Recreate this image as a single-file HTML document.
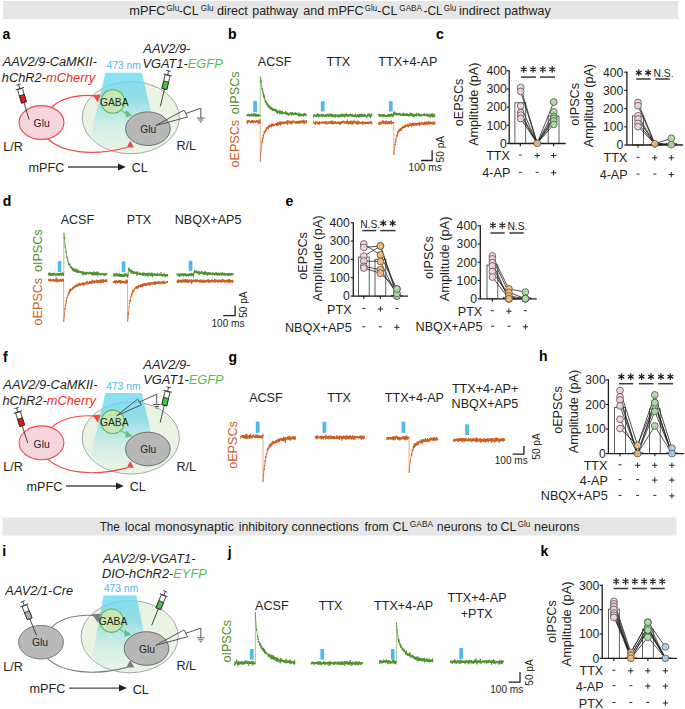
<!DOCTYPE html>
<html><head><meta charset="utf-8"><style>html,body{margin:0;padding:0;background:#fff;width:685px;height:709px;overflow:hidden}svg{display:block}text{font-family:"Liberation Sans",sans-serif}</style></head><body>
<svg width="685" height="709" viewBox="0 0 685 709" font-family="Liberation Sans, sans-serif"><defs><linearGradient id="conea" gradientUnits="userSpaceOnUse" x1="0" y1="72.8" x2="0" y2="154"><stop offset="0" stop-color="#6adcf4" stop-opacity="0.82"/><stop offset="0.3" stop-color="#6fd3e6" stop-opacity="0.72"/><stop offset="0.62" stop-color="#a8e2ea" stop-opacity="0.45"/><stop offset="1" stop-color="#d8f0f0" stop-opacity="0"/></linearGradient><linearGradient id="conef" gradientUnits="userSpaceOnUse" x1="0" y1="393.1" x2="0" y2="474.3"><stop offset="0" stop-color="#6adcf4" stop-opacity="0.82"/><stop offset="0.3" stop-color="#6fd3e6" stop-opacity="0.72"/><stop offset="0.62" stop-color="#a8e2ea" stop-opacity="0.45"/><stop offset="1" stop-color="#d8f0f0" stop-opacity="0"/></linearGradient><linearGradient id="conei" gradientUnits="userSpaceOnUse" x1="0" y1="595.3" x2="0" y2="673.8"><stop offset="0" stop-color="#6adcf4" stop-opacity="0.82"/><stop offset="0.3" stop-color="#6fd3e6" stop-opacity="0.72"/><stop offset="0.62" stop-color="#a8e2ea" stop-opacity="0.45"/><stop offset="1" stop-color="#d8f0f0" stop-opacity="0"/></linearGradient></defs><rect width="685" height="709" fill="#fff"/><rect x="3" y="1" width="675" height="18" fill="#e6e6e6" />
<text transform="translate(129.25,15.1) scale(1.0399,1)" font-size="12.3" text-anchor="start" fill="#231f20">mPFC</text>
<text transform="translate(166.28,11.2) scale(1.0251,1)" font-size="8.2" text-anchor="start" fill="#231f20">Glu</text>
<text transform="translate(178.75,15.1) scale(1.0019,1)" font-size="12.3" text-anchor="start" fill="#231f20">-CL</text>
<text transform="translate(200.79,11.2) scale(0.9997,1)" font-size="8.2" text-anchor="start" fill="#231f20">Glu</text>
<text transform="translate(216.97,15.1) scale(1.0281,1)" font-size="12.3" text-anchor="start" fill="#231f20">direct</text>
<text transform="translate(252.3,15.1) scale(1.0045,1)" font-size="12.3" text-anchor="start" fill="#231f20">pathway</text>
<text transform="translate(303.37,15.1) scale(1.0205,1)" font-size="12.3" text-anchor="start" fill="#231f20">and</text>
<text transform="translate(327.86,15.1) scale(1.031,1)" font-size="12.3" text-anchor="start" fill="#231f20">mPFC</text>
<text transform="translate(364.81,11.2) scale(0.9573,1)" font-size="8.2" text-anchor="start" fill="#231f20">Glu</text>
<text transform="translate(377.24,15.1) scale(1.0178,1)" font-size="12.3" text-anchor="start" fill="#231f20">-CL</text>
<text transform="translate(399.29,11.2) scale(0.9974,1)" font-size="8.2" text-anchor="start" fill="#231f20">GABA</text>
<text transform="translate(423.47,15.1) scale(0.9754,1)" font-size="12.3" text-anchor="start" fill="#231f20">-CL</text>
<text transform="translate(443.8,11.2) scale(0.9743,1)" font-size="8.2" text-anchor="start" fill="#231f20">Glu</text>
<text transform="translate(458.95,15.1) scale(1.0274,1)" font-size="12.3" text-anchor="start" fill="#231f20">indirect</text>
<text transform="translate(504.3,15.1) scale(1.0134,1)" font-size="12.3" text-anchor="start" fill="#231f20">pathway</text>
<rect x="2.5" y="517.5" width="674" height="18" fill="#e6e6e6" />
<text transform="translate(99.64,530.9) scale(0.95,1)" font-size="12.3" text-anchor="start" fill="#231f20">The</text>
<text transform="translate(124.76,530.9) scale(1.0108,1)" font-size="12.3" text-anchor="start" fill="#231f20">local</text>
<text transform="translate(154.75,530.9) scale(1.0448,1)" font-size="12.3" text-anchor="start" fill="#231f20">monosynaptic</text>
<text transform="translate(238.68,530.9) scale(1.0005,1)" font-size="12.3" text-anchor="start" fill="#231f20">inhibitory</text>
<text transform="translate(291.56,530.9) scale(1.0266,1)" font-size="12.3" text-anchor="start" fill="#231f20">connections</text>
<text transform="translate(364.43,530.9) scale(0.9867,1)" font-size="12.3" text-anchor="start" fill="#231f20">from</text>
<text transform="translate(392.47,530.9) scale(1.0075,1)" font-size="12.3" text-anchor="start" fill="#231f20">CL</text>
<text transform="translate(409.78,527) scale(1.0243,1)" font-size="8.2" text-anchor="start" fill="#231f20">GABA</text>
<text transform="translate(436.87,530.9) scale(1.0119,1)" font-size="12.3" text-anchor="start" fill="#231f20">neurons</text>
<text transform="translate(486.91,530.9) scale(1.0256,1)" font-size="12.3" text-anchor="start" fill="#231f20">to</text>
<text transform="translate(500.47,530.9) scale(1.0075,1)" font-size="12.3" text-anchor="start" fill="#231f20">CL</text>
<text transform="translate(517.79,527) scale(0.9828,1)" font-size="8.2" text-anchor="start" fill="#231f20">Glu</text>
<text transform="translate(534.06,530.9) scale(1.0234,1)" font-size="12.3" text-anchor="start" fill="#231f20">neurons</text>
<text transform="translate(2.59,38.8)" font-size="14" text-anchor="start" fill="#000" font-weight="bold">a</text>
<text transform="translate(227.98,38.7)" font-size="14" text-anchor="start" fill="#000" font-weight="bold">b</text>
<text transform="translate(435.95,39)" font-size="14" text-anchor="start" fill="#000" font-weight="bold">c</text>
<text transform="translate(2.63,205.6)" font-size="14" text-anchor="start" fill="#000" font-weight="bold">d</text>
<text transform="translate(285.45,205.9)" font-size="14" text-anchor="start" fill="#000" font-weight="bold">e</text>
<text transform="translate(2.96,362.2)" font-size="14" text-anchor="start" fill="#000" font-weight="bold">f</text>
<text transform="translate(228.53,361.7)" font-size="14" text-anchor="start" fill="#000" font-weight="bold">g</text>
<text transform="translate(539.02,361.4)" font-size="14" text-anchor="start" fill="#000" font-weight="bold">h</text>
<text transform="translate(2.22,556.4)" font-size="14" text-anchor="start" fill="#000" font-weight="bold">i</text>
<text transform="translate(227.82,556.6)" font-size="14" text-anchor="start" fill="#000" font-weight="bold">j</text>
<text transform="translate(540.52,556.2)" font-size="14" text-anchor="start" fill="#000" font-weight="bold">k</text>
<ellipse cx="130.8" cy="117.7" rx="48.6" ry="36.1" fill="#e9f5e2" stroke="#a6a6a6" stroke-width="1"/>
<polygon points="105.4,72.8 141.8,72.8 161,154 86.5,154" fill="url(#conea)"/>
<ellipse cx="41.5" cy="122.5" rx="22.4" ry="16.9" fill="#f5d6dc" stroke="#ef4848" stroke-width="1.1"/>
<path d="M52,107 C62,97 80,94.5 95,95.8" fill="none" stroke="#ef4848" stroke-width="1.2"/>
<path d="M47.5,138.8 C62,152 90,157 127,147.5" fill="none" stroke="#ef4848" stroke-width="1.2"/>
<polygon points="92.63,94.89 100.45,94.42 97.92,102.47" fill="#ef4848"/>
<polygon points="126.73,147.5 133.87,147.5 130.3,140.72" fill="#ef4848"/>
<circle cx="112.8" cy="101.5" r="11.7" fill="#c8e6b4" stroke="#4cbf4c" stroke-width="1.1"/>
<line x1="120.5" y1="110" x2="127" y2="114" stroke="#5cc38a" stroke-width="1.1"/>
<polygon points="126,110.3 132.6,115.6 125.5,117.5" fill="#5cc38a"/>
<ellipse cx="147.9" cy="128.7" rx="22.3" ry="16.8" fill="#b7b7b7" stroke="#6f6f6f" stroke-width="1"/>
<text transform="translate(99.94,105.8)" font-size="10.3" text-anchor="start" fill="#231f20">GABA</text>
<text transform="translate(140.32,132.9)" font-size="10.3" text-anchor="start" fill="#231f20">Glu</text>
<text transform="translate(33.62,127.2)" font-size="10.3" text-anchor="start" fill="#231f20">Glu</text>
<g fill="none" stroke="#555" stroke-width="1"><path d="M155.8,125.5 L184.1,110.1 L187.5,117 Z"/><path d="M185.8,113.5 L200.8,108.3 L200.8,118"/><path d="M197,118 H204.6 M198.4,120 H203.2 M199.8,122 H201.8"/></g>
<text transform="translate(3.17,150.7) scale(1.025,1)" font-size="12.3" text-anchor="start" fill="#231f20">L/R</text>
<text transform="translate(176.48,150.4) scale(1.025,1)" font-size="12.3" text-anchor="start" fill="#231f20">R/L</text>
<text transform="translate(28.56,171.6) scale(1.025,1)" font-size="12.3" text-anchor="start" fill="#231f20">mPFC</text>
<text transform="translate(131.78,172.4) scale(1.025,1)" font-size="12.3" text-anchor="start" fill="#231f20">CL</text>
<line x1="68" y1="167" x2="119" y2="167" stroke="#4a4a4a" stroke-width="1.3" />
<polygon points="118,163.5 125.8,167 118,170.4" fill="#231f20"/>
<g transform="translate(18.6,84.6) rotate(-16.7)" stroke="#231f20" stroke-width="0.75" fill="none"><line x1="-2.3" y1="0" x2="2.3" y2="0"/><line x1="0" y1="0" x2="0" y2="4.2"/><line x1="-4.3" y1="4.2" x2="4.3" y2="4.2"/><rect x="-2.5" y="4.6" width="5" height="14" fill="#fff"/><rect x="-2.5" y="11" width="5" height="7.6" fill="#e81818"/><line x1="0" y1="18.6" x2="0" y2="36.5"/></g>
<g transform="translate(168.6,70.8) rotate(13)" stroke="#231f20" stroke-width="0.75" fill="none"><line x1="-2.3" y1="0" x2="2.3" y2="0"/><line x1="0" y1="0" x2="0" y2="4.2"/><line x1="-4.3" y1="4.2" x2="4.3" y2="4.2"/><rect x="-2.5" y="4.6" width="5" height="14" fill="#fff"/><rect x="-2.5" y="11" width="5" height="7.6" fill="#3fc34a"/><line x1="0" y1="18.6" x2="0" y2="36.5"/></g>
<text transform="translate(2.63,66.1) scale(1.04345,1)" font-size="12.3" text-anchor="start" fill="#231f20" font-style="italic">AAV2/9-CaMKII-</text>
<text transform="translate(1.79,81.8) scale(1.04345,1)" font-size="12.3" text-anchor="start" fill="#231f20" font-style="italic">hChR2-<tspan fill="#f2282a">mCherry</tspan></text>
<text transform="translate(143.33,52.6) scale(1.04345,1)" font-size="12.3" text-anchor="start" fill="#231f20" font-style="italic">AAV2/9-</text>
<text transform="translate(142.39,68.3) scale(1.04345,1)" font-size="12.3" text-anchor="start" fill="#231f20" font-style="italic">VGAT1-<tspan fill="#4cc24c">EGFP</tspan></text>
<text transform="translate(106.54,69)" font-size="10.3" text-anchor="start" fill="#4fb9ec">473 nm</text>
<ellipse cx="130.8" cy="438" rx="48.6" ry="36.1" fill="#e9f5e2" stroke="#a6a6a6" stroke-width="1"/>
<polygon points="105.4,393.1 141.8,393.1 161,474.3 86.5,474.3" fill="url(#conef)"/>
<ellipse cx="41.5" cy="442.8" rx="22.4" ry="16.9" fill="#f5d6dc" stroke="#ef4848" stroke-width="1.1"/>
<path d="M52,427.3 C62,417.3 80,414.8 95,416.1" fill="none" stroke="#ef4848" stroke-width="1.2"/>
<path d="M47.5,459.1 C62,472.3 90,477.3 127,467.8" fill="none" stroke="#ef4848" stroke-width="1.2"/>
<polygon points="92.63,415.19 100.45,414.73 97.92,422.78" fill="#ef4848"/>
<polygon points="126.73,467.8 133.87,467.8 130.3,461.02" fill="#ef4848"/>
<circle cx="112.8" cy="421.8" r="11.7" fill="#c8e6b4" stroke="#4cbf4c" stroke-width="1.1"/>
<line x1="120.5" y1="430.3" x2="127" y2="434.3" stroke="#5cc38a" stroke-width="1.1"/>
<polygon points="126,430.6 132.6,435.9 125.5,437.8" fill="#5cc38a"/>
<ellipse cx="147.9" cy="449" rx="22.3" ry="16.8" fill="#b7b7b7" stroke="#6f6f6f" stroke-width="1"/>
<text transform="translate(99.94,426.1)" font-size="10.3" text-anchor="start" fill="#231f20">GABA</text>
<text transform="translate(140.32,453.2)" font-size="10.3" text-anchor="start" fill="#231f20">Glu</text>
<text transform="translate(33.62,447.5)" font-size="10.3" text-anchor="start" fill="#231f20">Glu</text>
<g fill="none" stroke="#555" stroke-width="1"><path d="M116.5,415.8 L137.6,399.2 L141.5,404.8 Z"/><path d="M139.6,402 L156.7,394.2 L156.7,404.6"/><path d="M153,404.6 H160.4 M154.4,406.4 H159 M155.8,408.2 H157.6"/></g>
<text transform="translate(3.17,471) scale(1.025,1)" font-size="12.3" text-anchor="start" fill="#231f20">L/R</text>
<text transform="translate(176.48,470.7) scale(1.025,1)" font-size="12.3" text-anchor="start" fill="#231f20">R/L</text>
<text transform="translate(26.56,490.6) scale(1.025,1)" font-size="12.3" text-anchor="start" fill="#231f20">mPFC</text>
<text transform="translate(129.78,491.4) scale(1.025,1)" font-size="12.3" text-anchor="start" fill="#231f20">CL</text>
<line x1="66" y1="486" x2="117" y2="486" stroke="#4a4a4a" stroke-width="1.3" />
<polygon points="116,482.5 123.8,486 116,489.4" fill="#231f20"/>
<g transform="translate(16.6,408) rotate(-17.6)" stroke="#231f20" stroke-width="0.75" fill="none"><line x1="-2.3" y1="0" x2="2.3" y2="0"/><line x1="0" y1="0" x2="0" y2="4.2"/><line x1="-4.3" y1="4.2" x2="4.3" y2="4.2"/><rect x="-2.5" y="4.6" width="5" height="14" fill="#fff"/><rect x="-2.5" y="11" width="5" height="7.6" fill="#e81818"/><line x1="0" y1="18.6" x2="0" y2="36.5"/></g>
<g transform="translate(168.6,387.2) rotate(13.4)" stroke="#231f20" stroke-width="0.75" fill="none"><line x1="-2.3" y1="0" x2="2.3" y2="0"/><line x1="0" y1="0" x2="0" y2="4.2"/><line x1="-4.3" y1="4.2" x2="4.3" y2="4.2"/><rect x="-2.5" y="4.6" width="5" height="14" fill="#fff"/><rect x="-2.5" y="11" width="5" height="7.6" fill="#3fc34a"/><line x1="0" y1="18.6" x2="0" y2="36.5"/></g>
<text transform="translate(3.33,389.2) scale(1.04345,1)" font-size="12.3" text-anchor="start" fill="#231f20" font-style="italic">AAV2/9-CaMKII-</text>
<text transform="translate(2.49,404.5) scale(1.04345,1)" font-size="12.3" text-anchor="start" fill="#231f20" font-style="italic">hChR2-<tspan fill="#f2282a">mCherry</tspan></text>
<text transform="translate(143.33,369.1) scale(1.04345,1)" font-size="12.3" text-anchor="start" fill="#231f20" font-style="italic">AAV2/9-</text>
<text transform="translate(143.29,384.3) scale(1.04345,1)" font-size="12.3" text-anchor="start" fill="#231f20" font-style="italic">VGAT1-<tspan fill="#4cc24c">EGFP</tspan></text>
<text transform="translate(106.14,389.8)" font-size="10.3" text-anchor="start" fill="#4fb9ec">473 nm</text>
<ellipse cx="129.7" cy="636.7" rx="48.6" ry="36.1" fill="#e9f5e2" stroke="#a6a6a6" stroke-width="1"/>
<polygon points="103.6,595.3 136.3,595.3 152.2,673.8 89,673.8" fill="url(#conei)"/>
<ellipse cx="41" cy="642.2" rx="22.4" ry="16.8" fill="#b9b9b9" stroke="#7a7a7a" stroke-width="1"/>
<path d="M52,626.8 C62,616.8 80,614.3 95,615.6" fill="none" stroke="#7d7d7d" stroke-width="1.2"/>
<path d="M47.5,658.6 C62,671.8 90,676.8 127,667.3" fill="none" stroke="#7d7d7d" stroke-width="1.2"/>
<polygon points="92.06,614.37 100.9,613.85 98.04,622.95" fill="#7d7d7d"/>
<polygon points="126.27,667.6 134.33,667.6 130.3,659.93" fill="#7d7d7d"/>
<circle cx="111.6" cy="620.7" r="11.7" fill="#c8e6b4" stroke="#4cbf4c" stroke-width="1.1"/>
<line x1="119.3" y1="629.2" x2="125.8" y2="633.2" stroke="#5cc38a" stroke-width="1.1"/>
<polygon points="124.8,629.5 131.4,634.8 124.3,636.7" fill="#5cc38a"/>
<ellipse cx="146.5" cy="648.5" rx="22.3" ry="16.8" fill="#b7b7b7" stroke="#6f6f6f" stroke-width="1"/>
<text transform="translate(98.74,625)" font-size="10.3" text-anchor="start" fill="#231f20">GABA</text>
<text transform="translate(138.92,652.7)" font-size="10.3" text-anchor="start" fill="#231f20">Glu</text>
<text transform="translate(31.92,645.6)" font-size="10.3" text-anchor="start" fill="#231f20">Glu</text>
<g fill="none" stroke="#555" stroke-width="1"><path d="M155.8,645.3 L184.1,629.9 L187.5,636.8 Z"/><path d="M185.8,633.3 L200.8,628.1 L200.8,637.8"/><path d="M197,637.8 H204.6 M198.4,639.8 H203.2 M199.8,641.8 H201.8"/></g>
<text transform="translate(3.17,670.5) scale(1.025,1)" font-size="12.3" text-anchor="start" fill="#231f20">L/R</text>
<text transform="translate(176.48,670.2) scale(1.025,1)" font-size="12.3" text-anchor="start" fill="#231f20">R/L</text>
<text transform="translate(29.56,692.7) scale(1.025,1)" font-size="12.3" text-anchor="start" fill="#231f20">mPFC</text>
<text transform="translate(132.78,693.5) scale(1.025,1)" font-size="12.3" text-anchor="start" fill="#231f20">CL</text>
<line x1="69" y1="688.1" x2="120" y2="688.1" stroke="#4a4a4a" stroke-width="1.3" />
<polygon points="119,684.6 126.8,688.1 119,691.5" fill="#231f20"/>
<g transform="translate(22.7,601.5) rotate(-22.2)" stroke="#231f20" stroke-width="0.75" fill="none"><line x1="-2.3" y1="0" x2="2.3" y2="0"/><line x1="0" y1="0" x2="0" y2="4.2"/><line x1="-4.3" y1="4.2" x2="4.3" y2="4.2"/><rect x="-2.5" y="4.6" width="5" height="14" fill="#fff"/><rect x="-2.5" y="11" width="5" height="7.6" fill="#b0b0b0"/><line x1="0" y1="18.6" x2="0" y2="36.5"/></g>
<g transform="translate(165.3,591.4) rotate(21.9)" stroke="#231f20" stroke-width="0.75" fill="none"><line x1="-2.3" y1="0" x2="2.3" y2="0"/><line x1="0" y1="0" x2="0" y2="4.2"/><line x1="-4.3" y1="4.2" x2="4.3" y2="4.2"/><rect x="-2.5" y="4.6" width="5" height="14" fill="#fff"/><rect x="-2.5" y="11" width="5" height="7.6" fill="#3fc34a"/><line x1="0" y1="18.6" x2="0" y2="36.5"/></g>
<text transform="translate(5.33,595) scale(1.04345,1)" font-size="12.3" text-anchor="start" fill="#231f20" font-style="italic">AAV2/1-Cre</text>
<text transform="translate(103.03,562.5) scale(1.04345,1)" font-size="12.3" text-anchor="start" fill="#231f20" font-style="italic">AAV2/9-VGAT1-</text>
<text transform="translate(102.01,577.8) scale(1.04345,1)" font-size="12.3" text-anchor="start" fill="#231f20" font-style="italic">DIO-hChR2-<tspan fill="#4cc24c">EYFP</tspan></text>
<text transform="translate(103.89,591.9)" font-size="10.3" text-anchor="start" fill="#4fb9ec">473 nm</text>
<text transform="translate(257.78,66) scale(1.025,1)" font-size="12.3" text-anchor="start" fill="#231f20">ACSF</text>
<text transform="translate(326.44,66) scale(1.025,1)" font-size="12.3" text-anchor="start" fill="#231f20">TTX</text>
<text transform="translate(378.29,66) scale(1.025,1)" font-size="12.3" text-anchor="start" fill="#231f20">TTX+4-AP</text>
<text transform="translate(238.8,119.5) rotate(-90) scale(1.025,1)" font-size="12.3" text-anchor="middle" fill="#231f20"><tspan fill="#c85c1e">oEPSCs</tspan> <tspan fill="#4e8f2c" dx="2.2">oIPSCs</tspan></text>
<polyline points="246.80,115.0 246.90,115.6 247.00,115.0 247.10,114.9 247.20,114.4 247.30,115.0 247.40,116.1 247.50,115.6 247.60,116.1 247.70,115.4 247.80,115.5 247.90,115.4 248.00,113.8 248.10,115.9 248.20,115.6 248.30,115.6 248.40,113.8 248.50,113.7 248.60,114.4 248.70,114.8 248.80,115.5 248.90,115.2 249.00,115.6 249.10,114.7 249.20,115.5 249.30,115.5 249.40,114.6 249.50,116.7 249.60,115.7 249.70,116.2 249.80,114.7 249.90,114.6 250.00,114.9 250.10,115.1 250.20,115.7 250.30,115.4 250.40,114.8 250.50,114.4 250.60,114.8 250.70,116.2 250.80,114.5 250.90,115.4 251.00,115.6 251.10,113.9 251.20,115.2 251.30,116.3 251.40,113.5 251.50,114.9 251.60,115.1 251.70,114.5 251.80,115.6 251.90,115.1 252.00,114.0 252.10,115.9 252.20,115.8 252.30,116.0 252.40,116.4 252.50,115.5 252.60,115.3 252.70,114.1 252.80,115.7 252.90,114.7 253.00,114.8 253.10,114.1 253.20,114.4 253.30,114.7 253.40,116.3 253.50,113.5 253.60,114.0 253.70,115.4 253.80,116.4 253.90,115.7 254.00,113.6 254.10,113.1 254.20,115.5 254.30,114.6 254.40,114.2 254.50,116.0 254.60,116.1 254.70,115.3 254.80,115.4 254.90,115.6 255.00,116.6 255.10,115.7 255.20,115.6 255.30,115.7 255.40,113.9 255.50,116.3 255.60,116.0 255.70,115.7 255.80,113.5 255.90,114.7 256.00,115.9 256.10,113.7 256.20,115.0 256.30,116.1 256.40,114.1 256.50,116.6 256.60,115.7 256.70,115.1 256.80,115.5 256.90,115.8 257.00,115.3 257.10,116.2 257.20,114.6 257.30,114.8 257.40,116.1 257.50,115.2 257.60,114.5 257.70,116.0 257.80,116.4 257.90,114.8 258.00,114.0 258.10,115.1 258.20,115.1 258.30,114.9 258.40,116.4 258.50,114.3 258.60,116.3 258.70,114.1 258.80,114.5 258.90,115.7 259.00,116.2 259.10,115.9 259.20,115.5 259.30,115.3 259.40,115.3 259.50,115.7 259.60,115.1 259.70,115.4 259.80,115.7 259.90,115.2 260.00,115.8 260.10,115.7 260.20,116.9" fill="none" stroke="#4e8f2c" stroke-width="0.75" stroke-linejoin="round"/>
<polyline points="260.30,76.2 260.40,76.4 260.50,77.3 260.60,78.4 260.70,80.0 260.80,79.7 260.90,81.1 261.00,83.0 261.10,80.0 261.20,81.9 261.30,83.8 261.40,84.5 261.50,85.1 261.60,85.1 261.70,86.6 261.80,86.9 261.90,86.8 262.00,89.9 262.10,88.7 262.20,88.4 262.30,89.4 262.40,89.8 262.50,90.4 262.60,88.6 262.70,91.0 262.80,92.7 262.90,91.3 263.00,92.7 263.10,94.0 263.20,94.3 263.30,95.3 263.40,93.0 263.50,94.5 263.60,94.9 263.70,96.1 263.80,96.8 263.90,94.0 264.00,97.5 264.10,95.7 264.20,97.8 264.30,96.3 264.40,98.0 264.50,99.2 264.60,98.3 264.70,98.9 264.80,99.7 264.90,99.4 265.00,99.5 265.10,101.2 265.20,101.0 265.30,100.1 265.40,102.9 265.50,99.9 265.60,101.9 265.70,101.1 265.80,101.6 265.90,102.3 266.00,102.1 266.10,102.7 266.20,101.1 266.30,101.3 266.40,103.3 266.50,102.1 266.60,102.3 266.70,102.1 266.80,104.6 266.90,104.3 267.00,105.1 267.10,103.2 267.20,104.2 267.30,103.4 267.40,105.1 267.50,106.0 267.60,104.0 267.70,106.3 267.80,105.9 267.90,105.1 268.00,103.7 268.10,106.7 268.20,105.5 268.30,105.2 268.40,106.2 268.50,106.3 268.60,107.4 268.70,105.4 268.80,107.3 268.90,107.7 269.00,107.8 269.10,106.5 269.20,106.2 269.30,107.8 269.40,107.1 269.50,107.2 269.60,108.4 269.70,107.1 269.80,105.4 269.90,107.2 270.00,106.0 270.10,108.4 270.20,108.0 270.30,107.3 270.40,107.9 270.50,108.7 270.60,108.2 270.70,109.3 270.80,108.2 270.90,109.2 271.00,109.7 271.10,109.9 271.20,108.0 271.30,109.4 271.40,107.1 271.50,107.9 271.60,107.2 271.70,109.8 271.80,107.9 271.90,109.0 272.00,109.0 272.10,109.2 272.20,108.7 272.30,109.5 272.40,110.9 272.50,109.5 272.60,109.9 272.70,110.4 272.80,109.4 272.90,108.6 273.00,109.2 273.10,110.7 273.20,108.4 273.30,109.4 273.40,110.8 273.50,110.6 273.60,110.0 273.70,110.8 273.80,110.3 273.90,109.2 274.00,108.9 274.10,109.7 274.20,111.1 274.30,109.9 274.40,109.6 274.50,109.8 274.60,109.2 274.70,110.4 274.80,109.6 274.90,110.9 275.00,108.7 275.10,111.0 275.20,110.2 275.30,109.1 275.40,111.4 275.50,110.6 275.60,109.0 275.70,110.2 275.80,111.2 275.90,110.6 276.00,111.7 276.10,111.7 276.20,111.7 276.30,111.4 276.40,112.3 276.50,111.8 276.60,111.6 276.70,109.5 276.80,112.1 276.90,112.5 277.00,111.1 277.10,111.0 277.20,113.1 277.30,110.0 277.40,111.9 277.50,113.6 277.60,110.8 277.70,112.2 277.80,113.2 277.90,111.6 278.00,112.2 278.10,112.5 278.20,111.0 278.30,111.7 278.40,112.1 278.50,112.5 278.60,111.8 278.70,111.7 278.80,111.1 278.90,111.6 279.00,112.7 279.10,112.1 279.20,111.3 279.30,111.3 279.40,114.3 279.50,113.1 279.60,112.7 279.70,109.9 279.80,112.7 279.90,112.6 280.00,113.6 280.10,112.6 280.20,112.2 280.30,112.7 280.40,110.7 280.50,113.2 280.60,112.6 280.70,111.8 280.80,113.5 280.90,114.0 281.00,111.2 281.10,111.9 281.20,112.7 281.30,112.7 281.40,112.2 281.50,111.7 281.60,114.4 281.70,113.5 281.80,111.6 281.90,111.5 282.00,114.1 282.10,113.5 282.20,114.2 282.30,113.4 282.40,112.0 282.50,113.0 282.60,110.9 282.70,112.1 282.80,112.7 282.90,113.3 283.00,112.2 283.10,112.7 283.20,113.3 283.30,113.2 283.40,113.4 283.50,113.1 283.60,112.7 283.70,113.6 283.80,113.0 283.90,112.3 284.00,112.5 284.10,113.0 284.20,112.9 284.30,113.2 284.40,113.1 284.50,113.2 284.60,113.0 284.70,112.0 284.80,113.5 284.90,114.0 285.00,113.5 285.10,113.0 285.20,113.6 285.30,112.4 285.40,111.6 285.50,113.3 285.60,112.5 285.70,113.9 285.80,112.4 285.90,111.1 286.00,112.4 286.10,114.7 286.20,113.0 286.30,112.2 286.40,112.7 286.50,113.8 286.60,113.8 286.70,113.5 286.80,114.7 286.90,114.0 287.00,113.4 287.10,114.0 287.20,114.9 287.30,114.3 287.40,114.4 287.50,112.6 287.60,113.4 287.70,114.1 287.80,113.3 287.90,114.5 288.00,114.1 288.10,114.3 288.20,113.4 288.30,115.8 288.40,114.7 288.50,113.4 288.60,113.7 288.70,115.8 288.80,113.4 288.90,114.4 289.00,114.5 289.10,113.7 289.20,112.7 289.30,113.9 289.40,114.0 289.50,114.7 289.60,114.4 289.70,113.8 289.80,114.5 289.90,114.2 290.00,114.0 290.10,113.8 290.20,113.6 290.30,114.4 290.40,112.9 290.50,113.3 290.60,113.8 290.70,112.6 290.80,113.5 290.90,112.2 291.00,113.3 291.10,114.4 291.20,114.4 291.30,113.9 291.40,113.7 291.50,112.7 291.60,115.5 291.70,114.4 291.80,114.9 291.90,113.2 292.00,113.8 292.10,112.4 292.20,114.7 292.30,114.8 292.40,112.4 292.50,114.0 292.60,114.6 292.70,112.5 292.80,112.5 292.90,113.1 293.00,113.5 293.10,112.9 293.20,114.1 293.30,114.3 293.40,114.6 293.50,114.7 293.60,115.4 293.70,115.1 293.80,113.0 293.90,113.7 294.00,113.2 294.10,113.2 294.20,114.1 294.30,114.2 294.40,114.6 294.50,112.8 294.60,113.1 294.70,114.2 294.80,114.0 294.90,113.9 295.00,114.2 295.10,113.6 295.20,114.8 295.30,114.5 295.40,114.2 295.50,113.7 295.60,114.1 295.70,111.9 295.80,113.4 295.90,114.3 296.00,113.0 296.10,114.5 296.20,114.4 296.30,113.1 296.40,114.1 296.50,114.0 296.60,114.7 296.70,114.8 296.80,114.3 296.90,113.6 297.00,114.2 297.10,114.3 297.20,115.0 297.30,114.6 297.40,113.8 297.50,113.2 297.60,114.1 297.70,113.8 297.80,113.4 297.90,114.3 298.00,114.0 298.10,114.5 298.20,114.9 298.30,114.1 298.40,116.4 298.50,114.2 298.60,115.4 298.70,114.5 298.80,115.4 298.90,112.4 299.00,113.8 299.10,114.7 299.20,115.0 299.30,116.5 299.40,114.8 299.50,115.6 299.60,115.1 299.70,115.3 299.80,114.9 299.90,114.4 300.00,114.9 300.10,113.6 300.20,115.5 300.30,113.7 300.40,114.7 300.50,116.3 300.60,114.3 300.70,114.6 300.80,115.5 300.90,114.6 301.00,113.9 301.10,114.8 301.20,115.1 301.30,115.2 301.40,113.9 301.50,116.1 301.60,116.0 301.70,114.6 301.80,114.8 301.90,114.2 302.00,115.8 302.10,114.0 302.20,115.2 302.30,114.2 302.40,114.0 302.50,115.2 302.60,115.8 302.70,114.6 302.80,114.1 302.90,115.3 303.00,114.6 303.10,114.9 303.20,115.9 303.30,115.6 303.40,114.2 303.50,116.6 303.60,114.7 303.70,115.3 303.80,114.1 303.90,114.6 304.00,113.2 304.10,116.2 304.20,115.8 304.30,113.7 304.40,113.4 304.50,113.3 304.60,115.7 304.70,114.3 304.80,114.7 304.90,114.4 305.00,114.6 305.10,113.8 305.20,114.7 305.30,113.5 305.40,114.7 305.50,115.0 305.60,115.1 305.70,114.5 305.80,114.0 305.90,114.9 306.00,114.3 306.10,116.1 306.20,115.4 306.30,114.7 306.40,114.4 306.50,114.2 306.60,114.0" fill="none" stroke="#4e8f2c" stroke-width="0.75" stroke-linejoin="round"/>
<line x1="260.20" y1="116.9" x2="260.30" y2="76.2" stroke="#4e8f2c" stroke-width="0.7" opacity="0.7"/>
<polyline points="246.80,121.3 246.90,121.9 247.00,122.0 247.10,122.1 247.20,123.4 247.30,121.0 247.40,121.6 247.50,124.0 247.60,120.0 247.70,121.2 247.80,121.7 247.90,121.7 248.00,121.9 248.10,121.4 248.20,121.9 248.30,121.6 248.40,122.3 248.50,120.0 248.60,120.8 248.70,121.6 248.80,120.7 248.90,120.7 249.00,122.1 249.10,121.0 249.20,122.1 249.30,122.2 249.40,121.9 249.50,122.0 249.60,121.5 249.70,120.4 249.80,121.6 249.90,122.0 250.00,121.2 250.10,121.5 250.20,122.2 250.30,120.9 250.40,122.1 250.50,123.2 250.60,121.1 250.70,121.7 250.80,121.5 250.90,122.9 251.00,121.9 251.10,122.4 251.20,121.0 251.30,121.6 251.40,121.6 251.50,120.1 251.60,122.8 251.70,122.4 251.80,120.1 251.90,122.2 252.00,121.5 252.10,122.0 252.20,121.9 252.30,120.3 252.40,121.4 252.50,122.9 252.60,121.1 252.70,120.7 252.80,120.4 252.90,120.6 253.00,121.9 253.10,123.0 253.20,122.0 253.30,121.8 253.40,123.5 253.50,121.2 253.60,121.0 253.70,122.0 253.80,122.1 253.90,120.7 254.00,120.6 254.10,121.8 254.20,121.8 254.30,120.5 254.40,121.4 254.50,121.1 254.60,122.0 254.70,121.5 254.80,121.5 254.90,121.3 255.00,122.5 255.10,122.8 255.20,121.3 255.30,122.3 255.40,121.0 255.50,121.7 255.60,122.2 255.70,122.9 255.80,121.3 255.90,121.5 256.00,121.8 256.10,120.3 256.20,121.6 256.30,121.0 256.40,121.9 256.50,120.6 256.60,119.9 256.70,121.6 256.80,121.8 256.90,121.1 257.00,122.4 257.10,121.4 257.20,121.1 257.30,122.0 257.40,120.3 257.50,121.0 257.60,121.6 257.70,122.3 257.80,121.5 257.90,121.9 258.00,121.0 258.10,121.9 258.20,123.0 258.30,121.0 258.40,123.6 258.50,121.1 258.60,121.6 258.70,121.7 258.80,122.5 258.90,120.5 259.00,119.8 259.10,122.1 259.20,122.3 259.30,122.1 259.40,123.8 259.50,121.8 259.60,121.8 259.70,122.4 259.80,121.9 259.90,123.0 260.00,120.5 260.10,121.3 260.20,118.7" fill="none" stroke="#c85c1e" stroke-width="0.75" stroke-linejoin="round"/>
<polyline points="260.30,161.9 260.40,159.4 260.50,159.0 260.60,158.6 260.70,155.5 260.80,154.0 260.90,152.6 261.00,151.2 261.10,150.2 261.20,150.3 261.30,148.8 261.40,147.8 261.50,146.7 261.60,146.8 261.70,145.6 261.80,144.2 261.90,144.2 262.00,142.8 262.10,141.2 262.20,142.8 262.30,141.3 262.40,139.5 262.50,140.6 262.60,139.5 262.70,137.3 262.80,139.5 262.90,137.9 263.00,138.0 263.10,136.9 263.20,136.2 263.30,134.6 263.40,136.4 263.50,135.2 263.60,134.6 263.70,134.8 263.80,134.2 263.90,134.4 264.00,133.2 264.10,133.2 264.20,131.2 264.30,132.4 264.40,133.0 264.50,133.3 264.60,131.7 264.70,131.6 264.80,132.9 264.90,131.0 265.00,131.7 265.10,132.4 265.20,130.8 265.30,131.6 265.40,129.8 265.50,130.4 265.60,130.0 265.70,130.0 265.80,130.7 265.90,131.6 266.00,128.9 266.10,128.9 266.20,129.6 266.30,128.2 266.40,129.4 266.50,129.3 266.60,128.5 266.70,129.1 266.80,127.2 266.90,129.1 267.00,127.0 267.10,127.6 267.20,127.6 267.30,127.7 267.40,128.7 267.50,127.9 267.60,127.4 267.70,128.1 267.80,128.9 267.90,127.5 268.00,127.8 268.10,128.4 268.20,127.5 268.30,126.1 268.40,129.3 268.50,129.0 268.60,125.3 268.70,126.9 268.80,127.3 268.90,127.7 269.00,127.3 269.10,126.5 269.20,125.8 269.30,126.7 269.40,127.4 269.50,125.6 269.60,125.6 269.70,126.4 269.80,124.7 269.90,126.1 270.00,125.9 270.10,126.6 270.20,125.6 270.30,125.4 270.40,125.7 270.50,126.0 270.60,125.4 270.70,125.9 270.80,126.5 270.90,126.8 271.00,127.2 271.10,125.1 271.20,125.4 271.30,123.6 271.40,127.3 271.50,125.0 271.60,125.5 271.70,126.0 271.80,124.3 271.90,125.8 272.00,125.4 272.10,123.8 272.20,125.6 272.30,126.3 272.40,123.7 272.50,125.9 272.60,125.4 272.70,125.6 272.80,125.5 272.90,126.2 273.00,124.9 273.10,125.8 273.20,124.7 273.30,125.6 273.40,124.3 273.50,124.8 273.60,126.4 273.70,125.3 273.80,124.7 273.90,123.8 274.00,124.1 274.10,124.9 274.20,125.5 274.30,125.1 274.40,125.1 274.50,124.6 274.60,125.8 274.70,124.3 274.80,124.1 274.90,125.3 275.00,124.6 275.10,124.3 275.20,124.0 275.30,124.2 275.40,125.0 275.50,124.7 275.60,123.4 275.70,124.7 275.80,124.5 275.90,123.5 276.00,124.9 276.10,124.0 276.20,124.0 276.30,124.9 276.40,125.3 276.50,123.6 276.60,124.5 276.70,123.4 276.80,126.1 276.90,123.7 277.00,125.1 277.10,123.5 277.20,124.7 277.30,125.9 277.40,121.8 277.50,123.6 277.60,124.4 277.70,123.8 277.80,123.3 277.90,125.7 278.00,123.9 278.10,122.5 278.20,124.6 278.30,122.3 278.40,124.8 278.50,123.3 278.60,123.9 278.70,124.8 278.80,123.8 278.90,122.5 279.00,122.2 279.10,124.7 279.20,124.3 279.30,122.9 279.40,124.3 279.50,124.0 279.60,124.1 279.70,121.6 279.80,123.3 279.90,124.3 280.00,124.1 280.10,124.3 280.20,121.4 280.30,123.6 280.40,123.9 280.50,125.6 280.60,122.6 280.70,123.1 280.80,123.4 280.90,124.1 281.00,123.0 281.10,124.3 281.20,122.7 281.30,123.5 281.40,122.9 281.50,123.4 281.60,122.7 281.70,121.9 281.80,124.2 281.90,123.5 282.00,122.7 282.10,123.4 282.20,124.0 282.30,122.4 282.40,123.1 282.50,123.6 282.60,123.6 282.70,122.8 282.80,121.3 282.90,124.2 283.00,123.4 283.10,123.1 283.20,122.8 283.30,123.3 283.40,122.7 283.50,122.2 283.60,122.4 283.70,122.5 283.80,122.5 283.90,122.0 284.00,123.5 284.10,121.8 284.20,123.5 284.30,122.1 284.40,123.2 284.50,124.1 284.60,123.1 284.70,122.3 284.80,122.9 284.90,123.0 285.00,121.4 285.10,122.3 285.20,123.0 285.30,122.4 285.40,122.9 285.50,123.4 285.60,123.5 285.70,123.6 285.80,123.3 285.90,122.5 286.00,122.7 286.10,122.5 286.20,122.5 286.30,122.6 286.40,121.3 286.50,122.4 286.60,122.7 286.70,121.9 286.80,122.7 286.90,123.1 287.00,122.5 287.10,124.4 287.20,120.4 287.30,122.5 287.40,121.1 287.50,123.5 287.60,124.9 287.70,120.5 287.80,122.7 287.90,123.0 288.00,122.3 288.10,123.0 288.20,120.7 288.30,123.3 288.40,122.9 288.50,122.6 288.60,122.0 288.70,123.1 288.80,122.1 288.90,122.7 289.00,122.1 289.10,120.6 289.20,122.5 289.30,122.7 289.40,123.1 289.50,121.7 289.60,122.4 289.70,123.0 289.80,122.6 289.90,123.5 290.00,124.1 290.10,121.7 290.20,120.8 290.30,123.1 290.40,123.7 290.50,123.2 290.60,123.1 290.70,121.9 290.80,121.8 290.90,123.1 291.00,121.6 291.10,120.8 291.20,121.5 291.30,124.5 291.40,124.0 291.50,121.8 291.60,121.7 291.70,122.5 291.80,121.7 291.90,123.4 292.00,122.2 292.10,121.4 292.20,123.4 292.30,121.8 292.40,122.5 292.50,122.3 292.60,122.0 292.70,122.5 292.80,121.7 292.90,120.7 293.00,120.4 293.10,121.2 293.20,121.6 293.30,122.2 293.40,122.3 293.50,122.7 293.60,122.3 293.70,121.5 293.80,121.6 293.90,120.4 294.00,122.1 294.10,122.6 294.20,122.6 294.30,122.1 294.40,122.0 294.50,123.0 294.60,122.2 294.70,122.8 294.80,122.7 294.90,122.3 295.00,123.3 295.10,121.7 295.20,121.8 295.30,121.4 295.40,121.5 295.50,123.4 295.60,123.6 295.70,122.1 295.80,122.6 295.90,123.1 296.00,122.8 296.10,123.1 296.20,121.0 296.30,121.5 296.40,122.5 296.50,123.3 296.60,122.2 296.70,121.3 296.80,121.8 296.90,121.5 297.00,121.3 297.10,123.3 297.20,121.5 297.30,122.1 297.40,123.9 297.50,123.1 297.60,122.3 297.70,121.5 297.80,122.4 297.90,123.4 298.00,122.6 298.10,123.1 298.20,122.1 298.30,122.5 298.40,121.8 298.50,122.4 298.60,123.1 298.70,120.8 298.80,121.9 298.90,122.2 299.00,121.5 299.10,121.7 299.20,122.7 299.30,123.7 299.40,122.5 299.50,122.3 299.60,120.7 299.70,123.6 299.80,122.0 299.90,121.9 300.00,121.0 300.10,121.9 300.20,121.0 300.30,122.0 300.40,122.3 300.50,122.0 300.60,122.2 300.70,121.2 300.80,123.2 300.90,121.4 301.00,120.4 301.10,121.8 301.20,121.3 301.30,121.1 301.40,121.6 301.50,122.2 301.60,120.9 301.70,121.8 301.80,123.1 301.90,122.5 302.00,121.8 302.10,122.0 302.20,121.8 302.30,121.9 302.40,122.5 302.50,121.8 302.60,119.8 302.70,121.9 302.80,121.1 302.90,122.4 303.00,121.4 303.10,122.0 303.20,123.7 303.30,121.0 303.40,120.9 303.50,120.7 303.60,119.8 303.70,120.3 303.80,122.2 303.90,121.3 304.00,120.3 304.10,120.6 304.20,122.4 304.30,121.2 304.40,121.5 304.50,122.1 304.60,123.0 304.70,123.5 304.80,122.7 304.90,122.0 305.00,122.0 305.10,123.4 305.20,123.0 305.30,121.6 305.40,122.2 305.50,122.1 305.60,121.9 305.70,121.4 305.80,120.7 305.90,121.4 306.00,120.5 306.10,122.9 306.20,122.3 306.30,120.8 306.40,123.0 306.50,122.6 306.60,120.2" fill="none" stroke="#c85c1e" stroke-width="0.75" stroke-linejoin="round"/>
<line x1="260.20" y1="118.7" x2="260.30" y2="161.9" stroke="#c85c1e" stroke-width="0.7" opacity="0.7"/>
<polyline points="313.30,117.1 313.40,116.2 313.50,117.3 313.60,114.5 313.70,116.0 313.80,115.9 313.90,115.7 314.00,115.6 314.10,116.4 314.20,114.2 314.30,114.4 314.40,114.3 314.50,115.0 314.60,115.0 314.70,115.8 314.80,115.7 314.90,115.5 315.00,114.9 315.10,115.1 315.20,116.3 315.30,116.1 315.40,115.6 315.50,115.2 315.60,116.8 315.70,115.0 315.80,116.1 315.90,116.5 316.00,115.3 316.10,116.2 316.20,114.6 316.30,116.4 316.40,115.7 316.50,114.2 316.60,116.1 316.70,114.7 316.80,116.6 316.90,114.9 317.00,115.4 317.10,115.7 317.20,115.2 317.30,115.7 317.40,115.0 317.50,116.1 317.60,115.5 317.70,115.7 317.80,113.2 317.90,116.5 318.00,115.5 318.10,114.0 318.20,115.6 318.30,115.9 318.40,116.4 318.50,114.6 318.60,116.8 318.70,115.4 318.80,117.5 318.90,115.4 319.00,116.1 319.10,115.2 319.20,114.6 319.30,116.4 319.40,116.3 319.50,116.8 319.60,116.2 319.70,115.0 319.80,114.1 319.90,114.9 320.00,114.9 320.10,114.8 320.20,116.0 320.30,115.8 320.40,115.3 320.50,115.6 320.60,115.4 320.70,115.7 320.80,116.1 320.90,116.3 321.00,114.9 321.10,114.2 321.20,116.7 321.30,115.6 321.40,116.4 321.50,114.1 321.60,115.2 321.70,115.5 321.80,114.3 321.90,115.1 322.00,116.1 322.10,116.4 322.20,116.9 322.30,114.8 322.40,114.3 322.50,115.9 322.60,116.3 322.70,115.7 322.80,114.4 322.90,116.2 323.00,116.2 323.10,116.0 323.20,115.1 323.30,115.8 323.40,116.2 323.50,115.0 323.60,113.9 323.70,115.8 323.80,115.9 323.90,115.5 324.00,116.3 324.10,115.0 324.20,115.4 324.30,115.2 324.40,116.0 324.50,116.9 324.60,115.3 324.70,117.2 324.80,116.8 324.90,116.2 325.00,116.0 325.10,117.0 325.20,115.3 325.30,115.4 325.40,114.6 325.50,115.9 325.60,116.6 325.70,116.0 325.80,115.9 325.90,115.3 326.00,115.6 326.10,114.3 326.20,116.4 326.30,115.2 326.40,114.6 326.50,114.9 326.60,114.8 326.70,116.2 326.80,116.4 326.90,114.3 327.00,116.3 327.10,116.3 327.20,115.0 327.30,114.2 327.40,114.9 327.50,115.0 327.60,115.8 327.70,115.2 327.80,113.8 327.90,115.7 328.00,114.2 328.10,116.3 328.20,114.5 328.30,114.9 328.40,114.8 328.50,115.0 328.60,116.6 328.70,116.2 328.80,116.0 328.90,115.8 329.00,114.2 329.10,115.1 329.20,115.0 329.30,114.7 329.40,115.9 329.50,114.9 329.60,114.9 329.70,114.6 329.80,113.8 329.90,116.0 330.00,116.6 330.10,115.6 330.20,114.7 330.30,113.2 330.40,115.6 330.50,116.5 330.60,115.8 330.70,116.3 330.80,116.8 330.90,116.5 331.00,115.1 331.10,116.4 331.20,116.2 331.30,114.2 331.40,115.2 331.50,114.3 331.60,115.4 331.70,116.0 331.80,114.6 331.90,113.8 332.00,116.6 332.10,115.8 332.20,116.8 332.30,114.4 332.40,116.4 332.50,117.3 332.60,117.2 332.70,115.3 332.80,115.7 332.90,115.4 333.00,116.3 333.10,116.4 333.20,115.6 333.30,114.3 333.40,116.1 333.50,115.1 333.60,116.0 333.70,115.7 333.80,116.9 333.90,116.5 334.00,115.1 334.10,115.8 334.20,117.0 334.30,115.0 334.40,115.9 334.50,116.5 334.60,116.6 334.70,115.9 334.80,114.4 334.90,114.4 335.00,115.7 335.10,115.8 335.20,117.7 335.30,114.8 335.40,116.5 335.50,116.2 335.60,114.1 335.70,114.8 335.80,115.6 335.90,115.1 336.00,115.4 336.10,115.9 336.20,114.8 336.30,115.9 336.40,115.0 336.50,115.0 336.60,116.0 336.70,115.0 336.80,115.7 336.90,116.9 337.00,115.5 337.10,115.4 337.20,116.1 337.30,115.2 337.40,116.4 337.50,114.4 337.60,116.0 337.70,115.1 337.80,114.8 337.90,117.0 338.00,114.8 338.10,117.0 338.20,116.1 338.30,116.7 338.40,114.7 338.50,116.5 338.60,116.7 338.70,115.4 338.80,115.4 338.90,117.6 339.00,115.7 339.10,115.1 339.20,115.0 339.30,115.9 339.40,115.8 339.50,115.7 339.60,117.0 339.70,115.2 339.80,115.9 339.90,116.7 340.00,114.6 340.10,116.4 340.20,117.1 340.30,114.3 340.40,114.6 340.50,114.6 340.60,113.9 340.70,115.9 340.80,113.9 340.90,115.9 341.00,116.7 341.10,114.1 341.20,115.2 341.30,113.9 341.40,116.2 341.50,114.9 341.60,115.3 341.70,115.5 341.80,116.0 341.90,115.2 342.00,115.5 342.10,115.0 342.20,115.6 342.30,114.5 342.40,115.6 342.50,113.9 342.60,115.1 342.70,117.1 342.80,115.6 342.90,114.4 343.00,115.7 343.10,114.7 343.20,114.1 343.30,114.9 343.40,116.1 343.50,115.8 343.60,115.4 343.70,114.7 343.80,114.6 343.90,116.6 344.00,115.7 344.10,114.7 344.20,113.7 344.30,114.3 344.40,117.6 344.50,114.5 344.60,115.4 344.70,115.7 344.80,115.4 344.90,115.3 345.00,114.3 345.10,114.6 345.20,116.9 345.30,114.9 345.40,116.2 345.50,114.1 345.60,115.3 345.70,115.7 345.80,116.4 345.90,114.5 346.00,116.0 346.10,115.8 346.20,114.9 346.30,115.9 346.40,114.7 346.50,114.8 346.60,115.5 346.70,113.2 346.80,115.4 346.90,114.6 347.00,114.3 347.10,115.1 347.20,116.1 347.30,115.2 347.40,116.6 347.50,114.5 347.60,114.4 347.70,116.8 347.80,115.8 347.90,116.3 348.00,114.8 348.10,116.2 348.20,115.7 348.30,116.1 348.40,115.5 348.50,116.5 348.60,114.9 348.70,114.7 348.80,114.2 348.90,116.5 349.00,114.9 349.10,114.6 349.20,114.7 349.30,115.1 349.40,114.4 349.50,115.3 349.60,115.0 349.70,115.0 349.80,114.7 349.90,115.5 350.00,115.1 350.10,115.6 350.20,115.7 350.30,115.8 350.40,113.6 350.50,115.0 350.60,114.8 350.70,116.2 350.80,114.2 350.90,114.9 351.00,115.3 351.10,115.2 351.20,116.3 351.30,115.1 351.40,116.3 351.50,114.3 351.60,114.0 351.70,116.5 351.80,115.9 351.90,115.9 352.00,115.6 352.10,115.9 352.20,114.5 352.30,116.3 352.40,115.0 352.50,116.3 352.60,115.6 352.70,113.8 352.80,114.4 352.90,116.5 353.00,115.4 353.10,115.2 353.20,115.7 353.30,115.1 353.40,115.0 353.50,115.6 353.60,115.6 353.70,116.8 353.80,115.5 353.90,117.1 354.00,117.0 354.10,117.0 354.20,116.4 354.30,115.6 354.40,115.6 354.50,115.4 354.60,114.9 354.70,115.4 354.80,115.0 354.90,116.9 355.00,116.0 355.10,115.1 355.20,113.9 355.30,115.5 355.40,115.1 355.50,114.6 355.60,114.5 355.70,113.6 355.80,116.0 355.90,115.4 356.00,117.7 356.10,115.5 356.20,115.4 356.30,116.7 356.40,115.6 356.50,115.6 356.60,115.2 356.70,115.0 356.80,116.8 356.90,116.4 357.00,117.0 357.10,115.2 357.20,115.5 357.30,114.8 357.40,116.3 357.50,114.3 357.60,116.0 357.70,116.4 357.80,116.7 357.90,114.7 358.00,116.4 358.10,114.9 358.20,114.9 358.30,114.4 358.40,116.5 358.50,116.9 358.60,115.0 358.70,114.9 358.80,115.2 358.90,117.6 359.00,116.4 359.10,115.0 359.20,114.0 359.30,114.9 359.40,116.5 359.50,117.1 359.60,115.3 359.70,114.9 359.80,115.1 359.90,113.9 360.00,116.3 360.10,114.6 360.20,116.4 360.30,114.0 360.40,114.4 360.50,115.7 360.60,114.9 360.70,116.2 360.80,115.5 360.90,114.5 361.00,116.0 361.10,116.2 361.20,113.9 361.30,117.1 361.40,115.9 361.50,116.1 361.60,113.9 361.70,114.9 361.80,115.2 361.90,116.4 362.00,114.3 362.10,114.7 362.20,113.8 362.30,115.3 362.40,115.8 362.50,114.1 362.60,115.0 362.70,115.9 362.80,116.8 362.90,116.1 363.00,115.2 363.10,114.5 363.20,114.7 363.30,114.9 363.40,115.6 363.50,115.5 363.60,116.9 363.70,115.7 363.80,114.6 363.90,116.8 364.00,116.3 364.10,115.6 364.20,114.9 364.30,113.9 364.40,114.6 364.50,116.3 364.60,114.8 364.70,114.4 364.80,115.7 364.90,115.7 365.00,116.0 365.10,116.1 365.20,116.7 365.30,114.8 365.40,116.3 365.50,114.7 365.60,116.1 365.70,115.7 365.80,115.7 365.90,116.3 366.00,115.5 366.10,116.4 366.20,116.2 366.30,115.6 366.40,115.0 366.50,114.9 366.60,115.1 366.70,115.3 366.80,115.5 366.90,118.0 367.00,116.0 367.10,116.2 367.20,114.8 367.30,114.9 367.40,115.2 367.50,115.7 367.60,114.6 367.70,116.9 367.80,115.0 367.90,116.4 368.00,113.5 368.10,115.5 368.20,115.7 368.30,115.7 368.40,116.0 368.50,115.7 368.60,115.6 368.70,113.9 368.80,114.9 368.90,113.5 369.00,116.0 369.10,115.8 369.20,115.3 369.30,114.8 369.40,115.0 369.50,117.1 369.60,117.0 369.70,115.5 369.80,116.6 369.90,114.2 370.00,113.9 370.10,115.1 370.20,114.8 370.30,115.0 370.40,115.7 370.50,118.1 370.60,114.9 370.70,115.5 370.80,115.7 370.90,115.5 371.00,116.3 371.10,117.0 371.20,114.4 371.30,115.6 371.40,115.3 371.50,115.8 371.60,114.2 371.70,114.0 371.80,113.5 371.90,115.9 372.00,115.7 372.10,115.6" fill="none" stroke="#4e8f2c" stroke-width="0.75" stroke-linejoin="round"/>
<polyline points="313.30,120.7 313.40,122.4 313.50,122.1 313.60,121.5 313.70,121.9 313.80,123.3 313.90,123.2 314.00,122.7 314.10,123.1 314.20,122.2 314.30,122.8 314.40,122.7 314.50,123.2 314.60,122.6 314.70,122.6 314.80,122.6 314.90,122.2 315.00,124.6 315.10,123.1 315.20,123.1 315.30,124.6 315.40,123.9 315.50,121.4 315.60,123.3 315.70,123.4 315.80,124.3 315.90,123.8 316.00,123.4 316.10,121.7 316.20,122.0 316.30,122.9 316.40,123.1 316.50,121.8 316.60,122.4 316.70,122.4 316.80,122.8 316.90,123.0 317.00,122.5 317.10,121.6 317.20,123.8 317.30,124.1 317.40,122.6 317.50,123.6 317.60,123.1 317.70,123.3 317.80,123.1 317.90,122.1 318.00,123.2 318.10,123.6 318.20,121.9 318.30,124.4 318.40,124.5 318.50,124.2 318.60,124.4 318.70,123.3 318.80,122.4 318.90,122.2 319.00,122.0 319.10,122.8 319.20,122.7 319.30,123.3 319.40,121.0 319.50,124.7 319.60,124.6 319.70,122.7 319.80,123.3 319.90,123.1 320.00,122.9 320.10,122.5 320.20,122.6 320.30,122.0 320.40,122.9 320.50,122.7 320.60,123.0 320.70,122.0 320.80,122.7 320.90,122.7 321.00,123.2 321.10,121.8 321.20,123.1 321.30,123.5 321.40,123.2 321.50,122.4 321.60,122.3 321.70,122.5 321.80,123.3 321.90,124.0 322.00,122.6 322.10,122.2 322.20,123.0 322.30,122.9 322.40,121.9 322.50,122.1 322.60,122.6 322.70,123.3 322.80,121.7 322.90,121.8 323.00,123.1 323.10,121.7 323.20,122.8 323.30,123.0 323.40,122.6 323.50,121.8 323.60,122.6 323.70,122.4 323.80,123.0 323.90,122.0 324.00,123.6 324.10,121.3 324.20,122.6 324.30,122.7 324.40,123.5 324.50,122.2 324.60,123.2 324.70,122.2 324.80,123.3 324.90,124.2 325.00,122.4 325.10,123.1 325.20,121.9 325.30,123.5 325.40,123.7 325.50,122.7 325.60,121.7 325.70,123.0 325.80,123.7 325.90,123.6 326.00,123.4 326.10,121.1 326.20,122.1 326.30,123.9 326.40,121.7 326.50,123.7 326.60,124.3 326.70,123.3 326.80,123.7 326.90,122.4 327.00,121.7 327.10,122.6 327.20,122.5 327.30,122.7 327.40,123.3 327.50,122.6 327.60,122.9 327.70,123.1 327.80,122.7 327.90,124.3 328.00,123.1 328.10,122.8 328.20,122.5 328.30,122.2 328.40,123.8 328.50,122.8 328.60,121.8 328.70,122.2 328.80,122.6 328.90,122.3 329.00,123.6 329.10,121.7 329.20,123.1 329.30,122.8 329.40,121.7 329.50,122.7 329.60,122.6 329.70,123.1 329.80,122.3 329.90,123.0 330.00,121.3 330.10,121.8 330.20,123.4 330.30,123.6 330.40,122.7 330.50,122.2 330.60,123.6 330.70,120.9 330.80,122.0 330.90,123.3 331.00,123.3 331.10,121.8 331.20,121.1 331.30,123.9 331.40,122.8 331.50,121.9 331.60,122.7 331.70,123.5 331.80,120.5 331.90,123.6 332.00,123.3 332.10,120.9 332.20,123.4 332.30,121.2 332.40,123.7 332.50,123.0 332.60,124.6 332.70,122.2 332.80,122.7 332.90,123.6 333.00,122.2 333.10,122.1 333.20,122.4 333.30,122.6 333.40,121.8 333.50,123.1 333.60,123.2 333.70,122.8 333.80,124.1 333.90,122.4 334.00,123.8 334.10,122.2 334.20,123.3 334.30,121.1 334.40,122.9 334.50,122.6 334.60,122.3 334.70,122.2 334.80,122.4 334.90,122.1 335.00,120.8 335.10,122.2 335.20,122.2 335.30,122.3 335.40,121.8 335.50,122.6 335.60,123.4 335.70,122.5 335.80,122.3 335.90,123.9 336.00,123.5 336.10,123.5 336.20,123.7 336.30,122.4 336.40,122.6 336.50,123.6 336.60,122.2 336.70,122.6 336.80,123.0 336.90,123.0 337.00,122.5 337.10,123.5 337.20,122.5 337.30,123.3 337.40,123.6 337.50,123.3 337.60,123.3 337.70,121.7 337.80,121.6 337.90,122.2 338.00,123.1 338.10,124.0 338.20,121.7 338.30,123.0 338.40,122.0 338.50,122.1 338.60,122.5 338.70,123.3 338.80,122.9 338.90,123.7 339.00,121.9 339.10,123.5 339.20,123.5 339.30,122.8 339.40,123.1 339.50,122.2 339.60,121.8 339.70,122.4 339.80,122.2 339.90,125.2 340.00,122.3 340.10,124.1 340.20,122.9 340.30,123.0 340.40,123.3 340.50,122.0 340.60,123.5 340.70,123.0 340.80,121.4 340.90,123.2 341.00,123.2 341.10,123.1 341.20,124.0 341.30,122.3 341.40,123.1 341.50,123.3 341.60,121.9 341.70,123.7 341.80,121.5 341.90,121.6 342.00,123.1 342.10,121.8 342.20,122.6 342.30,121.3 342.40,122.8 342.50,121.7 342.60,123.0 342.70,121.4 342.80,123.1 342.90,122.5 343.00,122.8 343.10,122.6 343.20,122.8 343.30,121.6 343.40,120.5 343.50,122.7 343.60,121.9 343.70,122.3 343.80,123.1 343.90,121.0 344.00,122.1 344.10,122.2 344.20,121.8 344.30,123.0 344.40,122.6 344.50,122.0 344.60,121.9 344.70,123.4 344.80,122.1 344.90,123.2 345.00,123.1 345.10,121.1 345.20,121.8 345.30,122.7 345.40,123.0 345.50,123.4 345.60,123.4 345.70,123.6 345.80,122.4 345.90,122.5 346.00,123.4 346.10,122.3 346.20,123.6 346.30,121.3 346.40,123.3 346.50,122.6 346.60,121.0 346.70,123.5 346.80,123.0 346.90,122.7 347.00,121.8 347.10,122.3 347.20,124.0 347.30,122.0 347.40,119.7 347.50,122.0 347.60,121.7 347.70,122.6 347.80,122.4 347.90,121.9 348.00,122.0 348.10,123.6 348.20,121.5 348.30,124.4 348.40,122.2 348.50,121.8 348.60,123.4 348.70,123.2 348.80,121.8 348.90,123.3 349.00,121.1 349.10,121.9 349.20,123.7 349.30,122.5 349.40,121.6 349.50,123.1 349.60,123.5 349.70,122.7 349.80,121.2 349.90,122.4 350.00,123.1 350.10,123.4 350.20,124.3 350.30,122.5 350.40,122.3 350.50,122.7 350.60,123.7 350.70,121.9 350.80,123.8 350.90,120.4 351.00,123.4 351.10,122.1 351.20,123.1 351.30,123.3 351.40,121.7 351.50,122.6 351.60,122.9 351.70,123.2 351.80,121.9 351.90,121.9 352.00,121.1 352.10,124.9 352.20,122.5 352.30,122.5 352.40,121.4 352.50,123.5 352.60,122.2 352.70,123.9 352.80,123.4 352.90,122.7 353.00,123.3 353.10,121.8 353.20,122.4 353.30,122.2 353.40,121.6 353.50,122.7 353.60,122.6 353.70,123.9 353.80,119.9 353.90,122.1 354.00,121.9 354.10,122.3 354.20,123.1 354.30,123.0 354.40,122.7 354.50,122.3 354.60,123.1 354.70,123.0 354.80,121.1 354.90,122.5 355.00,121.5 355.10,121.7 355.20,122.8 355.30,122.8 355.40,122.8 355.50,122.0 355.60,122.5 355.70,121.9 355.80,123.0 355.90,123.3 356.00,124.2 356.10,123.8 356.20,122.0 356.30,122.3 356.40,121.9 356.50,123.0 356.60,124.4 356.70,123.3 356.80,120.8 356.90,121.6 357.00,121.6 357.10,123.1 357.20,122.7 357.30,123.0 357.40,124.2 357.50,122.0 357.60,122.0 357.70,124.4 357.80,123.0 357.90,122.0 358.00,121.0 358.10,121.4 358.20,120.6 358.30,122.8 358.40,122.7 358.50,123.5 358.60,122.6 358.70,122.1 358.80,122.1 358.90,124.3 359.00,121.2 359.10,122.8 359.20,122.7 359.30,123.2 359.40,122.4 359.50,123.1 359.60,123.4 359.70,122.6 359.80,122.3 359.90,122.5 360.00,121.9 360.10,122.5 360.20,122.4 360.30,122.9 360.40,123.8 360.50,123.8 360.60,122.3 360.70,123.2 360.80,123.0 360.90,123.3 361.00,122.7 361.10,122.9 361.20,122.3 361.30,122.0 361.40,123.4 361.50,123.8 361.60,123.3 361.70,123.1 361.80,122.9 361.90,122.3 362.00,121.2 362.10,123.3 362.20,122.9 362.30,122.2 362.40,121.9 362.50,123.8 362.60,121.2 362.70,124.2 362.80,123.2 362.90,124.7 363.00,122.1 363.10,122.7 363.20,122.3 363.30,122.8 363.40,122.5 363.50,122.1 363.60,123.6 363.70,122.0 363.80,122.3 363.90,123.2 364.00,122.2 364.10,122.3 364.20,123.0 364.30,122.4 364.40,121.6 364.50,122.6 364.60,122.5 364.70,124.1 364.80,121.8 364.90,123.5 365.00,122.0 365.10,122.4 365.20,122.4 365.30,122.9 365.40,123.4 365.50,124.2 365.60,122.2 365.70,123.8 365.80,123.5 365.90,123.4 366.00,122.1 366.10,123.5 366.20,122.6 366.30,123.0 366.40,122.5 366.50,123.3 366.60,123.6 366.70,123.7 366.80,122.5 366.90,123.5 367.00,123.9 367.10,121.9 367.20,124.0 367.30,121.6 367.40,123.2 367.50,123.2 367.60,124.0 367.70,122.9 367.80,122.3 367.90,122.0 368.00,121.6 368.10,123.4 368.20,122.5 368.30,122.1 368.40,123.2 368.50,122.0 368.60,122.3 368.70,122.3 368.80,124.1 368.90,123.9 369.00,122.6 369.10,121.4 369.20,122.9 369.30,122.8 369.40,123.0 369.50,123.2 369.60,122.4 369.70,123.5 369.80,123.4 369.90,122.9 370.00,122.4 370.10,122.3 370.20,123.3 370.30,121.8 370.40,122.6 370.50,122.1 370.60,121.5 370.70,123.2 370.80,122.7 370.90,122.7 371.00,123.4 371.10,121.4 371.20,122.6 371.30,122.9 371.40,123.4 371.50,121.8 371.60,123.3 371.70,122.9 371.80,123.9 371.90,123.7 372.00,123.2 372.10,124.5" fill="none" stroke="#c85c1e" stroke-width="0.75" stroke-linejoin="round"/>
<polyline points="378.50,115.5 378.60,115.1 378.70,115.2 378.80,114.7 378.90,115.5 379.00,113.9 379.10,115.4 379.20,115.9 379.30,116.3 379.40,115.2 379.50,116.7 379.60,114.9 379.70,115.4 379.80,113.9 379.90,114.9 380.00,114.8 380.10,116.7 380.20,115.9 380.30,114.6 380.40,115.9 380.50,115.9 380.60,115.3 380.70,115.5 380.80,115.2 380.90,115.0 381.00,114.0 381.10,115.4 381.20,116.6 381.30,116.7 381.40,115.3 381.50,114.9 381.60,115.3 381.70,116.2 381.80,115.8 381.90,115.0 382.00,115.8 382.10,115.3 382.20,115.9 382.30,115.2 382.40,114.3 382.50,115.5 382.60,116.1 382.70,114.6 382.80,115.4 382.90,116.2 383.00,115.2 383.10,115.0 383.20,117.2 383.30,116.2 383.40,116.4 383.50,114.7 383.60,116.9 383.70,114.1 383.80,115.1 383.90,116.1 384.00,116.6 384.10,114.7 384.20,115.0 384.30,115.7 384.40,113.9 384.50,116.0 384.60,116.0 384.70,115.1 384.80,115.9 384.90,116.1 385.00,115.8 385.10,115.9 385.20,116.7 385.30,115.1 385.40,115.6 385.50,115.1 385.60,116.4 385.70,115.2 385.80,115.9 385.90,115.6 386.00,115.6 386.10,116.9 386.20,115.4 386.30,116.7 386.40,116.2 386.50,116.6 386.60,115.4 386.70,116.3 386.80,116.1 386.90,115.0 387.00,115.7 387.10,115.4 387.20,115.5 387.30,116.6 387.40,114.9 387.50,114.1 387.60,114.1 387.70,115.1 387.80,115.0 387.90,115.5 388.00,116.0 388.10,116.9 388.20,115.8 388.30,115.9 388.40,114.9 388.50,116.0 388.60,116.6 388.70,116.6 388.80,113.9 388.90,116.2 389.00,116.8 389.10,116.2 389.20,114.3 389.30,115.2 389.40,116.0 389.50,115.8 389.60,114.8 389.70,114.8 389.80,116.3 389.90,114.4 390.00,116.7 390.10,115.5 390.20,115.7 390.30,114.4 390.40,115.0 390.50,116.1 390.60,114.3 390.70,117.2 390.80,114.4 390.90,114.5 391.00,115.5 391.10,115.9 391.20,116.1 391.30,115.2 391.40,115.3 391.50,115.3 391.60,115.0 391.70,113.4 391.80,116.3 391.90,115.7 392.00,115.6 392.10,115.0 392.20,115.7 392.30,115.5 392.40,115.4 392.50,116.4 392.60,114.1 392.70,115.7 392.80,114.6 392.90,115.2 393.00,116.7 393.10,114.6 393.20,115.4 393.30,115.0 393.40,116.3 393.50,112.2 393.60,111.7 393.70,113.5 393.80,112.9 393.90,112.9 394.00,114.1 394.10,112.5 394.20,113.0 394.30,113.5 394.40,113.7 394.50,113.0 394.60,114.3 394.70,115.3 394.80,113.2 394.90,115.1 395.00,111.8 395.10,114.7 395.20,113.3 395.30,113.8 395.40,113.4 395.50,113.2 395.60,112.7 395.70,113.4 395.80,114.8 395.90,114.7 396.00,113.5 396.10,113.4 396.20,113.3 396.30,112.9 396.40,115.4 396.50,114.4 396.60,114.0 396.70,113.5 396.80,113.1 396.90,115.0 397.00,114.6 397.10,113.2 397.20,114.8 397.30,113.1 397.40,114.6 397.50,113.3 397.60,113.7 397.70,114.5 397.80,114.5 397.90,114.9 398.00,113.4 398.10,115.4 398.20,115.2 398.30,114.2 398.40,114.6 398.50,113.5 398.60,114.1 398.70,113.1 398.80,114.3 398.90,114.4 399.00,115.3 399.10,115.0 399.20,114.9 399.30,114.0 399.40,114.1 399.50,114.0 399.60,114.5 399.70,112.7 399.80,114.9 399.90,113.0 400.00,113.9 400.10,114.4 400.20,113.9 400.30,115.7 400.40,114.3 400.50,115.7 400.60,115.3 400.70,114.0 400.80,114.7 400.90,115.5 401.00,114.1 401.10,114.5 401.20,114.0 401.30,114.5 401.40,114.2 401.50,114.5 401.60,115.3 401.70,115.6 401.80,114.6 401.90,114.7 402.00,115.2 402.10,114.3 402.20,113.6 402.30,115.4 402.40,113.8 402.50,115.3 402.60,113.8 402.70,116.0 402.80,113.7 402.90,115.3 403.00,115.8 403.10,113.8 403.20,115.8 403.30,113.9 403.40,113.2 403.50,115.2 403.60,115.2 403.70,114.4 403.80,112.6 403.90,114.6 404.00,114.4 404.10,114.3 404.20,114.4 404.30,113.2 404.40,114.2 404.50,116.1 404.60,115.9 404.70,114.4 404.80,114.1 404.90,115.0 405.00,115.6 405.10,115.3 405.20,113.7 405.30,114.8 405.40,114.8 405.50,115.9 405.60,115.7 405.70,115.1 405.80,115.7 405.90,114.4 406.00,116.0 406.10,114.4 406.20,115.1 406.30,115.5 406.40,114.0 406.50,114.2 406.60,113.3 406.70,114.9 406.80,114.7 406.90,114.5 407.00,115.2 407.10,113.1 407.20,114.8 407.30,114.9 407.40,114.6 407.50,115.5 407.60,116.2 407.70,114.5 407.80,114.1 407.90,114.3 408.00,114.9 408.10,115.3 408.20,114.1 408.30,115.7 408.40,114.0 408.50,115.5 408.60,115.2 408.70,115.2 408.80,116.6 408.90,114.7 409.00,114.7 409.10,115.3 409.20,115.6 409.30,113.8 409.40,115.1 409.50,114.3 409.60,115.4 409.70,116.0 409.80,115.0 409.90,114.8 410.00,115.1 410.10,112.5 410.20,115.6 410.30,115.4 410.40,115.1 410.50,114.6 410.60,114.3 410.70,114.8 410.80,115.9 410.90,114.9 411.00,116.1 411.10,112.9 411.20,114.6 411.30,115.2 411.40,115.0 411.50,113.6 411.60,114.4 411.70,116.0 411.80,113.9 411.90,114.2 412.00,114.1 412.10,114.5 412.20,115.5 412.30,115.5 412.40,113.3 412.50,116.2 412.60,114.5 412.70,114.5 412.80,116.4 412.90,115.0 413.00,114.0 413.10,114.5 413.20,114.4 413.30,114.2 413.40,114.8 413.50,115.8 413.60,115.3 413.70,113.9 413.80,117.3 413.90,114.2 414.00,115.1 414.10,115.1 414.20,115.7 414.30,114.8 414.40,115.4 414.50,116.8 414.60,115.1 414.70,114.2 414.80,115.3 414.90,114.4 415.00,114.8 415.10,115.2 415.20,115.4 415.30,114.9 415.40,115.8 415.50,114.9 415.60,114.0 415.70,115.8 415.80,114.8 415.90,116.1 416.00,114.6 416.10,115.6 416.20,115.4 416.30,112.9 416.40,113.9 416.50,114.2 416.60,116.3 416.70,113.6 416.80,115.9 416.90,116.0 417.00,115.5 417.10,115.7 417.20,114.7 417.30,115.1 417.40,115.3 417.50,115.5 417.60,115.7 417.70,115.0 417.80,114.6 417.90,114.7 418.00,115.5 418.10,113.8 418.20,114.1 418.30,114.8 418.40,114.7 418.50,114.9 418.60,113.0 418.70,114.9 418.80,115.0 418.90,115.8 419.00,113.6 419.10,114.9 419.20,115.6 419.30,115.6 419.40,116.2 419.50,116.1 419.60,114.3 419.70,115.7 419.80,114.9 419.90,114.5 420.00,116.5 420.10,114.7 420.20,114.5 420.30,114.9 420.40,114.5 420.50,116.0 420.60,115.5 420.70,116.4 420.80,115.6 420.90,114.7 421.00,116.1 421.10,114.7 421.20,114.8 421.30,115.1 421.40,115.3 421.50,116.2 421.60,114.7 421.70,115.5 421.80,115.2 421.90,114.2 422.00,114.3 422.10,115.1 422.20,115.6 422.30,115.5 422.40,115.6 422.50,115.3 422.60,114.9 422.70,115.6 422.80,114.4 422.90,114.2 423.00,115.0 423.10,114.1 423.20,114.8 423.30,114.6 423.40,114.8 423.50,115.2 423.60,114.6 423.70,114.9 423.80,113.9 423.90,115.4 424.00,114.5 424.10,115.6 424.20,113.0 424.30,114.6 424.40,115.5 424.50,113.3 424.60,115.0 424.70,115.4 424.80,115.4 424.90,114.1 425.00,115.5 425.10,115.4 425.20,114.5 425.30,115.9 425.40,115.3 425.50,115.3 425.60,114.9 425.70,115.7 425.80,115.4 425.90,116.2 426.00,115.7 426.10,114.8 426.20,115.1 426.30,116.1 426.40,115.0 426.50,115.6 426.60,115.7 426.70,115.2 426.80,113.4 426.90,115.4 427.00,115.5 427.10,115.4 427.20,114.7 427.30,116.3 427.40,115.2 427.50,114.8 427.60,114.7 427.70,115.6 427.80,114.4 427.90,114.5 428.00,117.0 428.10,116.4 428.20,116.2 428.30,116.5 428.40,115.8 428.50,113.9 428.60,116.3 428.70,116.4 428.80,115.7 428.90,113.7 429.00,116.4 429.10,116.5 429.20,114.9 429.30,115.4 429.40,116.0 429.50,115.3 429.60,116.2 429.70,115.4 429.80,115.9 429.90,115.4 430.00,114.1 430.10,114.5 430.20,118.0 430.30,115.6 430.40,116.4 430.50,116.3 430.60,116.8 430.70,115.8 430.80,114.9 430.90,115.4 431.00,113.8 431.10,115.2 431.20,116.1 431.30,113.6 431.40,115.5 431.50,116.0 431.60,116.5 431.70,114.6 431.80,114.8 431.90,113.8 432.00,114.5 432.10,115.8 432.20,117.1 432.30,114.4 432.40,116.5 432.50,115.7 432.60,115.0 432.70,117.2 432.80,113.3 432.90,115.3 433.00,115.6 433.10,117.1 433.20,116.9 433.30,117.2 433.40,115.5 433.50,116.2 433.60,116.5 433.70,115.8 433.80,115.7 433.90,115.2 434.00,115.0 434.10,114.4 434.20,117.0 434.30,115.0 434.40,113.7 434.50,115.6 434.60,115.4 434.70,115.5 434.80,116.9 434.90,115.3" fill="none" stroke="#4e8f2c" stroke-width="0.75" stroke-linejoin="round"/>
<polyline points="378.50,122.4 378.60,122.0 378.70,122.6 378.80,122.2 378.90,122.8 379.00,125.2 379.10,122.9 379.20,121.9 379.30,124.2 379.40,123.3 379.50,123.3 379.60,123.2 379.70,123.3 379.80,123.2 379.90,123.8 380.00,123.4 380.10,123.7 380.20,122.2 380.30,122.6 380.40,122.0 380.50,123.4 380.60,123.3 380.70,122.2 380.80,123.1 380.90,124.8 381.00,123.6 381.10,121.7 381.20,122.5 381.30,123.1 381.40,122.6 381.50,122.9 381.60,123.6 381.70,122.9 381.80,121.7 381.90,123.2 382.00,122.5 382.10,122.7 382.20,122.1 382.30,121.5 382.40,121.6 382.50,122.3 382.60,121.7 382.70,120.4 382.80,123.6 382.90,121.6 383.00,122.0 383.10,123.0 383.20,120.6 383.30,123.7 383.40,122.0 383.50,123.1 383.60,122.2 383.70,122.9 383.80,122.7 383.90,122.6 384.00,121.1 384.10,121.4 384.20,122.6 384.30,123.8 384.40,122.1 384.50,123.0 384.60,122.7 384.70,123.0 384.80,123.4 384.90,121.4 385.00,122.8 385.10,122.5 385.20,122.3 385.30,121.9 385.40,121.9 385.50,121.7 385.60,121.7 385.70,124.7 385.80,124.0 385.90,122.6 386.00,123.2 386.10,121.8 386.20,120.3 386.30,121.1 386.40,122.7 386.50,123.8 386.60,122.6 386.70,121.8 386.80,122.4 386.90,121.8 387.00,121.4 387.10,122.4 387.20,122.3 387.30,121.9 387.40,121.9 387.50,121.8 387.60,122.8 387.70,123.8 387.80,122.4 387.90,124.5 388.00,121.3 388.10,122.8 388.20,121.6 388.30,122.5 388.40,122.7 388.50,123.1 388.60,123.5 388.70,122.1 388.80,121.6 388.90,122.4 389.00,122.8 389.10,122.0 389.20,123.3 389.30,124.0 389.40,121.4 389.50,122.9 389.60,123.4 389.70,121.0 389.80,122.8 389.90,122.4 390.00,121.4 390.10,123.7 390.20,122.8 390.30,122.2 390.40,123.0 390.50,123.1 390.60,123.2 390.70,123.1 390.80,122.9 390.90,121.6 391.00,122.3 391.10,122.7 391.20,120.3 391.30,124.4 391.40,122.3 391.50,121.7 391.60,121.1 391.70,122.8 391.80,122.6 391.90,122.1 392.00,122.3 392.10,121.9 392.20,122.0 392.30,122.5 392.40,122.1 392.50,123.2 392.60,122.5 392.70,122.7 392.80,122.9 392.90,123.7 393.00,123.1 393.10,122.8 393.20,122.5 393.30,121.9 393.40,122.3 393.50,123.2 393.60,122.8 393.70,122.3" fill="none" stroke="#c85c1e" stroke-width="0.75" stroke-linejoin="round"/>
<polyline points="393.80,155.0 393.90,153.7 394.00,154.1 394.10,153.6 394.20,152.1 394.30,149.7 394.40,149.7 394.50,149.2 394.60,147.4 394.70,147.6 394.80,146.4 394.90,145.1 395.00,144.0 395.10,145.0 395.20,144.0 395.30,142.3 395.40,141.6 395.50,142.6 395.60,141.8 395.70,140.5 395.80,141.6 395.90,139.5 396.00,138.4 396.10,139.7 396.20,138.2 396.30,138.2 396.40,137.6 396.50,136.3 396.60,135.8 396.70,136.3 396.80,137.2 396.90,134.9 397.00,136.5 397.10,135.3 397.20,133.9 397.30,134.7 397.40,134.7 397.50,133.2 397.60,132.0 397.70,133.8 397.80,132.3 397.90,133.4 398.00,131.2 398.10,132.5 398.20,131.7 398.30,130.9 398.40,131.8 398.50,131.9 398.60,131.1 398.70,130.5 398.80,131.4 398.90,129.7 399.00,131.4 399.10,131.2 399.20,132.0 399.30,131.2 399.40,130.7 399.50,130.5 399.60,130.1 399.70,128.9 399.80,131.1 399.90,130.2 400.00,129.4 400.10,128.6 400.20,130.6 400.30,129.8 400.40,128.2 400.50,129.7 400.60,130.6 400.70,128.9 400.80,129.2 400.90,128.4 401.00,128.1 401.10,129.5 401.20,131.0 401.30,128.5 401.40,128.2 401.50,128.9 401.60,127.9 401.70,128.7 401.80,128.7 401.90,127.1 402.00,127.0 402.10,127.8 402.20,128.5 402.30,128.0 402.40,128.7 402.50,126.5 402.60,128.0 402.70,127.0 402.80,127.5 402.90,127.6 403.00,126.5 403.10,127.1 403.20,126.3 403.30,127.4 403.40,126.4 403.50,126.7 403.60,127.2 403.70,126.4 403.80,127.9 403.90,126.4 404.00,127.5 404.10,127.0 404.20,125.9 404.30,126.5 404.40,126.0 404.50,126.3 404.60,126.4 404.70,128.1 404.80,126.2 404.90,127.8 405.00,126.8 405.10,125.3 405.20,124.5 405.30,126.9 405.40,124.7 405.50,126.8 405.60,127.1 405.70,126.5 405.80,126.0 405.90,125.9 406.00,126.3 406.10,125.8 406.20,125.6 406.30,125.7 406.40,126.9 406.50,125.4 406.60,126.2 406.70,124.9 406.80,125.3 406.90,124.7 407.00,125.6 407.10,126.3 407.20,126.0 407.30,125.3 407.40,126.2 407.50,125.4 407.60,125.9 407.70,125.8 407.80,126.0 407.90,123.5 408.00,124.4 408.10,126.1 408.20,125.4 408.30,127.3 408.40,125.2 408.50,124.9 408.60,126.6 408.70,125.8 408.80,126.9 408.90,125.7 409.00,125.1 409.10,125.8 409.20,124.6 409.30,124.8 409.40,124.7 409.50,125.0 409.60,125.8 409.70,124.7 409.80,125.4 409.90,124.7 410.00,125.8 410.10,122.8 410.20,124.8 410.30,125.1 410.40,124.1 410.50,125.8 410.60,125.1 410.70,126.0 410.80,125.7 410.90,125.4 411.00,124.7 411.10,123.9 411.20,124.6 411.30,124.4 411.40,125.0 411.50,124.4 411.60,127.2 411.70,123.4 411.80,125.7 411.90,124.3 412.00,124.5 412.10,125.4 412.20,124.6 412.30,123.6 412.40,124.9 412.50,124.4 412.60,122.9 412.70,124.7 412.80,123.7 412.90,123.9 413.00,124.9 413.10,124.7 413.20,124.2 413.30,126.2 413.40,124.8 413.50,123.9 413.60,124.6 413.70,124.3 413.80,122.6 413.90,123.1 414.00,123.2 414.10,126.0 414.20,124.2 414.30,124.1 414.40,123.8 414.50,125.1 414.60,124.3 414.70,125.6 414.80,124.9 414.90,125.6 415.00,124.1 415.10,124.5 415.20,123.8 415.30,124.0 415.40,122.7 415.50,123.7 415.60,123.3 415.70,123.6 415.80,125.1 415.90,124.3 416.00,125.1 416.10,124.8 416.20,124.8 416.30,124.9 416.40,123.5 416.50,124.7 416.60,123.7 416.70,123.6 416.80,125.0 416.90,125.7 417.00,123.2 417.10,125.4 417.20,124.6 417.30,123.2 417.40,124.1 417.50,124.2 417.60,124.2 417.70,123.6 417.80,122.8 417.90,123.9 418.00,124.6 418.10,124.5 418.20,124.4 418.30,124.7 418.40,123.0 418.50,123.8 418.60,124.1 418.70,124.6 418.80,123.9 418.90,124.2 419.00,123.9 419.10,125.5 419.20,121.9 419.30,123.7 419.40,125.7 419.50,123.9 419.60,122.2 419.70,123.8 419.80,122.5 419.90,123.1 420.00,123.8 420.10,125.1 420.20,124.0 420.30,124.2 420.40,124.5 420.50,123.8 420.60,122.9 420.70,123.5 420.80,123.9 420.90,123.4 421.00,123.0 421.10,123.3 421.20,122.3 421.30,122.7 421.40,123.5 421.50,123.2 421.60,123.6 421.70,124.7 421.80,123.8 421.90,123.5 422.00,122.5 422.10,122.6 422.20,123.8 422.30,122.8 422.40,123.8 422.50,122.6 422.60,123.6 422.70,123.4 422.80,124.3 422.90,123.1 423.00,123.1 423.10,123.6 423.20,123.5 423.30,124.8 423.40,123.2 423.50,123.0 423.60,123.1 423.70,123.8 423.80,123.6 423.90,123.9 424.00,122.2 424.10,125.4 424.20,124.8 424.30,123.3 424.40,122.3 424.50,123.5 424.60,123.7 424.70,121.5 424.80,123.3 424.90,122.1 425.00,123.7 425.10,124.4 425.20,124.1 425.30,122.0 425.40,124.4 425.50,124.0 425.60,123.0 425.70,123.7 425.80,124.5 425.90,123.0 426.00,123.2 426.10,122.8 426.20,124.2 426.30,121.5 426.40,124.4 426.50,122.4 426.60,124.0 426.70,121.9 426.80,122.4 426.90,122.7 427.00,123.9 427.10,121.9 427.20,123.7 427.30,122.7 427.40,124.2 427.50,122.9 427.60,123.6 427.70,123.0 427.80,124.6 427.90,122.9 428.00,123.1 428.10,124.8 428.20,123.2 428.30,123.7 428.40,122.5 428.50,123.3 428.60,121.3 428.70,123.2 428.80,122.6 428.90,121.9 429.00,121.9 429.10,124.0 429.20,123.4 429.30,121.8 429.40,124.6 429.50,122.5 429.60,122.8 429.70,123.3 429.80,122.1 429.90,121.7 430.00,122.4 430.10,124.0 430.20,123.8 430.30,121.8 430.40,124.0 430.50,123.1 430.60,123.4 430.70,123.1 430.80,123.4 430.90,122.2 431.00,122.3 431.10,122.4 431.20,122.7 431.30,123.5 431.40,122.0 431.50,124.3 431.60,122.5 431.70,122.5 431.80,123.6 431.90,123.3 432.00,122.7 432.10,122.1 432.20,122.2 432.30,121.7 432.40,123.9 432.50,123.9 432.60,124.5 432.70,123.4 432.80,123.2 432.90,123.6 433.00,123.7 433.10,122.7 433.20,123.2 433.30,124.7 433.40,121.6 433.50,121.8 433.60,122.2 433.70,123.6 433.80,123.9 433.90,122.7 434.00,123.5 434.10,122.9 434.20,123.2 434.30,122.5 434.40,122.9 434.50,122.9 434.60,123.8 434.70,124.7 434.80,121.4 434.90,123.3" fill="none" stroke="#c85c1e" stroke-width="0.75" stroke-linejoin="round"/>
<line x1="393.70" y1="122.3" x2="393.80" y2="155.0" stroke="#c85c1e" stroke-width="0.7" opacity="0.7"/>
<rect x="253.25" y="100.9" width="3.7" height="11" fill="#4fb9ec" />
<rect x="320.85" y="101.2" width="3.7" height="10.3" fill="#4fb9ec" />
<rect x="388.95" y="101.1" width="3.7" height="10.4" fill="#4fb9ec" />
<path d="M421,160.5 H432.1 V150.3" fill="none" stroke="#231f20" stroke-width="1.3"/>
<text transform="translate(408.59,170.7)" font-size="10.1" text-anchor="start" fill="#231f20">100 ms</text>
<text transform="translate(444.4,149.2) rotate(-90)" font-size="10.1" text-anchor="middle" fill="#231f20">50 pA</text>
<text transform="translate(60.63,224) scale(1.025,1)" font-size="12.3" text-anchor="start" fill="#231f20">ACSF</text>
<text transform="translate(126.76,224) scale(1.025,1)" font-size="12.3" text-anchor="start" fill="#231f20">PTX</text>
<text transform="translate(174.69,224.1) scale(1.025,1)" font-size="12.3" text-anchor="start" fill="#231f20">NBQX+AP5</text>
<text transform="translate(42.4,277.4) rotate(-90) scale(1.025,1)" font-size="12.3" text-anchor="middle" fill="#231f20"><tspan fill="#c85c1e">oEPSCs</tspan> <tspan fill="#4e8f2c" dx="2.2">oIPSCs</tspan></text>
<polyline points="48.30,274.3 48.40,275.1 48.50,275.2 48.60,274.9 48.70,275.0 48.80,273.5 48.90,272.9 49.00,275.7 49.10,275.3 49.20,273.5 49.30,275.4 49.40,274.8 49.50,272.3 49.60,275.0 49.70,273.5 49.80,275.3 49.90,273.7 50.00,273.7 50.10,273.0 50.20,274.1 50.30,275.1 50.40,273.8 50.50,272.8 50.60,276.1 50.70,275.8 50.80,274.9 50.90,273.9 51.00,273.3 51.10,273.0 51.20,274.8 51.30,275.4 51.40,273.4 51.50,274.3 51.60,274.1 51.70,274.1 51.80,274.7 51.90,276.0 52.00,273.8 52.10,275.0 52.20,275.2 52.30,274.1 52.40,274.2 52.50,273.2 52.60,275.2 52.70,273.9 52.80,273.8 52.90,274.4 53.00,273.6 53.10,273.4 53.20,274.1 53.30,275.5 53.40,274.1 53.50,274.7 53.60,273.1 53.70,272.7 53.80,275.8 53.90,274.0 54.00,273.0 54.10,274.2 54.20,274.8 54.30,272.9 54.40,273.6 54.50,274.5 54.60,273.5 54.70,275.0 54.80,275.1 54.90,274.7 55.00,273.9 55.10,274.3 55.20,273.8 55.30,274.2 55.40,274.6 55.50,274.1 55.60,275.1 55.70,276.4 55.80,273.9 55.90,274.6 56.00,275.0 56.10,274.8 56.20,274.1 56.30,273.9 56.40,275.1 56.50,274.8 56.60,274.7 56.70,273.6 56.80,274.8 56.90,275.0 57.00,274.1 57.10,274.8 57.20,276.1 57.30,272.8 57.40,274.8 57.50,273.3 57.60,273.2 57.70,274.1 57.80,274.7 57.90,274.3 58.00,273.3 58.10,273.1 58.20,273.8 58.30,274.3 58.40,273.6 58.50,273.1 58.60,275.7 58.70,273.6 58.80,274.2 58.90,273.8 59.00,273.8 59.10,274.3 59.20,274.1 59.30,274.8 59.40,273.3 59.50,273.1 59.60,275.9 59.70,274.2 59.80,274.9 59.90,275.3 60.00,274.8 60.10,274.3 60.20,273.0 60.30,273.0 60.40,275.1 60.50,274.9 60.60,274.8 60.70,272.9 60.80,272.5 60.90,273.4 61.00,273.3 61.10,274.4 61.20,273.5 61.30,275.6 61.40,273.8 61.50,273.8 61.60,275.0 61.70,274.6 61.80,273.6 61.90,275.0 62.00,275.9 62.10,273.3 62.20,274.1 62.30,273.4 62.40,272.7 62.50,274.8 62.60,274.9 62.70,275.1 62.80,274.7 62.90,272.6 63.00,274.3 63.10,273.7 63.20,273.3 63.30,273.4 63.40,274.9 63.50,274.1 63.60,275.9 63.70,274.7 63.80,272.7" fill="none" stroke="#4e8f2c" stroke-width="0.75" stroke-linejoin="round"/>
<polyline points="63.90,232.6 64.00,234.3 64.10,234.6 64.20,234.8 64.30,238.5 64.40,237.1 64.50,239.2 64.60,238.8 64.70,240.4 64.80,241.0 64.90,244.3 65.00,245.3 65.10,244.9 65.20,245.0 65.30,246.9 65.40,248.0 65.50,247.2 65.60,248.3 65.70,249.9 65.80,251.2 65.90,251.4 66.00,252.4 66.10,251.6 66.20,251.1 66.30,254.0 66.40,253.6 66.50,254.8 66.60,255.1 66.70,256.3 66.80,255.8 66.90,258.1 67.00,257.3 67.10,258.2 67.20,258.7 67.30,259.5 67.40,259.3 67.50,257.9 67.60,259.2 67.70,261.6 67.80,260.8 67.90,261.2 68.00,261.5 68.10,260.9 68.20,261.1 68.30,261.5 68.40,263.2 68.50,262.9 68.60,264.3 68.70,263.5 68.80,264.9 68.90,263.9 69.00,262.8 69.10,265.5 69.20,264.5 69.30,265.4 69.40,264.8 69.50,264.6 69.60,265.2 69.70,264.3 69.80,264.4 69.90,264.9 70.00,265.3 70.10,264.8 70.20,266.0 70.30,266.5 70.40,268.1 70.50,268.1 70.60,266.7 70.70,267.6 70.80,266.8 70.90,267.4 71.00,267.2 71.10,266.9 71.20,267.5 71.30,266.4 71.40,268.1 71.50,267.6 71.60,267.0 71.70,267.7 71.80,268.6 71.90,267.7 72.00,268.7 72.10,268.9 72.20,269.8 72.30,267.7 72.40,268.6 72.50,269.2 72.60,270.1 72.70,269.2 72.80,269.7 72.90,267.9 73.00,268.7 73.10,270.7 73.20,269.1 73.30,271.2 73.40,268.9 73.50,269.3 73.60,268.3 73.70,270.2 73.80,270.0 73.90,271.5 74.00,270.0 74.10,269.7 74.20,268.8 74.30,270.0 74.40,270.9 74.50,270.8 74.60,271.3 74.70,271.0 74.80,270.3 74.90,270.9 75.00,270.6 75.10,269.4 75.20,272.0 75.30,270.9 75.40,269.7 75.50,271.0 75.60,271.0 75.70,271.6 75.80,272.0 75.90,268.3 76.00,271.4 76.10,272.2 76.20,270.2 76.30,269.4 76.40,271.3 76.50,271.4 76.60,271.4 76.70,270.2 76.80,270.8 76.90,271.4 77.00,271.9 77.10,273.2 77.20,271.6 77.30,270.9 77.40,269.4 77.50,272.3 77.60,271.4 77.70,271.4 77.80,270.7 77.90,272.2 78.00,270.1 78.10,271.7 78.20,271.8 78.30,271.9 78.40,272.8 78.50,271.7 78.60,271.9 78.70,272.5 78.80,270.5 78.90,271.6 79.00,271.9 79.10,272.7 79.20,271.3 79.30,272.6 79.40,272.3 79.50,270.8 79.60,270.8 79.70,270.9 79.80,272.2 79.90,272.3 80.00,272.7 80.10,272.8 80.20,271.7 80.30,273.1 80.40,272.9 80.50,272.6 80.60,272.7 80.70,271.2 80.80,272.6 80.90,271.5 81.00,271.3 81.10,272.1 81.20,272.5 81.30,272.4 81.40,272.2 81.50,271.6 81.60,272.6 81.70,271.9 81.80,271.3 81.90,272.6 82.00,273.8 82.10,272.2 82.20,271.7 82.30,273.8 82.40,274.1 82.50,272.4 82.60,272.5 82.70,272.8 82.80,275.2 82.90,272.8 83.00,273.6 83.10,273.1 83.20,271.2 83.30,271.8 83.40,271.7 83.50,273.2 83.60,272.9 83.70,274.3 83.80,272.6 83.90,273.1 84.00,272.9 84.10,273.0 84.20,274.9 84.30,273.2 84.40,274.2 84.50,274.0 84.60,272.4 84.70,273.5 84.80,272.7 84.90,273.1 85.00,273.1 85.10,273.0 85.20,272.6 85.30,274.4 85.40,272.8 85.50,273.7 85.60,274.5 85.70,273.6 85.80,274.0 85.90,274.3 86.00,274.1 86.10,274.6 86.20,271.9 86.30,274.8 86.40,273.2 86.50,271.7 86.60,272.7 86.70,272.0 86.80,273.2 86.90,272.0 87.00,272.4 87.10,273.5 87.20,273.4 87.30,272.6 87.40,273.1 87.50,273.2 87.60,273.4 87.70,273.3 87.80,273.1 87.90,274.1 88.00,272.0 88.10,272.9 88.20,273.5 88.30,273.0 88.40,272.9 88.50,273.0 88.60,273.6 88.70,274.5 88.80,273.3 88.90,273.2 89.00,273.7 89.10,273.2 89.20,271.8 89.30,273.7 89.40,273.2 89.50,273.0 89.60,274.0 89.70,273.5 89.80,273.0 89.90,271.7 90.00,272.1 90.10,273.5 90.20,273.4 90.30,273.9 90.40,273.7 90.50,273.2 90.60,272.5 90.70,272.6 90.80,273.5 90.90,272.6 91.00,274.2 91.10,272.5 91.20,272.1 91.30,273.5 91.40,272.1 91.50,275.0 91.60,272.8 91.70,273.6 91.80,273.4 91.90,273.0 92.00,272.2 92.10,272.1 92.20,274.4 92.30,274.5 92.40,275.5 92.50,272.4 92.60,274.2 92.70,273.7 92.80,274.4 92.90,273.3 93.00,274.3 93.10,274.5 93.20,274.2 93.30,275.0 93.40,273.6 93.50,275.1 93.60,273.2 93.70,275.2 93.80,271.4 93.90,273.8 94.00,273.1 94.10,273.8 94.20,274.7 94.30,274.4 94.40,273.9 94.50,275.2 94.60,272.6 94.70,273.1 94.80,275.1 94.90,274.1 95.00,272.1 95.10,274.1 95.20,272.8 95.30,275.1 95.40,274.8 95.50,273.4 95.60,275.0 95.70,273.2 95.80,274.6 95.90,274.4 96.00,273.8 96.10,272.7 96.20,273.6 96.30,271.9 96.40,273.4 96.50,272.3 96.60,274.9 96.70,273.1 96.80,271.8 96.90,274.4 97.00,274.2 97.10,273.5 97.20,275.7 97.30,274.6 97.40,274.0 97.50,273.4 97.60,271.4 97.70,274.3 97.80,274.8 97.90,273.4 98.00,272.7 98.10,273.9 98.20,272.5 98.30,274.0 98.40,274.6 98.50,275.3 98.60,274.2 98.70,274.1 98.80,274.6 98.90,275.2 99.00,273.7 99.10,272.9 99.20,273.3 99.30,272.9 99.40,273.2 99.50,273.9 99.60,274.3 99.70,274.1 99.80,274.1 99.90,273.7 100.00,274.4 100.10,274.8 100.20,274.7 100.30,275.3 100.40,273.8 100.50,273.8 100.60,275.5 100.70,274.2 100.80,274.4 100.90,273.8 101.00,274.9 101.10,273.7 101.20,273.2 101.30,274.0 101.40,273.7 101.50,274.8 101.60,273.7 101.70,274.2 101.80,273.9 101.90,274.4 102.00,273.5 102.10,275.0 102.20,272.9 102.30,273.7 102.40,273.5 102.50,274.6 102.60,274.1 102.70,274.5 102.80,273.8 102.90,273.5 103.00,273.1 103.10,273.8 103.20,273.6 103.30,274.3 103.40,274.4 103.50,274.9 103.60,274.0 103.70,273.5 103.80,273.2 103.90,274.2 104.00,274.4 104.10,275.8 104.20,274.3 104.30,275.6 104.40,275.7 104.50,273.2 104.60,275.1 104.70,275.1 104.80,275.3 104.90,274.1 105.00,274.9 105.10,273.7 105.20,274.1 105.30,274.1 105.40,275.6 105.50,274.0 105.60,274.9 105.70,274.2 105.80,273.5 105.90,274.3 106.00,274.7 106.10,273.5 106.20,274.7 106.30,273.5 106.40,273.4 106.50,274.3 106.60,274.0 106.70,273.3 106.80,272.8 106.90,274.2 107.00,274.4" fill="none" stroke="#4e8f2c" stroke-width="0.75" stroke-linejoin="round"/>
<line x1="63.80" y1="272.7" x2="63.90" y2="232.6" stroke="#4e8f2c" stroke-width="0.7" opacity="0.7"/>
<polyline points="48.30,279.8 48.40,280.4 48.50,278.9 48.60,280.5 48.70,280.6 48.80,280.4 48.90,279.7 49.00,280.3 49.10,280.3 49.20,281.1 49.30,280.4 49.40,280.4 49.50,279.6 49.60,280.9 49.70,281.2 49.80,279.8 49.90,280.7 50.00,280.5 50.10,280.2 50.20,279.1 50.30,281.7 50.40,278.6 50.50,280.5 50.60,279.9 50.70,281.2 50.80,279.8 50.90,280.2 51.00,280.7 51.10,280.6 51.20,279.8 51.30,280.8 51.40,280.5 51.50,281.0 51.60,279.8 51.70,280.2 51.80,279.9 51.90,279.5 52.00,280.4 52.10,280.5 52.20,281.4 52.30,279.9 52.40,280.5 52.50,281.2 52.60,280.1 52.70,280.3 52.80,280.3 52.90,279.6 53.00,279.4 53.10,281.1 53.20,280.3 53.30,280.1 53.40,279.1 53.50,280.3 53.60,281.2 53.70,279.2 53.80,279.4 53.90,281.1 54.00,281.4 54.10,281.5 54.20,279.7 54.30,280.7 54.40,279.6 54.50,280.6 54.60,279.9 54.70,280.4 54.80,281.3 54.90,280.5 55.00,280.0 55.10,280.2 55.20,280.4 55.30,279.8 55.40,280.4 55.50,280.7 55.60,281.5 55.70,278.5 55.80,279.2 55.90,279.2 56.00,280.9 56.10,282.3 56.20,280.4 56.30,280.3 56.40,281.2 56.50,278.1 56.60,280.0 56.70,277.6 56.80,280.3 56.90,279.8 57.00,279.8 57.10,280.5 57.20,279.7 57.30,281.1 57.40,280.2 57.50,280.5 57.60,282.3 57.70,279.8 57.80,281.0 57.90,279.5 58.00,281.3 58.10,281.0 58.20,280.3 58.30,281.0 58.40,281.6 58.50,281.4 58.60,280.2 58.70,280.2 58.80,281.1 58.90,279.0 59.00,279.7 59.10,280.6 59.20,280.7 59.30,281.8 59.40,281.7 59.50,280.5 59.60,280.6 59.70,279.1 59.80,280.0 59.90,280.4 60.00,280.0 60.10,280.3 60.20,280.7 60.30,279.4 60.40,279.7 60.50,278.7 60.60,281.2 60.70,279.3 60.80,278.8 60.90,280.8 61.00,280.0 61.10,281.0 61.20,279.9 61.30,282.0 61.40,280.8 61.50,280.3 61.60,280.3 61.70,280.0 61.80,280.9 61.90,281.9 62.00,279.8 62.10,279.3 62.20,280.7 62.30,281.1 62.40,278.9 62.50,279.6 62.60,279.4 62.70,280.7 62.80,280.6 62.90,279.6 63.00,279.3 63.10,280.8 63.20,278.5 63.30,280.7 63.40,280.1 63.50,281.8 63.60,281.0" fill="none" stroke="#c85c1e" stroke-width="0.75" stroke-linejoin="round"/>
<polyline points="63.70,322.1 63.80,321.1 63.90,319.9 64.00,318.4 64.10,317.9 64.20,317.6 64.30,314.5 64.40,314.6 64.50,315.1 64.60,313.5 64.70,311.3 64.80,310.5 64.90,309.6 65.00,308.2 65.10,309.7 65.20,308.1 65.30,306.7 65.40,305.4 65.50,305.6 65.60,304.9 65.70,306.1 65.80,303.7 65.90,303.6 66.00,303.8 66.10,303.0 66.20,301.7 66.30,299.6 66.40,302.1 66.50,300.9 66.60,299.6 66.70,299.5 66.80,298.3 66.90,298.0 67.00,297.1 67.10,298.4 67.20,298.0 67.30,297.4 67.40,297.5 67.50,297.0 67.60,296.3 67.70,295.2 67.80,296.1 67.90,296.3 68.00,295.6 68.10,295.8 68.20,294.1 68.30,293.5 68.40,295.1 68.50,293.3 68.60,293.8 68.70,293.2 68.80,293.1 68.90,292.7 69.00,292.2 69.10,291.0 69.20,293.9 69.30,292.3 69.40,290.3 69.50,291.0 69.60,290.6 69.70,290.8 69.80,289.1 69.90,291.6 70.00,292.3 70.10,290.6 70.20,291.3 70.30,291.0 70.40,289.3 70.50,291.3 70.60,288.7 70.70,289.5 70.80,289.6 70.90,290.8 71.00,289.7 71.10,289.4 71.20,288.7 71.30,289.4 71.40,289.2 71.50,289.7 71.60,290.1 71.70,289.5 71.80,288.8 71.90,288.6 72.00,289.9 72.10,288.7 72.20,288.4 72.30,289.8 72.40,289.5 72.50,288.6 72.60,288.0 72.70,287.5 72.80,288.8 72.90,287.5 73.00,288.6 73.10,287.0 73.20,287.7 73.30,287.9 73.40,287.6 73.50,287.6 73.60,287.7 73.70,286.3 73.80,286.3 73.90,287.0 74.00,288.6 74.10,286.9 74.20,286.2 74.30,286.4 74.40,286.9 74.50,287.8 74.60,286.3 74.70,287.1 74.80,286.8 74.90,286.3 75.00,285.7 75.10,286.3 75.20,285.8 75.30,286.8 75.40,284.8 75.50,287.2 75.60,286.8 75.70,286.6 75.80,287.4 75.90,286.6 76.00,284.6 76.10,286.0 76.20,286.3 76.30,285.3 76.40,284.9 76.50,286.2 76.60,286.2 76.70,285.4 76.80,285.5 76.90,285.2 77.00,285.1 77.10,285.5 77.20,286.4 77.30,284.1 77.40,285.1 77.50,286.7 77.60,285.6 77.70,285.4 77.80,286.0 77.90,284.4 78.00,284.2 78.10,283.8 78.20,283.9 78.30,285.3 78.40,285.8 78.50,284.7 78.60,284.4 78.70,285.3 78.80,285.4 78.90,285.1 79.00,283.3 79.10,284.4 79.20,282.7 79.30,285.0 79.40,284.0 79.50,284.1 79.60,285.9 79.70,285.7 79.80,285.0 79.90,284.8 80.00,284.7 80.10,284.0 80.20,284.4 80.30,286.0 80.40,283.7 80.50,283.8 80.60,284.5 80.70,285.1 80.80,285.0 80.90,283.5 81.00,284.1 81.10,284.0 81.20,283.2 81.30,284.2 81.40,283.7 81.50,284.9 81.60,284.4 81.70,283.4 81.80,284.1 81.90,283.7 82.00,283.5 82.10,283.5 82.20,284.8 82.30,283.6 82.40,282.5 82.50,283.2 82.60,284.5 82.70,285.6 82.80,282.9 82.90,283.5 83.00,283.5 83.10,282.5 83.20,284.0 83.30,283.6 83.40,283.9 83.50,285.5 83.60,283.4 83.70,284.2 83.80,284.2 83.90,283.0 84.00,283.0 84.10,284.8 84.20,284.0 84.30,283.5 84.40,282.5 84.50,284.1 84.60,283.8 84.70,285.2 84.80,284.5 84.90,284.0 85.00,283.5 85.10,283.3 85.20,282.8 85.30,283.5 85.40,283.4 85.50,283.7 85.60,284.1 85.70,283.4 85.80,282.7 85.90,283.8 86.00,284.4 86.10,282.4 86.20,283.4 86.30,283.5 86.40,283.4 86.50,283.4 86.60,282.9 86.70,282.9 86.80,284.3 86.90,284.3 87.00,281.7 87.10,280.8 87.20,283.2 87.30,282.3 87.40,282.4 87.50,281.5 87.60,283.1 87.70,282.7 87.80,282.3 87.90,283.5 88.00,284.7 88.10,283.9 88.20,283.7 88.30,282.3 88.40,283.2 88.50,282.6 88.60,283.6 88.70,283.1 88.80,282.6 88.90,283.0 89.00,282.0 89.10,283.2 89.20,283.8 89.30,282.2 89.40,283.0 89.50,281.1 89.60,283.2 89.70,283.2 89.80,281.6 89.90,283.9 90.00,282.5 90.10,281.0 90.20,281.2 90.30,283.1 90.40,282.1 90.50,283.2 90.60,281.0 90.70,282.2 90.80,283.1 90.90,281.7 91.00,282.8 91.10,282.0 91.20,282.5 91.30,282.5 91.40,284.1 91.50,281.2 91.60,282.8 91.70,283.3 91.80,281.2 91.90,282.2 92.00,284.0 92.10,283.0 92.20,279.7 92.30,281.9 92.40,280.7 92.50,282.3 92.60,281.5 92.70,281.6 92.80,281.3 92.90,282.3 93.00,281.6 93.10,281.2 93.20,281.8 93.30,282.3 93.40,281.2 93.50,282.9 93.60,280.6 93.70,282.3 93.80,281.6 93.90,283.2 94.00,281.4 94.10,281.3 94.20,280.8 94.30,283.5 94.40,282.4 94.50,280.9 94.60,281.5 94.70,281.0 94.80,283.1 94.90,282.1 95.00,280.1 95.10,281.9 95.20,282.5 95.30,281.7 95.40,282.1 95.50,281.6 95.60,281.9 95.70,281.9 95.80,281.1 95.90,282.0 96.00,281.8 96.10,281.6 96.20,281.1 96.30,280.8 96.40,281.8 96.50,282.3 96.60,279.6 96.70,281.2 96.80,282.7 96.90,282.3 97.00,281.0 97.10,282.7 97.20,280.7 97.30,280.9 97.40,283.1 97.50,281.2 97.60,281.3 97.70,280.2 97.80,280.7 97.90,280.5 98.00,281.4 98.10,280.0 98.20,282.4 98.30,281.2 98.40,281.0 98.50,280.9 98.60,282.1 98.70,282.7 98.80,281.1 98.90,282.8 99.00,282.7 99.10,282.5 99.20,281.6 99.30,280.2 99.40,281.9 99.50,281.0 99.60,281.5 99.70,279.8 99.80,281.1 99.90,281.5 100.00,280.6 100.10,281.6 100.20,282.7 100.30,281.5 100.40,280.7 100.50,283.3 100.60,279.5 100.70,280.5 100.80,281.6 100.90,280.8 101.00,279.4 101.10,281.5 101.20,281.9 101.30,280.6 101.40,282.4 101.50,281.6 101.60,282.2 101.70,279.9 101.80,281.2 101.90,282.5 102.00,282.9 102.10,282.3 102.20,281.2 102.30,281.3 102.40,280.6 102.50,282.1 102.60,280.6 102.70,281.2 102.80,279.4 102.90,279.9 103.00,282.6 103.10,281.2 103.20,281.3 103.30,279.3 103.40,281.1 103.50,282.8 103.60,279.9 103.70,279.1 103.80,280.9 103.90,280.6 104.00,280.9 104.10,280.0 104.20,279.9 104.30,280.0 104.40,281.6 104.50,281.0 104.60,281.7 104.70,280.1 104.80,281.5 104.90,280.6 105.00,281.1 105.10,281.8 105.20,281.0 105.30,280.7 105.40,279.6 105.50,281.0 105.60,281.6 105.70,280.4 105.80,280.9 105.90,279.5 106.00,279.8 106.10,281.3 106.20,282.0 106.30,280.7 106.40,279.5 106.50,280.6 106.60,279.6 106.70,280.7 106.80,282.5 106.90,281.2 107.00,280.8" fill="none" stroke="#c85c1e" stroke-width="0.75" stroke-linejoin="round"/>
<line x1="63.60" y1="281.0" x2="63.70" y2="322.1" stroke="#c85c1e" stroke-width="0.7" opacity="0.7"/>
<polyline points="113.30,276.2 113.40,275.0 113.50,275.6 113.60,275.5 113.70,275.7 113.80,274.1 113.90,275.9 114.00,276.0 114.10,273.4 114.20,273.0 114.30,274.6 114.40,276.5 114.50,275.3 114.60,275.9 114.70,275.8 114.80,276.0 114.90,274.8 115.00,274.8 115.10,275.6 115.20,275.8 115.30,275.8 115.40,275.6 115.50,274.9 115.60,276.2 115.70,275.7 115.80,276.2 115.90,273.2 116.00,276.1 116.10,273.3 116.20,275.5 116.30,274.7 116.40,275.4 116.50,274.9 116.60,275.0 116.70,275.5 116.80,275.6 116.90,274.6 117.00,273.2 117.10,274.6 117.20,275.8 117.30,274.6 117.40,275.7 117.50,275.0 117.60,274.5 117.70,276.3 117.80,276.7 117.90,275.2 118.00,275.3 118.10,276.1 118.20,274.2 118.30,274.6 118.40,276.2 118.50,276.1 118.60,274.9 118.70,274.6 118.80,275.6 118.90,274.1 119.00,274.9 119.10,275.1 119.20,273.2 119.30,275.8 119.40,275.9 119.50,276.2 119.60,274.1 119.70,274.2 119.80,274.6 119.90,274.2 120.00,277.0 120.10,274.5 120.20,275.0 120.30,275.5 120.40,275.7 120.50,276.5 120.60,274.4 120.70,276.0 120.80,275.4 120.90,274.3 121.00,275.4 121.10,274.1 121.20,276.7 121.30,274.7 121.40,276.1 121.50,276.4 121.60,274.8 121.70,274.5 121.80,275.4 121.90,274.4 122.00,276.1 122.10,275.4 122.20,274.7 122.30,274.7 122.40,275.9 122.50,274.1 122.60,276.7 122.70,274.6 122.80,275.1 122.90,274.5 123.00,276.7 123.10,276.0 123.20,276.4 123.30,275.9 123.40,275.4 123.50,276.7 123.60,275.9 123.70,275.7 123.80,275.8 123.90,275.9 124.00,275.5 124.10,275.2 124.20,274.0 124.30,277.0 124.40,274.2 124.50,273.5 124.60,274.7 124.70,276.9 124.80,276.3 124.90,274.8 125.00,275.5 125.10,275.3 125.20,273.6 125.30,275.0 125.40,275.5 125.50,276.3 125.60,274.3 125.70,273.4 125.80,274.0 125.90,275.6 126.00,275.4 126.10,275.4 126.20,275.4 126.30,275.0 126.40,274.1 126.50,275.7 126.60,275.6 126.70,275.8 126.80,276.4 126.90,274.2 127.00,273.3 127.10,273.8 127.20,277.1 127.30,274.5 127.40,275.6 127.50,275.3 127.60,275.9 127.70,278.0 127.80,274.9 127.90,275.2 128.00,274.8 128.10,275.5 128.20,275.7 128.30,274.5 128.40,269.1 128.50,269.2 128.60,268.8 128.70,268.5 128.80,268.6 128.90,267.5 129.00,269.6 129.10,268.4 129.20,269.0 129.30,270.4 129.40,268.9 129.50,269.4 129.60,270.7 129.70,271.6 129.80,269.6 129.90,271.2 130.00,269.8 130.10,270.8 130.20,271.0 130.30,269.7 130.40,271.6 130.50,272.4 130.60,271.0 130.70,271.2 130.80,270.1 130.90,272.7 131.00,271.3 131.10,270.2 131.20,272.0 131.30,270.2 131.40,270.9 131.50,269.7 131.60,272.8 131.70,273.5 131.80,271.2 131.90,271.2 132.00,271.3 132.10,271.4 132.20,272.4 132.30,273.2 132.40,271.2 132.50,272.4 132.60,270.6 132.70,273.4 132.80,272.1 132.90,271.6 133.00,273.5 133.10,272.2 133.20,273.5 133.30,273.3 133.40,273.8 133.50,271.7 133.60,272.5 133.70,272.8 133.80,272.3 133.90,273.8 134.00,272.0 134.10,273.4 134.20,273.8 134.30,271.0 134.40,271.8 134.50,271.9 134.60,272.3 134.70,273.1 134.80,272.6 134.90,272.9 135.00,272.4 135.10,272.8 135.20,273.3 135.30,273.5 135.40,272.2 135.50,272.8 135.60,272.3 135.70,272.8 135.80,271.8 135.90,273.8 136.00,273.6 136.10,272.9 136.20,272.5 136.30,272.7 136.40,272.5 136.50,271.8 136.60,274.5 136.70,275.9 136.80,272.1 136.90,272.2 137.00,273.7 137.10,273.7 137.20,271.9 137.30,271.6 137.40,273.7 137.50,271.6 137.60,274.5 137.70,272.9 137.80,273.4 137.90,273.3 138.00,272.9 138.10,273.2 138.20,273.1 138.30,274.4 138.40,273.3 138.50,273.4 138.60,273.0 138.70,272.9 138.80,272.8 138.90,273.5 139.00,275.0 139.10,274.4 139.20,273.7 139.30,274.9 139.40,274.4 139.50,273.7 139.60,273.4 139.70,272.6 139.80,273.8 139.90,273.3 140.00,272.3 140.10,272.5 140.20,275.3 140.30,273.8 140.40,274.1 140.50,273.8 140.60,273.3 140.70,274.1 140.80,274.6 140.90,273.4 141.00,274.2 141.10,274.6 141.20,273.3 141.30,273.9 141.40,273.1 141.50,274.3 141.60,273.5 141.70,274.8 141.80,273.2 141.90,275.2 142.00,273.6 142.10,273.1 142.20,273.1 142.30,274.4 142.40,273.1 142.50,275.4 142.60,275.0 142.70,274.3 142.80,272.7 142.90,273.9 143.00,273.3 143.10,272.4 143.20,274.3 143.30,275.8 143.40,273.5 143.50,274.7 143.60,275.1 143.70,273.2 143.80,273.7 143.90,274.2 144.00,274.4 144.10,273.0 144.20,274.2 144.30,273.9 144.40,274.9 144.50,272.7 144.60,273.6 144.70,273.6 144.80,273.8 144.90,274.7 145.00,273.6 145.10,276.4 145.20,273.5 145.30,274.8 145.40,275.0 145.50,275.0 145.60,274.0 145.70,273.4 145.80,273.9 145.90,274.7 146.00,274.3 146.10,274.7 146.20,274.7 146.30,273.4 146.40,273.4 146.50,275.4 146.60,273.8 146.70,272.9 146.80,275.8 146.90,273.5 147.00,273.4 147.10,275.1 147.20,273.3 147.30,273.5 147.40,275.2 147.50,273.6 147.60,276.4 147.70,274.4 147.80,276.6 147.90,274.4 148.00,274.4 148.10,273.8 148.20,274.1 148.30,273.9 148.40,274.3 148.50,275.0 148.60,273.3 148.70,273.6 148.80,272.6 148.90,275.6 149.00,274.3 149.10,274.4 149.20,274.3 149.30,275.2 149.40,274.7 149.50,275.1 149.60,274.3 149.70,274.3 149.80,274.4 149.90,272.8 150.00,275.4 150.10,273.1 150.20,273.6 150.30,275.0 150.40,274.5 150.50,275.2 150.60,275.9 150.70,276.1 150.80,275.7 150.90,274.3 151.00,276.2 151.10,273.7 151.20,274.4 151.30,275.4 151.40,274.3 151.50,274.4 151.60,274.2 151.70,275.7 151.80,272.4 151.90,275.6 152.00,275.4 152.10,274.5 152.20,275.0 152.30,273.7 152.40,275.5 152.50,277.2 152.60,273.8 152.70,275.8 152.80,274.5 152.90,274.3 153.00,274.2 153.10,274.4 153.20,273.5 153.30,273.5 153.40,276.0 153.50,274.6 153.60,275.1 153.70,274.9 153.80,275.0 153.90,273.3 154.00,273.8 154.10,275.2 154.20,275.5 154.30,273.7 154.40,274.2 154.50,273.8 154.60,275.2 154.70,275.0 154.80,274.7 154.90,274.1 155.00,275.0 155.10,274.7 155.20,274.1 155.30,275.0 155.40,274.1 155.50,275.5 155.60,275.2 155.70,274.1 155.80,275.2 155.90,274.8 156.00,274.1 156.10,273.9 156.20,273.3 156.30,273.8 156.40,275.0 156.50,275.8 156.60,274.2 156.70,274.9 156.80,275.0 156.90,275.4 157.00,275.1 157.10,275.8 157.20,275.4 157.30,274.1 157.40,275.1 157.50,272.8 157.60,274.6 157.70,274.8 157.80,275.3 157.90,274.5 158.00,275.5 158.10,275.9 158.20,274.1 158.30,274.3 158.40,275.0 158.50,275.2 158.60,274.9 158.70,275.5 158.80,273.8 158.90,275.5 159.00,275.8 159.10,275.8 159.20,275.2 159.30,274.6 159.40,275.2 159.50,274.8 159.60,273.5 159.70,274.3 159.80,274.8 159.90,274.4 160.00,274.1 160.10,274.7 160.20,274.5 160.30,274.9 160.40,274.8 160.50,275.0 160.60,275.7 160.70,275.0 160.80,275.2 160.90,273.8 161.00,272.4 161.10,274.5 161.20,275.5 161.30,274.6 161.40,274.4 161.50,273.8 161.60,275.7 161.70,274.5 161.80,275.1 161.90,275.9 162.00,275.4 162.10,276.8 162.20,274.8 162.30,275.7 162.40,275.5 162.50,274.4 162.60,275.0 162.70,274.4 162.80,274.1 162.90,275.2 163.00,274.3 163.10,276.4 163.20,274.3 163.30,274.5 163.40,275.0 163.50,274.5 163.60,275.0 163.70,274.4 163.80,273.7 163.90,272.9 164.00,273.9 164.10,276.3 164.20,275.3 164.30,275.1 164.40,274.6 164.50,274.8 164.60,275.2 164.70,273.8 164.80,274.3 164.90,274.2 165.00,276.1 165.10,274.1 165.20,276.0 165.30,274.6 165.40,277.3 165.50,274.9 165.60,275.0 165.70,276.1 165.80,275.7 165.90,275.8 166.00,274.1 166.10,276.0 166.20,276.4 166.30,274.9 166.40,274.6 166.50,274.1 166.60,275.9 166.70,275.3 166.80,275.0 166.90,274.0 167.00,276.4 167.10,275.8 167.20,275.0 167.30,276.3 167.40,274.2 167.50,275.8 167.60,274.2 167.70,276.2" fill="none" stroke="#4e8f2c" stroke-width="0.75" stroke-linejoin="round"/>
<polyline points="113.30,281.6 113.40,282.8 113.50,281.4 113.60,282.1 113.70,282.8 113.80,281.0 113.90,281.9 114.00,281.1 114.10,282.5 114.20,281.3 114.30,281.5 114.40,281.6 114.50,282.8 114.60,280.9 114.70,281.8 114.80,281.5 114.90,281.3 115.00,281.1 115.10,281.7 115.20,282.0 115.30,280.5 115.40,282.0 115.50,280.8 115.60,281.8 115.70,283.7 115.80,281.0 115.90,281.7 116.00,281.6 116.10,282.6 116.20,281.4 116.30,280.3 116.40,280.4 116.50,282.0 116.60,282.0 116.70,282.7 116.80,281.3 116.90,282.4 117.00,280.9 117.10,282.9 117.20,281.7 117.30,281.2 117.40,282.0 117.50,283.3 117.60,281.1 117.70,280.7 117.80,280.9 117.90,280.8 118.00,281.8 118.10,282.1 118.20,281.7 118.30,282.0 118.40,282.8 118.50,281.6 118.60,280.7 118.70,279.9 118.80,282.0 118.90,281.2 119.00,281.6 119.10,282.1 119.20,282.2 119.30,280.5 119.40,281.0 119.50,281.9 119.60,281.7 119.70,282.8 119.80,281.4 119.90,280.0 120.00,282.8 120.10,280.4 120.20,281.0 120.30,282.1 120.40,280.9 120.50,283.9 120.60,282.0 120.70,282.3 120.80,281.4 120.90,283.7 121.00,282.3 121.10,281.2 121.20,282.9 121.30,280.4 121.40,281.3 121.50,282.0 121.60,281.9 121.70,281.0 121.80,283.1 121.90,283.1 122.00,281.0 122.10,282.1 122.20,281.3 122.30,281.4 122.40,282.6 122.50,281.9 122.60,281.7 122.70,281.9 122.80,280.8 122.90,282.8 123.00,281.2 123.10,282.9 123.20,281.4 123.30,281.4 123.40,283.1 123.50,282.0 123.60,281.3 123.70,281.3 123.80,282.3 123.90,283.4 124.00,282.3 124.10,281.5 124.20,280.8 124.30,281.2 124.40,281.7 124.50,282.0 124.60,281.2 124.70,282.9 124.80,281.0 124.90,281.2 125.00,282.2 125.10,282.2 125.20,281.5 125.30,282.6 125.40,280.6 125.50,283.2 125.60,283.7 125.70,283.5 125.80,281.9 125.90,283.5 126.00,281.8 126.10,282.9 126.20,281.6 126.30,282.0 126.40,282.2 126.50,280.3 126.60,281.6 126.70,283.3 126.80,279.3 126.90,282.1 127.00,282.6 127.10,282.1 127.20,282.0 127.30,283.0 127.40,282.1 127.50,280.2" fill="none" stroke="#c85c1e" stroke-width="0.75" stroke-linejoin="round"/>
<polyline points="127.60,321.8 127.70,321.0 127.80,320.0 127.90,318.2 128.00,317.3 128.10,317.7 128.20,312.6 128.30,315.0 128.40,313.8 128.50,312.5 128.60,311.1 128.70,310.2 128.80,309.6 128.90,308.6 129.00,307.0 129.10,307.5 129.20,305.4 129.30,305.3 129.40,304.4 129.50,303.0 129.60,303.9 129.70,302.7 129.80,301.2 129.90,301.5 130.00,299.9 130.10,301.8 130.20,300.5 130.30,301.2 130.40,298.6 130.50,299.2 130.60,297.4 130.70,297.1 130.80,297.3 130.90,297.4 131.00,297.4 131.10,296.0 131.20,296.9 131.30,296.4 131.40,294.5 131.50,294.8 131.60,293.9 131.70,295.8 131.80,293.6 131.90,294.6 132.00,294.4 132.10,293.1 132.20,292.7 132.30,293.2 132.40,292.0 132.50,291.4 132.60,291.4 132.70,292.3 132.80,292.0 132.90,293.1 133.00,289.9 133.10,291.7 133.20,290.1 133.30,291.9 133.40,291.4 133.50,290.7 133.60,291.7 133.70,290.0 133.80,289.7 133.90,289.2 134.00,289.4 134.10,289.9 134.20,290.2 134.30,290.6 134.40,289.2 134.50,288.7 134.60,288.9 134.70,288.7 134.80,288.6 134.90,288.6 135.00,288.1 135.10,288.7 135.20,288.2 135.30,288.4 135.40,287.3 135.50,288.5 135.60,288.7 135.70,288.7 135.80,287.6 135.90,287.1 136.00,286.8 136.10,286.9 136.20,287.2 136.30,287.5 136.40,286.2 136.50,288.1 136.60,286.2 136.70,286.9 136.80,286.8 136.90,288.0 137.00,288.8 137.10,286.9 137.20,286.9 137.30,286.8 137.40,286.9 137.50,286.8 137.60,289.0 137.70,286.0 137.80,286.7 137.90,286.1 138.00,287.0 138.10,286.2 138.20,287.1 138.30,285.7 138.40,288.3 138.50,286.7 138.60,284.9 138.70,287.0 138.80,285.9 138.90,285.3 139.00,286.6 139.10,285.8 139.20,286.8 139.30,285.7 139.40,286.9 139.50,286.2 139.60,286.3 139.70,286.1 139.80,285.6 139.90,285.6 140.00,286.2 140.10,286.4 140.20,285.5 140.30,287.6 140.40,287.2 140.50,284.7 140.60,286.6 140.70,285.6 140.80,285.8 140.90,284.9 141.00,286.9 141.10,284.8 141.20,285.4 141.30,284.8 141.40,287.0 141.50,286.4 141.60,284.2 141.70,284.9 141.80,285.6 141.90,284.9 142.00,284.9 142.10,284.3 142.20,285.4 142.30,284.2 142.40,285.8 142.50,287.1 142.60,284.8 142.70,286.4 142.80,285.3 142.90,284.4 143.00,284.7 143.10,284.1 143.20,285.0 143.30,285.5 143.40,285.6 143.50,284.6 143.60,283.8 143.70,284.7 143.80,286.2 143.90,285.0 144.00,284.7 144.10,283.0 144.20,284.3 144.30,285.1 144.40,283.8 144.50,285.7 144.60,284.1 144.70,283.8 144.80,284.0 144.90,284.4 145.00,285.3 145.10,284.0 145.20,283.0 145.30,284.4 145.40,284.8 145.50,285.7 145.60,283.4 145.70,285.6 145.80,284.9 145.90,284.7 146.00,283.6 146.10,283.5 146.20,283.4 146.30,285.0 146.40,284.4 146.50,285.1 146.60,285.7 146.70,284.2 146.80,284.1 146.90,285.7 147.00,283.0 147.10,283.7 147.20,283.8 147.30,283.7 147.40,284.1 147.50,283.3 147.60,285.0 147.70,282.8 147.80,283.3 147.90,282.5 148.00,282.8 148.10,284.4 148.20,284.4 148.30,283.7 148.40,284.6 148.50,284.4 148.60,283.3 148.70,283.8 148.80,284.1 148.90,285.5 149.00,283.4 149.10,284.1 149.20,284.2 149.30,284.7 149.40,284.1 149.50,284.6 149.60,282.8 149.70,283.5 149.80,282.0 149.90,283.6 150.00,285.6 150.10,283.8 150.20,283.7 150.30,283.8 150.40,283.7 150.50,282.5 150.60,283.0 150.70,283.4 150.80,283.7 150.90,282.8 151.00,283.4 151.10,282.9 151.20,282.4 151.30,282.9 151.40,282.8 151.50,284.1 151.60,284.5 151.70,283.9 151.80,283.2 151.90,282.9 152.00,282.0 152.10,282.9 152.20,284.6 152.30,284.3 152.40,283.5 152.50,283.1 152.60,283.3 152.70,283.6 152.80,283.3 152.90,283.6 153.00,282.6 153.10,283.3 153.20,282.9 153.30,284.1 153.40,282.2 153.50,284.3 153.60,283.1 153.70,282.8 153.80,283.2 153.90,283.3 154.00,282.9 154.10,283.5 154.20,282.6 154.30,281.7 154.40,283.7 154.50,283.1 154.60,284.5 154.70,283.4 154.80,281.4 154.90,284.1 155.00,282.5 155.10,283.5 155.20,284.9 155.30,283.9 155.40,282.1 155.50,282.9 155.60,281.6 155.70,283.5 155.80,283.4 155.90,282.1 156.00,283.3 156.10,283.7 156.20,283.6 156.30,282.4 156.40,282.3 156.50,282.0 156.60,281.8 156.70,283.2 156.80,282.9 156.90,284.0 157.00,283.1 157.10,282.6 157.20,281.7 157.30,284.1 157.40,283.0 157.50,282.8 157.60,282.0 157.70,281.9 157.80,283.3 157.90,282.0 158.00,283.3 158.10,283.3 158.20,282.5 158.30,281.4 158.40,283.1 158.50,283.9 158.60,282.1 158.70,281.7 158.80,283.6 158.90,282.8 159.00,282.2 159.10,283.7 159.20,282.5 159.30,283.1 159.40,282.3 159.50,282.1 159.60,282.9 159.70,282.0 159.80,281.2 159.90,282.2 160.00,283.7 160.10,283.6 160.20,284.4 160.30,283.5 160.40,284.0 160.50,282.8 160.60,282.2 160.70,283.0 160.80,281.8 160.90,283.2 161.00,282.2 161.10,282.8 161.20,281.9 161.30,282.5 161.40,283.4 161.50,282.4 161.60,282.0 161.70,282.8 161.80,283.3 161.90,282.4 162.00,281.5 162.10,281.2 162.20,281.4 162.30,283.4 162.40,282.4 162.50,282.9 162.60,283.4 162.70,282.7 162.80,282.9 162.90,282.1 163.00,281.1 163.10,283.0 163.20,282.4 163.30,282.9 163.40,281.6 163.50,282.3 163.60,284.1 163.70,281.8 163.80,282.5 163.90,283.5 164.00,282.2 164.10,282.5 164.20,280.6 164.30,283.1 164.40,282.0 164.50,283.5 164.60,282.3 164.70,282.1 164.80,282.7 164.90,282.2 165.00,281.9 165.10,283.6 165.20,283.2 165.30,282.5 165.40,283.0 165.50,283.0 165.60,282.8 165.70,282.4 165.80,282.4 165.90,282.7 166.00,282.8 166.10,282.6 166.20,281.9 166.30,282.3 166.40,282.7 166.50,281.5 166.60,282.3 166.70,282.9 166.80,282.4 166.90,282.1 167.00,282.3 167.10,281.9 167.20,283.1 167.30,282.0 167.40,280.9 167.50,281.3 167.60,282.5 167.70,282.4" fill="none" stroke="#c85c1e" stroke-width="0.75" stroke-linejoin="round"/>
<line x1="127.50" y1="280.2" x2="127.60" y2="321.8" stroke="#c85c1e" stroke-width="0.7" opacity="0.7"/>
<polyline points="176.80,274.3 176.90,273.6 177.00,274.6 177.10,274.0 177.20,274.2 177.30,274.7 177.40,274.1 177.50,275.0 177.60,274.1 177.70,274.3 177.80,274.5 177.90,275.9 178.00,276.0 178.10,275.5 178.20,274.1 178.30,274.7 178.40,275.5 178.50,275.4 178.60,273.3 178.70,274.7 178.80,274.1 178.90,275.3 179.00,275.2 179.10,274.3 179.20,276.5 179.30,274.5 179.40,276.7 179.50,274.6 179.60,274.6 179.70,276.3 179.80,274.3 179.90,274.3 180.00,275.9 180.10,274.7 180.20,275.1 180.30,273.7 180.40,276.2 180.50,275.5 180.60,275.0 180.70,275.3 180.80,274.3 180.90,274.3 181.00,273.4 181.10,275.0 181.20,275.7 181.30,275.4 181.40,275.5 181.50,275.3 181.60,273.9 181.70,273.7 181.80,275.2 181.90,274.8 182.00,275.5 182.10,274.5 182.20,274.0 182.30,275.1 182.40,274.2 182.50,273.4 182.60,274.2 182.70,274.0 182.80,273.8 182.90,274.3 183.00,275.5 183.10,276.6 183.20,276.1 183.30,274.4 183.40,275.7 183.50,274.7 183.60,275.0 183.70,274.2 183.80,274.6 183.90,273.4 184.00,276.2 184.10,274.1 184.20,275.2 184.30,274.2 184.40,274.9 184.50,273.8 184.60,274.4 184.70,275.5 184.80,275.2 184.90,273.1 185.00,275.4 185.10,273.7 185.20,274.9 185.30,275.1 185.40,274.2 185.50,274.5 185.60,274.5 185.70,275.0 185.80,275.5 185.90,275.8 186.00,275.0 186.10,276.3 186.20,273.9 186.30,276.2 186.40,274.5 186.50,275.3 186.60,274.6 186.70,274.8 186.80,273.9 186.90,275.0 187.00,276.4 187.10,274.8 187.20,274.7 187.30,274.7 187.40,275.3 187.50,274.5 187.60,274.7 187.70,274.9 187.80,275.8 187.90,275.5 188.00,273.8 188.10,274.2 188.20,274.7 188.30,275.4 188.40,275.5 188.50,274.5 188.60,276.5 188.70,274.6 188.80,275.9 188.90,275.9 189.00,276.0 189.10,274.9 189.20,275.2 189.30,273.5 189.40,273.2 189.50,274.2 189.60,275.3 189.70,275.6 189.80,274.6 189.90,275.6 190.00,275.2 190.10,275.9 190.20,273.4 190.30,274.0 190.40,273.9 190.50,273.9 190.60,276.1 190.70,274.0 190.80,274.0 190.90,274.4 191.00,275.4 191.10,274.3 191.20,275.3 191.30,275.2 191.40,274.2 191.50,272.8 191.60,273.9 191.70,273.7 191.80,276.1 191.90,274.1 192.00,273.8 192.10,275.0 192.20,274.7 192.30,274.0 192.40,275.6 192.50,275.5 192.60,274.9 192.70,274.1 192.80,274.0 192.90,273.1 193.00,275.0 193.10,275.0 193.20,273.9 193.30,274.7 193.40,277.4 193.50,273.8 193.60,273.3 193.70,275.2 193.80,274.3 193.90,274.3 194.00,272.0 194.10,271.5 194.20,272.4 194.30,272.1 194.40,272.7 194.50,271.9 194.60,270.0 194.70,273.0 194.80,270.5 194.90,272.8 195.00,272.2 195.10,270.9 195.20,272.1 195.30,272.8 195.40,271.3 195.50,272.2 195.60,271.6 195.70,271.4 195.80,271.7 195.90,273.3 196.00,272.9 196.10,272.3 196.20,272.3 196.30,272.5 196.40,272.7 196.50,272.6 196.60,271.0 196.70,273.2 196.80,271.8 196.90,270.4 197.00,273.1 197.10,271.6 197.20,272.5 197.30,272.6 197.40,272.1 197.50,273.1 197.60,272.4 197.70,272.5 197.80,271.9 197.90,272.5 198.00,271.9 198.10,272.8 198.20,273.9 198.30,273.6 198.40,273.2 198.50,271.7 198.60,273.7 198.70,273.6 198.80,274.6 198.90,271.1 199.00,272.9 199.10,272.6 199.20,273.8 199.30,272.0 199.40,272.6 199.50,274.8 199.60,273.8 199.70,271.4 199.80,273.0 199.90,274.1 200.00,272.5 200.10,273.5 200.20,273.1 200.30,271.9 200.40,272.5 200.50,274.0 200.60,274.0 200.70,272.6 200.80,274.0 200.90,272.5 201.00,273.3 201.10,273.1 201.20,272.1 201.30,273.4 201.40,272.8 201.50,270.9 201.60,272.5 201.70,272.5 201.80,272.5 201.90,272.4 202.00,272.6 202.10,271.2 202.20,273.9 202.30,273.3 202.40,273.4 202.50,273.0 202.60,273.3 202.70,273.0 202.80,272.3 202.90,272.0 203.00,273.3 203.10,274.1 203.20,273.5 203.30,274.6 203.40,272.2 203.50,273.1 203.60,272.8 203.70,274.3 203.80,274.7 203.90,272.9 204.00,273.9 204.10,273.2 204.20,272.5 204.30,273.3 204.40,272.5 204.50,274.6 204.60,273.9 204.70,274.4 204.80,273.7 204.90,271.4 205.00,274.1 205.10,273.5 205.20,271.4 205.30,273.5 205.40,274.3 205.50,274.8 205.60,272.6 205.70,274.1 205.80,273.7 205.90,273.3 206.00,273.2 206.10,273.9 206.20,274.0 206.30,274.0 206.40,273.2 206.50,272.4 206.60,274.6 206.70,274.6 206.80,273.0 206.90,273.5 207.00,274.2 207.10,272.1 207.20,274.0 207.30,275.5 207.40,273.8 207.50,273.0 207.60,275.3 207.70,273.6 207.80,273.8 207.90,273.2 208.00,273.7 208.10,272.1 208.20,272.5 208.30,272.4 208.40,274.4 208.50,273.5 208.60,274.6 208.70,272.0 208.80,273.1 208.90,274.8 209.00,273.0 209.10,272.1 209.20,273.0 209.30,273.4 209.40,273.7 209.50,274.7 209.60,274.8 209.70,274.9 209.80,274.2 209.90,273.3 210.00,273.3 210.10,272.5 210.20,274.8 210.30,274.7 210.40,273.8 210.50,273.0 210.60,274.3 210.70,274.1 210.80,273.9 210.90,272.8 211.00,273.9 211.10,273.3 211.20,274.4 211.30,274.2 211.40,274.1 211.50,273.4 211.60,275.0 211.70,274.4 211.80,274.8 211.90,274.5 212.00,274.3 212.10,274.1 212.20,272.9 212.30,272.3 212.40,273.0 212.50,274.3 212.60,274.6 212.70,274.0 212.80,273.9 212.90,275.3 213.00,273.5 213.10,272.4 213.20,272.6 213.30,273.6 213.40,274.4 213.50,274.5 213.60,273.7 213.70,274.5 213.80,273.8 213.90,273.3 214.00,273.6 214.10,274.5 214.20,274.7 214.30,273.0 214.40,273.1 214.50,274.0 214.60,275.7 214.70,273.0 214.80,272.9 214.90,274.3 215.00,274.3 215.10,273.4 215.20,273.9 215.30,274.3 215.40,272.5 215.50,273.9 215.60,274.4 215.70,274.7 215.80,274.9 215.90,273.9 216.00,272.8 216.10,275.1 216.20,274.6 216.30,273.4 216.40,274.8 216.50,274.8 216.60,273.9 216.70,272.1 216.80,273.6 216.90,273.4 217.00,273.3 217.10,273.9 217.20,273.1 217.30,274.3 217.40,275.6 217.50,273.0 217.60,274.9 217.70,273.6 217.80,274.5 217.90,273.9 218.00,275.1 218.10,273.5 218.20,274.6 218.30,273.4 218.40,274.2 218.50,274.0 218.60,275.0 218.70,272.8 218.80,272.9 218.90,275.2 219.00,274.4 219.10,275.4 219.20,273.2 219.30,274.2 219.40,274.6 219.50,275.5 219.60,274.0 219.70,273.7 219.80,274.7 219.90,274.0 220.00,273.5 220.10,274.7 220.20,272.5 220.30,273.3 220.40,275.2 220.50,273.7 220.60,273.8 220.70,274.4 220.80,275.0 220.90,274.5 221.00,273.3 221.10,273.7 221.20,275.0 221.30,274.0 221.40,273.6 221.50,274.8 221.60,275.1 221.70,275.9 221.80,273.2 221.90,273.6 222.00,273.6 222.10,274.4 222.20,273.8 222.30,275.1 222.40,271.9 222.50,274.9 222.60,273.6 222.70,273.9 222.80,274.6 222.90,274.3 223.00,273.3 223.10,275.4 223.20,274.7 223.30,273.8 223.40,274.4 223.50,273.3 223.60,273.2 223.70,273.9 223.80,274.5 223.90,274.3 224.00,273.6 224.10,273.1 224.20,272.8 224.30,275.5 224.40,274.5 224.50,273.6 224.60,275.2 224.70,274.7 224.80,273.9 224.90,273.7 225.00,275.2 225.10,274.5 225.20,275.6 225.30,274.5 225.40,273.7 225.50,273.7 225.60,273.7 225.70,274.4 225.80,274.5 225.90,274.7 226.00,274.6 226.10,273.4 226.20,274.1 226.30,273.5 226.40,274.7 226.50,273.2 226.60,273.8 226.70,273.6 226.80,273.8 226.90,274.1 227.00,275.5 227.10,274.1 227.20,273.1 227.30,274.0 227.40,274.9 227.50,274.7 227.60,274.5 227.70,275.9 227.80,275.2 227.90,274.4 228.00,275.3 228.10,273.2 228.20,274.2 228.30,273.6 228.40,274.4 228.50,275.6 228.60,273.9 228.70,275.6 228.80,273.5 228.90,275.5 229.00,272.9 229.10,273.6 229.20,275.1 229.30,274.2 229.40,274.4 229.50,274.3 229.60,274.5 229.70,274.2 229.80,273.5 229.90,274.1 230.00,274.4 230.10,273.6 230.20,274.7 230.30,275.8 230.40,273.0 230.50,273.9 230.60,274.1 230.70,274.4 230.80,274.4 230.90,273.8 231.00,274.3 231.10,274.4 231.20,274.3 231.30,275.6 231.40,274.5 231.50,273.2 231.60,273.1 231.70,274.8 231.80,274.1 231.90,273.9 232.00,273.2 232.10,274.1 232.20,274.3 232.30,273.8 232.40,274.1 232.50,275.1 232.60,275.0 232.70,274.8 232.80,274.2 232.90,273.3 233.00,275.0 233.10,275.6" fill="none" stroke="#4e8f2c" stroke-width="0.75" stroke-linejoin="round"/>
<polyline points="176.80,282.1 176.90,281.9 177.00,281.2 177.10,281.3 177.20,281.0 177.30,282.0 177.40,280.8 177.50,282.8 177.60,281.6 177.70,280.7 177.80,281.0 177.90,279.7 178.00,280.4 178.10,280.8 178.20,283.0 178.30,280.3 178.40,281.8 178.50,281.1 178.60,280.8 178.70,281.5 178.80,279.4 178.90,281.8 179.00,282.6 179.10,281.2 179.20,280.9 179.30,281.1 179.40,281.5 179.50,280.6 179.60,281.1 179.70,281.4 179.80,280.7 179.90,281.3 180.00,281.3 180.10,281.6 180.20,280.2 180.30,280.6 180.40,280.6 180.50,282.0 180.60,281.2 180.70,279.7 180.80,279.9 180.90,282.6 181.00,281.3 181.10,279.9 181.20,280.2 181.30,281.1 181.40,282.2 181.50,282.3 181.60,280.7 181.70,280.8 181.80,282.6 181.90,280.2 182.00,282.3 182.10,281.3 182.20,281.1 182.30,282.0 182.40,281.4 182.50,280.3 182.60,279.7 182.70,281.0 182.80,281.4 182.90,282.1 183.00,278.8 183.10,282.1 183.20,281.5 183.30,282.2 183.40,281.7 183.50,281.2 183.60,281.4 183.70,281.3 183.80,280.5 183.90,280.9 184.00,281.1 184.10,280.6 184.20,279.8 184.30,279.8 184.40,281.4 184.50,281.4 184.60,281.1 184.70,280.0 184.80,281.7 184.90,280.7 185.00,279.3 185.10,282.3 185.20,279.8 185.30,282.8 185.40,281.4 185.50,280.6 185.60,279.1 185.70,280.4 185.80,282.2 185.90,282.1 186.00,281.2 186.10,279.6 186.20,280.7 186.30,280.8 186.40,281.4 186.50,280.9 186.60,281.3 186.70,279.7 186.80,280.5 186.90,282.2 187.00,279.8 187.10,281.8 187.20,282.9 187.30,281.5 187.40,279.9 187.50,282.0 187.60,279.5 187.70,281.3 187.80,280.7 187.90,282.0 188.00,282.0 188.10,281.2 188.20,282.5 188.30,281.8 188.40,280.6 188.50,280.2 188.60,283.0 188.70,280.7 188.80,281.3 188.90,280.9 189.00,280.6 189.10,279.7 189.20,280.9 189.30,280.9 189.40,281.8 189.50,280.6 189.60,279.7 189.70,280.1 189.80,281.0 189.90,281.2 190.00,281.6 190.10,280.7 190.20,281.4 190.30,281.1 190.40,282.4 190.50,281.0 190.60,281.1 190.70,281.5 190.80,282.0 190.90,280.2 191.00,280.6 191.10,280.8 191.20,279.2 191.30,282.1 191.40,281.9 191.50,281.0 191.60,283.8 191.70,282.0 191.80,282.7 191.90,282.3 192.00,281.7 192.10,279.8 192.20,282.3 192.30,281.3 192.40,280.0 192.50,281.0 192.60,281.6 192.70,281.8 192.80,281.1 192.90,280.6 193.00,281.6 193.10,280.4 193.20,280.9 193.30,281.6 193.40,279.8 193.50,281.3 193.60,279.4 193.70,280.2 193.80,280.0 193.90,280.9 194.00,281.6 194.10,281.0 194.20,281.8 194.30,281.1 194.40,280.8 194.50,281.4 194.60,280.8 194.70,281.1 194.80,281.9 194.90,280.5 195.00,282.0 195.10,280.1 195.20,280.8 195.30,279.6 195.40,280.6 195.50,282.3 195.60,281.3 195.70,282.0 195.80,279.8 195.90,280.2 196.00,281.4 196.10,281.7 196.20,281.7 196.30,279.6 196.40,281.4 196.50,280.9 196.60,281.1 196.70,281.4 196.80,280.8 196.90,279.6 197.00,280.1 197.10,279.8 197.20,279.9 197.30,280.9 197.40,282.1 197.50,280.4 197.60,280.4 197.70,280.1 197.80,279.6 197.90,281.1 198.00,280.6 198.10,280.8 198.20,280.2 198.30,281.4 198.40,280.0 198.50,281.5 198.60,280.5 198.70,281.6 198.80,280.3 198.90,281.4 199.00,281.4 199.10,280.9 199.20,282.4 199.30,281.1 199.40,280.3 199.50,281.6 199.60,280.3 199.70,280.6 199.80,281.0 199.90,281.1 200.00,282.4 200.10,279.6 200.20,280.8 200.30,281.9 200.40,280.9 200.50,281.3 200.60,282.3 200.70,280.0 200.80,281.0 200.90,281.7 201.00,280.5 201.10,279.6 201.20,280.2 201.30,281.2 201.40,281.2 201.50,282.5 201.60,282.1 201.70,279.7 201.80,281.9 201.90,281.8 202.00,282.3 202.10,280.9 202.20,280.5 202.30,281.1 202.40,282.3 202.50,281.5 202.60,282.4 202.70,281.6 202.80,280.5 202.90,280.2 203.00,282.5 203.10,279.8 203.20,280.7 203.30,280.7 203.40,280.2 203.50,280.5 203.60,281.0 203.70,283.0 203.80,280.9 203.90,280.6 204.00,281.1 204.10,281.8 204.20,280.3 204.30,280.7 204.40,279.6 204.50,281.6 204.60,281.6 204.70,282.2 204.80,280.0 204.90,282.8 205.00,281.7 205.10,280.8 205.20,280.7 205.30,280.7 205.40,280.0 205.50,281.6 205.60,280.5 205.70,280.4 205.80,281.4 205.90,281.1 206.00,280.5 206.10,280.8 206.20,280.6 206.30,282.1 206.40,281.8 206.50,280.4 206.60,281.0 206.70,282.1 206.80,280.8 206.90,282.5 207.00,281.4 207.10,281.6 207.20,279.3 207.30,281.7 207.40,281.3 207.50,281.5 207.60,281.4 207.70,281.4 207.80,280.6 207.90,281.7 208.00,281.1 208.10,280.1 208.20,280.2 208.30,281.1 208.40,281.3 208.50,279.2 208.60,279.3 208.70,281.9 208.80,281.0 208.90,283.3 209.00,279.7 209.10,280.8 209.20,280.5 209.30,281.5 209.40,282.2 209.50,282.3 209.60,280.2 209.70,282.0 209.80,280.0 209.90,281.3 210.00,281.1 210.10,281.5 210.20,280.3 210.30,282.1 210.40,280.9 210.50,281.0 210.60,280.8 210.70,280.1 210.80,281.6 210.90,281.3 211.00,281.4 211.10,282.5 211.20,280.3 211.30,280.8 211.40,281.0 211.50,281.7 211.60,280.9 211.70,281.8 211.80,281.4 211.90,279.6 212.00,280.4 212.10,279.3 212.20,280.8 212.30,280.7 212.40,281.5 212.50,281.1 212.60,280.9 212.70,282.0 212.80,281.5 212.90,280.0 213.00,280.4 213.10,281.3 213.20,282.4 213.30,280.8 213.40,280.9 213.50,281.2 213.60,281.6 213.70,280.9 213.80,281.2 213.90,280.7 214.00,280.5 214.10,280.3 214.20,281.5 214.30,280.5 214.40,281.5 214.50,281.3 214.60,281.8 214.70,278.8 214.80,280.2 214.90,280.0 215.00,280.9 215.10,281.7 215.20,283.1 215.30,282.3 215.40,282.1 215.50,281.3 215.60,280.7 215.70,281.4 215.80,279.2 215.90,281.8 216.00,281.0 216.10,281.5 216.20,280.1 216.30,280.1 216.40,280.5 216.50,281.0 216.60,281.3 216.70,280.7 216.80,281.3 216.90,281.6 217.00,280.0 217.10,280.9 217.20,279.7 217.30,280.5 217.40,281.8 217.50,280.4 217.60,282.5 217.70,281.4 217.80,281.7 217.90,281.1 218.00,281.7 218.10,281.9 218.20,281.1 218.30,280.6 218.40,280.5 218.50,282.6 218.60,280.8 218.70,280.6 218.80,280.4 218.90,279.6 219.00,280.6 219.10,281.3 219.20,280.6 219.30,280.4 219.40,281.3 219.50,281.4 219.60,280.6 219.70,281.3 219.80,280.2 219.90,281.7 220.00,280.2 220.10,280.7 220.20,281.1 220.30,280.7 220.40,280.0 220.50,282.7 220.60,282.3 220.70,279.6 220.80,281.1 220.90,280.0 221.00,281.3 221.10,279.9 221.20,281.5 221.30,281.4 221.40,282.4 221.50,282.0 221.60,280.6 221.70,281.8 221.80,280.6 221.90,280.9 222.00,280.6 222.10,279.5 222.20,281.5 222.30,279.3 222.40,280.8 222.50,281.4 222.60,281.1 222.70,279.7 222.80,280.5 222.90,281.6 223.00,281.9 223.10,282.3 223.20,279.5 223.30,281.4 223.40,280.6 223.50,281.6 223.60,279.6 223.70,280.9 223.80,281.6 223.90,280.5 224.00,280.7 224.10,280.2 224.20,281.9 224.30,279.9 224.40,280.2 224.50,280.7 224.60,280.7 224.70,282.7 224.80,281.2 224.90,280.3 225.00,281.5 225.10,281.3 225.20,281.2 225.30,280.9 225.40,281.4 225.50,280.0 225.60,280.0 225.70,280.6 225.80,280.1 225.90,281.6 226.00,282.6 226.10,282.0 226.20,281.4 226.30,281.3 226.40,280.4 226.50,279.9 226.60,281.5 226.70,279.8 226.80,281.3 226.90,280.9 227.00,281.6 227.10,281.0 227.20,281.1 227.30,280.5 227.40,279.6 227.50,280.7 227.60,281.6 227.70,281.9 227.80,282.1 227.90,280.2 228.00,280.2 228.10,281.6 228.20,280.6 228.30,283.1 228.40,281.3 228.50,279.7 228.60,280.5 228.70,282.3 228.80,279.5 228.90,281.1 229.00,279.8 229.10,282.3 229.20,280.6 229.30,280.1 229.40,279.6 229.50,280.4 229.60,278.9 229.70,280.6 229.80,282.8 229.90,281.1 230.00,280.8 230.10,280.0 230.20,281.3 230.30,280.6 230.40,280.3 230.50,282.1 230.60,281.4 230.70,280.3 230.80,282.2 230.90,281.0 231.00,281.4 231.10,281.1 231.20,282.0 231.30,281.5 231.40,280.7 231.50,281.6 231.60,280.7 231.70,281.1 231.80,282.4 231.90,280.1 232.00,280.1 232.10,280.7 232.20,280.6 232.30,282.1 232.40,279.7 232.50,282.9 232.60,282.3 232.70,280.6 232.80,281.2 232.90,280.7 233.00,281.6 233.10,281.5" fill="none" stroke="#c85c1e" stroke-width="0.75" stroke-linejoin="round"/>
<rect x="57.65" y="261.1" width="3.7" height="10.8" fill="#4fb9ec" />
<rect x="121.7" y="261.5" width="3.7" height="10.8" fill="#4fb9ec" />
<rect x="188.65" y="260.9" width="3.7" height="10.2" fill="#4fb9ec" />
<path d="M223.2,315.6 H235.1 V305.7" fill="none" stroke="#231f20" stroke-width="1.3"/>
<text transform="translate(211.44,326.5)" font-size="10.1" text-anchor="start" fill="#231f20">100 ms</text>
<text transform="translate(247.4,304.6) rotate(-90)" font-size="10.1" text-anchor="middle" fill="#231f20">50 pA</text>
<text transform="translate(249.13,402.3) scale(1.025,1)" font-size="12.3" text-anchor="start" fill="#231f20">ACSF</text>
<text transform="translate(327.14,402.3) scale(1.025,1)" font-size="12.3" text-anchor="start" fill="#231f20">TTX</text>
<text transform="translate(384.84,402.3) scale(1.025,1)" font-size="12.3" text-anchor="start" fill="#231f20">TTX+4-AP</text>
<text transform="translate(451.89,392.7) scale(1.025,1)" font-size="12.3" text-anchor="start" fill="#231f20">TTX+4-AP+</text>
<text transform="translate(451.54,407.9) scale(1.025,1)" font-size="12.3" text-anchor="start" fill="#231f20">NBQX+AP5</text>
<text transform="translate(236.6,445) rotate(-90) scale(1.025,1)" font-size="12.3" text-anchor="middle" fill="#c85c1e">oEPSCs</text>
<polyline points="240.50,437.3 240.60,437.3 240.70,438.5 240.80,436.4 240.90,437.3 241.00,436.4 241.10,436.6 241.20,436.8 241.30,436.5 241.40,436.9 241.50,435.8 241.60,436.5 241.70,436.0 241.80,435.5 241.90,435.9 242.00,436.1 242.10,436.5 242.20,435.1 242.30,436.3 242.40,435.5 242.50,435.8 242.60,436.8 242.70,437.7 242.80,436.9 242.90,436.1 243.00,436.2 243.10,437.9 243.20,435.0 243.30,437.7 243.40,435.1 243.50,436.0 243.60,436.6 243.70,436.4 243.80,438.2 243.90,437.1 244.00,436.6 244.10,437.5 244.20,436.6 244.30,435.8 244.40,437.7 244.50,438.1 244.60,437.8 244.70,435.5 244.80,438.5 244.90,436.2 245.00,437.3 245.10,437.8 245.20,438.9 245.30,435.0 245.40,435.6 245.50,437.8 245.60,437.1 245.70,436.3 245.80,433.7 245.90,437.0 246.00,436.4 246.10,434.0 246.20,439.2 246.30,434.2 246.40,436.1 246.50,436.6 246.60,436.8 246.70,437.3 246.80,436.3 246.90,435.7 247.00,436.2 247.10,434.5 247.20,435.5 247.30,438.5 247.40,435.9 247.50,436.5 247.60,438.5 247.70,437.6 247.80,436.7 247.90,437.3 248.00,436.3 248.10,435.7 248.20,437.6 248.30,436.7 248.40,438.2 248.50,436.3 248.60,436.2 248.70,436.9 248.80,436.4 248.90,436.3 249.00,435.7 249.10,436.8 249.20,436.9 249.30,438.4 249.40,436.6 249.50,434.9 249.60,437.1 249.70,438.8 249.80,436.2 249.90,435.8 250.00,436.4 250.10,433.8 250.20,436.3 250.30,436.4 250.40,435.1 250.50,437.2 250.60,435.7 250.70,434.8 250.80,435.9 250.90,437.2 251.00,438.5 251.10,437.8 251.20,436.8 251.30,436.1 251.40,436.3 251.50,437.5 251.60,436.1 251.70,437.0 251.80,437.5 251.90,435.7 252.00,436.0 252.10,437.0 252.20,436.6 252.30,436.5 252.40,436.1 252.50,436.5 252.60,438.4 252.70,437.9 252.80,435.0 252.90,436.6 253.00,436.7 253.10,436.6 253.20,435.2 253.30,436.5 253.40,436.7 253.50,435.9 253.60,436.9 253.70,434.2 253.80,435.1 253.90,436.7 254.00,437.0 254.10,436.4 254.20,436.2 254.30,436.8 254.40,437.7 254.50,437.5 254.60,436.5 254.70,436.1 254.80,437.6 254.90,437.1 255.00,437.5 255.10,436.3 255.20,435.8 255.30,436.8 255.40,436.0 255.50,437.7 255.60,437.4 255.70,434.5 255.80,437.3 255.90,437.9 256.00,437.6 256.10,436.1 256.20,435.8 256.30,437.6 256.40,437.6 256.50,436.7 256.60,435.5 256.70,435.1 256.80,436.9 256.90,435.8 257.00,435.9 257.10,437.0 257.20,437.6 257.30,434.6 257.40,435.9 257.50,437.9 257.60,436.6 257.70,436.3 257.80,437.2 257.90,435.5 258.00,435.4 258.10,436.6 258.20,438.1 258.30,437.6 258.40,436.6 258.50,437.6 258.60,436.2 258.70,435.4 258.80,435.0 258.90,436.9 259.00,437.5 259.10,437.0 259.20,436.6 259.30,436.2 259.40,437.7 259.50,436.6 259.60,435.2 259.70,437.9 259.80,436.0 259.90,437.0 260.00,436.6 260.10,437.6 260.20,436.8 260.30,437.8 260.40,436.8 260.50,436.1 260.60,436.1 260.70,437.2 260.80,435.8 260.90,437.5 261.00,436.4 261.10,435.7 261.20,435.7 261.30,436.5 261.40,438.3 261.50,437.4 261.60,436.6 261.70,435.7 261.80,438.5 261.90,436.3 262.00,436.6 262.10,436.2 262.20,437.9 262.30,436.8 262.40,436.2 262.50,436.8 262.60,435.6 262.70,435.6 262.80,436.4 262.90,433.8 263.00,437.8" fill="none" stroke="#c85c1e" stroke-width="0.75" stroke-linejoin="round"/>
<polyline points="263.10,482.1 263.20,477.7 263.30,477.4 263.40,474.7 263.50,475.3 263.60,474.2 263.70,473.6 263.80,470.5 263.90,470.2 264.00,469.2 264.10,468.6 264.20,470.2 264.30,466.9 264.40,466.2 264.50,464.9 264.60,465.4 264.70,466.4 264.80,464.3 264.90,464.0 265.00,460.7 265.10,462.2 265.20,460.5 265.30,461.1 265.40,460.3 265.50,459.4 265.60,456.5 265.70,457.8 265.80,456.6 265.90,457.1 266.00,456.2 266.10,456.7 266.20,453.7 266.30,454.1 266.40,454.3 266.50,454.3 266.60,453.2 266.70,453.2 266.80,452.9 266.90,453.6 267.00,452.1 267.10,452.1 267.20,449.8 267.30,448.7 267.40,449.5 267.50,451.0 267.60,448.1 267.70,450.5 267.80,449.8 267.90,449.6 268.00,448.7 268.10,448.7 268.20,449.7 268.30,449.0 268.40,448.4 268.50,447.8 268.60,448.3 268.70,449.0 268.80,447.6 268.90,447.1 269.00,446.1 269.10,447.2 269.20,446.0 269.30,445.4 269.40,447.5 269.50,445.9 269.60,444.3 269.70,445.5 269.80,447.8 269.90,445.8 270.00,444.4 270.10,444.5 270.20,446.2 270.30,445.8 270.40,445.4 270.50,444.9 270.60,445.5 270.70,446.4 270.80,445.3 270.90,444.5 271.00,443.2 271.10,444.9 271.20,445.9 271.30,444.9 271.40,442.9 271.50,444.3 271.60,445.3 271.70,443.3 271.80,444.3 271.90,444.9 272.00,445.2 272.10,442.0 272.20,441.8 272.30,443.8 272.40,444.0 272.50,442.9 272.60,443.1 272.70,442.7 272.80,444.2 272.90,440.8 273.00,443.1 273.10,441.6 273.20,442.1 273.30,441.2 273.40,441.7 273.50,442.5 273.60,442.5 273.70,444.2 273.80,442.2 273.90,442.7 274.00,442.6 274.10,442.5 274.20,443.6 274.30,442.2 274.40,442.2 274.50,441.9 274.60,441.9 274.70,441.8 274.80,442.8 274.90,441.8 275.00,441.8 275.10,441.6 275.20,442.4 275.30,441.1 275.40,442.5 275.50,440.9 275.60,442.1 275.70,443.3 275.80,441.6 275.90,441.3 276.00,440.1 276.10,442.0 276.20,441.2 276.30,442.1 276.40,440.5 276.50,441.6 276.60,442.8 276.70,441.4 276.80,440.7 276.90,439.7 277.00,440.9 277.10,441.5 277.20,441.4 277.30,439.7 277.40,439.7 277.50,439.8 277.60,439.7 277.70,440.4 277.80,440.9 277.90,442.5 278.00,440.7 278.10,442.0 278.20,438.9 278.30,442.0 278.40,441.2 278.50,440.8 278.60,441.2 278.70,440.9 278.80,442.2 278.90,441.1 279.00,438.5 279.10,438.5 279.20,441.8 279.30,440.1 279.40,441.4 279.50,439.8 279.60,439.4 279.70,439.7 279.80,440.3 279.90,440.2 280.00,439.3 280.10,440.5 280.20,440.5 280.30,439.0 280.40,438.8 280.50,437.9 280.60,439.5 280.70,439.8 280.80,439.1 280.90,439.1 281.00,439.6 281.10,439.7 281.20,440.2 281.30,440.4 281.40,440.0 281.50,440.7 281.60,438.6 281.70,440.1 281.80,439.9 281.90,438.5 282.00,438.8 282.10,439.9 282.20,439.5 282.30,438.2 282.40,438.8 282.50,440.9 282.60,440.2 282.70,439.4 282.80,440.6 282.90,438.4 283.00,439.1 283.10,440.2 283.20,438.9 283.30,438.1 283.40,439.7 283.50,440.7 283.60,436.6 283.70,439.3 283.80,437.9 283.90,438.8 284.00,437.7 284.10,441.6 284.20,438.3 284.30,439.0 284.40,438.3 284.50,438.0 284.60,438.5 284.70,439.1 284.80,440.6 284.90,439.2 285.00,440.4 285.10,437.8 285.20,438.9 285.30,438.4 285.40,437.2 285.50,442.5 285.60,438.5 285.70,439.0 285.80,438.0 285.90,438.1 286.00,437.7 286.10,439.7 286.20,438.3 286.30,438.5 286.40,438.8 286.50,437.4 286.60,438.8 286.70,438.4 286.80,439.0 286.90,438.2 287.00,438.6 287.10,439.0 287.20,439.5 287.30,437.8 287.40,439.4 287.50,437.5 287.60,438.3 287.70,438.6 287.80,438.6 287.90,435.9 288.00,437.4 288.10,438.2 288.20,439.3 288.30,437.7 288.40,439.8 288.50,436.5 288.60,438.4 288.70,438.8 288.80,438.3 288.90,438.5 289.00,439.2 289.10,437.5 289.20,438.8 289.30,439.3 289.40,438.0 289.50,435.9 289.60,437.0 289.70,437.3 289.80,437.1 289.90,438.6 290.00,437.3 290.10,440.6 290.20,438.7 290.30,436.8 290.40,437.8 290.50,439.6 290.60,438.7 290.70,437.1 290.80,439.1 290.90,437.6 291.00,440.2 291.10,437.5 291.20,438.6 291.30,438.5 291.40,437.5 291.50,437.8 291.60,439.1 291.70,438.4 291.80,437.9 291.90,438.4 292.00,439.6 292.10,438.8 292.20,438.4 292.30,438.2 292.40,436.3 292.50,438.0 292.60,437.4 292.70,438.6 292.80,437.2 292.90,438.3 293.00,436.8 293.10,438.7 293.20,437.1 293.30,437.8 293.40,438.4 293.50,437.5 293.60,437.8 293.70,438.8 293.80,439.5 293.90,436.0 294.00,436.8 294.10,438.4 294.20,438.6 294.30,437.2 294.40,437.8 294.50,437.5 294.60,439.9 294.70,437.5 294.80,436.5 294.90,436.1 295.00,436.4 295.10,438.9 295.20,437.2 295.30,439.5 295.40,438.2 295.50,438.0 295.60,438.2 295.70,438.4" fill="none" stroke="#c85c1e" stroke-width="0.75" stroke-linejoin="round"/>
<line x1="263.00" y1="437.8" x2="263.10" y2="482.1" stroke="#c85c1e" stroke-width="0.7" opacity="0.7"/>
<polyline points="315.30,438.3 315.40,436.4 315.50,436.8 315.60,436.9 315.70,437.5 315.80,437.2 315.90,436.2 316.00,436.7 316.10,439.2 316.20,439.5 316.30,436.6 316.40,437.8 316.50,437.4 316.60,436.6 316.70,438.1 316.80,437.3 316.90,439.0 317.00,437.9 317.10,437.1 317.20,434.8 317.30,437.3 317.40,438.2 317.50,436.7 317.60,438.3 317.70,438.1 317.80,435.7 317.90,437.2 318.00,437.7 318.10,438.1 318.20,437.6 318.30,437.4 318.40,437.1 318.50,437.1 318.60,437.4 318.70,436.4 318.80,438.0 318.90,437.1 319.00,437.9 319.10,436.9 319.20,437.8 319.30,437.5 319.40,438.3 319.50,437.9 319.60,438.3 319.70,437.2 319.80,437.3 319.90,437.1 320.00,436.2 320.10,437.3 320.20,438.5 320.30,438.2 320.40,436.6 320.50,437.7 320.60,438.1 320.70,436.1 320.80,437.7 320.90,437.7 321.00,438.1 321.10,437.7 321.20,435.7 321.30,435.4 321.40,439.4 321.50,437.0 321.60,438.7 321.70,438.6 321.80,437.5 321.90,436.3 322.00,438.8 322.10,437.4 322.20,437.9 322.30,437.9 322.40,438.3 322.50,438.4 322.60,436.0 322.70,436.0 322.80,437.5 322.90,437.4 323.00,438.2 323.10,437.3 323.20,437.2 323.30,439.4 323.40,438.8 323.50,438.5 323.60,438.4 323.70,436.6 323.80,437.3 323.90,437.3 324.00,436.3 324.10,436.5 324.20,437.6 324.30,436.2 324.40,437.9 324.50,437.9 324.60,437.2 324.70,437.1 324.80,438.0 324.90,437.9 325.00,437.8 325.10,436.2 325.20,435.8 325.30,439.4 325.40,436.8 325.50,437.0 325.60,435.6 325.70,436.6 325.80,436.7 325.90,438.2 326.00,434.8 326.10,436.0 326.20,437.0 326.30,436.9 326.40,436.6 326.50,437.0 326.60,435.8 326.70,437.7 326.80,438.6 326.90,437.6 327.00,436.9 327.10,438.6 327.20,437.9 327.30,436.4 327.40,436.8 327.50,436.8 327.60,437.4 327.70,438.6 327.80,436.7 327.90,437.3 328.00,437.5 328.10,436.2 328.20,436.9 328.30,438.0 328.40,438.5 328.50,435.6 328.60,438.1 328.70,437.1 328.80,438.7 328.90,438.0 329.00,439.3 329.10,437.7 329.20,437.0 329.30,436.6 329.40,436.0 329.50,437.9 329.60,437.9 329.70,438.2 329.80,437.7 329.90,435.9 330.00,437.0 330.10,437.2 330.20,437.6 330.30,438.2 330.40,438.8 330.50,437.7 330.60,435.4 330.70,436.4 330.80,435.3 330.90,436.6 331.00,436.2 331.10,437.6 331.20,437.2 331.30,438.5 331.40,438.5 331.50,437.0 331.60,438.3 331.70,437.4 331.80,437.9 331.90,438.7 332.00,436.3 332.10,437.3 332.20,438.9 332.30,436.7 332.40,437.6 332.50,437.5 332.60,437.0 332.70,436.1 332.80,436.7 332.90,436.4 333.00,438.5 333.10,437.6 333.20,438.1 333.30,436.2 333.40,437.9 333.50,437.5 333.60,438.4 333.70,436.7 333.80,438.2 333.90,438.7 334.00,439.2 334.10,436.5 334.20,436.3 334.30,436.0 334.40,438.4 334.50,438.0 334.60,437.7 334.70,436.6 334.80,438.6 334.90,439.0 335.00,437.4 335.10,437.3 335.20,438.6 335.30,437.9 335.40,438.7 335.50,437.0 335.60,437.7 335.70,437.1 335.80,436.8 335.90,437.1 336.00,437.1 336.10,437.9 336.20,437.1 336.30,437.5 336.40,436.6 336.50,436.2 336.60,438.8 336.70,436.4 336.80,439.2 336.90,438.3 337.00,435.1 337.10,436.8 337.20,437.0 337.30,437.4 337.40,437.2 337.50,436.8 337.60,438.6 337.70,437.3 337.80,438.4 337.90,436.7 338.00,436.7 338.10,438.7 338.20,437.1 338.30,436.3 338.40,437.2 338.50,438.4 338.60,437.2 338.70,436.7 338.80,438.0 338.90,438.4 339.00,437.2 339.10,437.1 339.20,437.0 339.30,440.0 339.40,437.2 339.50,439.1 339.60,437.3 339.70,437.8 339.80,435.4 339.90,437.6 340.00,437.5 340.10,437.1 340.20,437.0 340.30,436.1 340.40,435.9 340.50,437.6 340.60,436.8 340.70,437.3 340.80,437.2 340.90,436.9 341.00,436.7 341.10,439.2 341.20,436.3 341.30,436.9 341.40,437.1 341.50,436.3 341.60,436.5 341.70,438.2 341.80,438.3 341.90,437.5 342.00,440.6 342.10,438.2 342.20,438.6 342.30,436.6 342.40,438.5 342.50,439.0 342.60,437.0 342.70,439.2 342.80,436.6 342.90,436.3 343.00,437.4 343.10,436.6 343.20,438.0 343.30,436.3 343.40,437.5 343.50,435.5 343.60,437.4 343.70,438.4 343.80,437.1 343.90,437.7 344.00,438.5 344.10,436.3 344.20,436.1 344.30,437.5 344.40,437.7 344.50,437.1 344.60,436.4 344.70,438.6 344.80,436.3 344.90,437.1 345.00,437.4 345.10,438.1 345.20,437.0 345.30,436.6 345.40,439.4 345.50,436.6 345.60,438.2 345.70,437.3 345.80,436.9 345.90,437.4 346.00,437.2 346.10,437.7 346.20,434.9 346.30,437.4 346.40,437.5 346.50,436.5 346.60,437.0 346.70,439.7 346.80,439.2 346.90,438.0 347.00,437.6 347.10,437.1 347.20,438.8 347.30,437.0 347.40,436.6 347.50,438.1 347.60,436.4 347.70,436.6 347.80,438.8 347.90,435.8 348.00,437.3 348.10,437.5 348.20,437.7 348.30,436.0 348.40,437.2 348.50,437.1 348.60,439.3 348.70,438.4 348.80,436.7 348.90,438.3 349.00,438.0 349.10,437.3 349.20,437.2 349.30,437.1 349.40,435.9 349.50,436.8 349.60,438.3 349.70,438.8 349.80,439.2 349.90,437.0 350.00,438.0 350.10,435.1 350.20,437.1 350.30,436.2 350.40,438.2 350.50,435.8 350.60,436.4 350.70,436.3 350.80,437.8 350.90,438.2 351.00,436.5 351.10,439.2 351.20,437.6 351.30,436.6 351.40,437.7 351.50,437.4 351.60,438.2 351.70,437.7 351.80,439.6 351.90,438.5 352.00,436.8 352.10,438.2 352.20,438.2 352.30,436.4 352.40,436.7 352.50,436.6 352.60,435.0 352.70,438.0 352.80,437.2 352.90,438.6 353.00,436.9 353.10,437.5 353.20,438.1 353.30,438.3 353.40,437.7 353.50,436.4 353.60,439.6 353.70,438.2 353.80,438.7 353.90,439.0 354.00,438.8 354.10,437.8 354.20,437.9 354.30,438.0 354.40,435.9 354.50,438.2 354.60,436.4 354.70,437.8 354.80,436.4 354.90,438.1 355.00,436.9 355.10,439.8 355.20,437.6 355.30,437.9 355.40,436.5 355.50,437.1 355.60,437.3 355.70,437.1 355.80,437.0 355.90,436.5 356.00,438.2 356.10,437.0 356.20,436.6 356.30,437.8 356.40,436.6 356.50,437.2 356.60,436.9 356.70,436.5 356.80,437.2 356.90,436.6 357.00,436.2 357.10,437.7 357.20,437.1 357.30,436.0 357.40,437.0 357.50,437.6 357.60,437.8 357.70,437.8 357.80,437.7 357.90,438.0 358.00,436.9 358.10,436.6 358.20,438.0 358.30,437.0 358.40,437.4 358.50,438.0 358.60,438.3 358.70,438.6 358.80,436.7 358.90,437.0 359.00,438.0 359.10,436.0 359.20,436.2 359.30,438.0 359.40,436.8 359.50,436.5 359.60,438.2 359.70,437.9 359.80,438.3 359.90,437.1 360.00,437.1 360.10,437.1 360.20,437.7 360.30,435.4 360.40,436.7 360.50,438.1 360.60,436.6 360.70,437.3 360.80,437.5 360.90,437.9 361.00,436.9 361.10,436.3 361.20,439.9 361.30,436.7 361.40,439.1 361.50,435.7 361.60,437.5 361.70,437.2 361.80,439.3 361.90,439.4 362.00,438.4 362.10,436.4 362.20,436.6 362.30,436.7 362.40,436.9 362.50,437.7 362.60,436.6 362.70,437.2 362.80,438.9 362.90,438.8 363.00,435.6 363.10,436.5 363.20,437.0 363.30,438.7 363.40,437.1 363.50,439.3 363.60,437.8 363.70,438.8 363.80,436.6 363.90,437.1 364.00,438.4 364.10,438.0 364.20,435.6 364.30,437.1 364.40,437.6" fill="none" stroke="#c85c1e" stroke-width="0.75" stroke-linejoin="round"/>
<polyline points="386.70,438.6 386.80,437.4 386.90,439.7 387.00,438.2 387.10,439.4 387.20,438.4 387.30,438.1 387.40,437.7 387.50,436.9 387.60,438.9 387.70,438.7 387.80,438.9 387.90,437.6 388.00,437.0 388.10,437.6 388.20,437.7 388.30,438.0 388.40,439.0 388.50,437.1 388.60,437.5 388.70,438.7 388.80,438.9 388.90,440.1 389.00,438.5 389.10,437.2 389.20,437.0 389.30,437.2 389.40,438.1 389.50,438.2 389.60,437.9 389.70,437.4 389.80,437.8 389.90,437.9 390.00,438.6 390.10,438.1 390.20,437.2 390.30,436.9 390.40,439.5 390.50,437.9 390.60,437.8 390.70,438.0 390.80,439.1 390.90,437.7 391.00,438.2 391.10,437.8 391.20,438.6 391.30,437.0 391.40,438.2 391.50,439.0 391.60,439.2 391.70,438.6 391.80,438.3 391.90,439.5 392.00,438.7 392.10,439.4 392.20,436.8 392.30,436.9 392.40,438.8 392.50,437.7 392.60,437.6 392.70,437.1 392.80,439.5 392.90,436.8 393.00,438.1 393.10,436.7 393.20,437.8 393.30,440.2 393.40,440.4 393.50,437.5 393.60,437.0 393.70,439.6 393.80,437.2 393.90,436.3 394.00,438.4 394.10,437.0 394.20,436.6 394.30,439.1 394.40,437.3 394.50,437.0 394.60,438.2 394.70,437.8 394.80,439.1 394.90,438.1 395.00,439.6 395.10,439.1 395.20,439.8 395.30,439.1 395.40,438.1 395.50,438.5 395.60,438.0 395.70,436.5 395.80,436.9 395.90,438.7 396.00,435.7 396.10,437.2 396.20,436.8 396.30,437.9 396.40,437.0 396.50,438.2 396.60,437.8 396.70,437.5 396.80,437.2 396.90,435.9 397.00,438.1 397.10,436.8 397.20,437.7 397.30,438.4 397.40,439.0 397.50,438.7 397.60,439.5 397.70,436.6 397.80,438.7 397.90,439.5 398.00,438.4 398.10,436.9 398.20,438.4 398.30,437.5 398.40,437.4 398.50,439.0 398.60,437.8 398.70,436.9 398.80,437.4 398.90,439.9 399.00,437.2 399.10,438.7 399.20,438.2 399.30,439.1 399.40,437.7 399.50,437.1 399.60,437.4 399.70,437.0 399.80,440.6 399.90,438.2 400.00,437.7 400.10,439.2 400.20,438.7 400.30,437.8 400.40,438.6 400.50,438.3 400.60,439.1 400.70,439.6 400.80,437.7 400.90,438.0 401.00,437.8 401.10,439.2 401.20,438.4 401.30,438.8 401.40,438.9 401.50,437.4 401.60,438.1 401.70,439.3 401.80,438.9 401.90,438.8 402.00,437.7 402.10,437.7 402.20,437.2 402.30,437.7 402.40,438.0 402.50,436.6 402.60,439.2 402.70,437.3 402.80,438.3 402.90,438.6 403.00,437.5 403.10,436.3 403.20,439.0 403.30,438.4 403.40,437.8 403.50,439.1 403.60,438.9 403.70,437.1 403.80,437.9 403.90,436.3 404.00,437.8 404.10,439.4 404.20,437.2 404.30,438.8 404.40,436.5 404.50,437.7 404.60,438.9 404.70,439.7 404.80,438.5 404.90,438.7 405.00,439.7 405.10,435.6 405.20,436.3 405.30,439.8 405.40,440.4 405.50,438.6 405.60,438.1 405.70,438.3 405.80,438.0 405.90,437.4 406.00,438.0 406.10,437.9 406.20,438.7 406.30,438.7 406.40,439.0 406.50,438.6 406.60,437.1 406.70,439.3 406.80,435.4 406.90,438.1 407.00,438.3 407.10,437.5 407.20,439.8 407.30,436.9 407.40,436.9 407.50,437.5 407.60,438.4 407.70,438.8 407.80,438.1 407.90,438.6 408.00,437.3 408.10,437.4 408.20,438.1 408.30,436.7 408.40,438.2 408.50,437.6 408.60,438.7 408.70,437.0 408.80,437.5 408.90,437.5 409.00,437.7" fill="none" stroke="#c85c1e" stroke-width="0.75" stroke-linejoin="round"/>
<polyline points="409.10,473.0 409.20,472.5 409.30,470.2 409.40,470.9 409.50,469.9 409.60,468.1 409.70,466.9 409.80,465.3 409.90,464.3 410.00,464.1 410.10,462.5 410.20,461.5 410.30,462.0 410.40,461.0 410.50,459.9 410.60,458.8 410.70,458.9 410.80,457.6 410.90,457.2 411.00,457.3 411.10,457.2 411.20,456.7 411.30,454.8 411.40,456.1 411.50,453.3 411.60,453.8 411.70,454.8 411.80,455.4 411.90,452.8 412.00,452.0 412.10,451.6 412.20,450.4 412.30,451.1 412.40,450.5 412.50,449.8 412.60,451.4 412.70,449.2 412.80,451.3 412.90,450.2 413.00,449.7 413.10,448.3 413.20,448.1 413.30,446.4 413.40,448.4 413.50,447.6 413.60,448.1 413.70,446.8 413.80,447.8 413.90,445.6 414.00,444.8 414.10,447.2 414.20,447.6 414.30,443.3 414.40,447.5 414.50,445.7 414.60,445.8 414.70,444.3 414.80,444.7 414.90,446.2 415.00,444.7 415.10,445.2 415.20,445.0 415.30,446.9 415.40,445.7 415.50,443.5 415.60,444.2 415.70,443.4 415.80,443.1 415.90,443.7 416.00,445.3 416.10,444.2 416.20,444.7 416.30,443.8 416.40,443.5 416.50,443.9 416.60,443.7 416.70,445.5 416.80,445.3 416.90,443.8 417.00,444.0 417.10,441.4 417.20,443.2 417.30,445.5 417.40,442.4 417.50,443.9 417.60,444.2 417.70,442.6 417.80,442.7 417.90,442.4 418.00,443.5 418.10,442.7 418.20,444.1 418.30,443.7 418.40,442.5 418.50,445.0 418.60,442.2 418.70,441.8 418.80,442.1 418.90,441.4 419.00,441.9 419.10,442.1 419.20,443.0 419.30,440.6 419.40,440.7 419.50,441.3 419.60,441.7 419.70,442.4 419.80,441.2 419.90,443.3 420.00,441.3 420.10,441.6 420.20,441.8 420.30,442.8 420.40,442.0 420.50,441.7 420.60,441.1 420.70,441.7 420.80,441.9 420.90,441.2 421.00,441.5 421.10,439.6 421.20,440.9 421.30,442.5 421.40,442.7 421.50,441.2 421.60,439.2 421.70,443.0 421.80,441.1 421.90,443.7 422.00,440.8 422.10,442.1 422.20,440.5 422.30,442.4 422.40,442.2 422.50,440.0 422.60,442.2 422.70,443.7 422.80,440.7 422.90,439.7 423.00,441.2 423.10,440.5 423.20,439.4 423.30,439.8 423.40,441.0 423.50,439.3 423.60,441.8 423.70,441.1 423.80,440.5 423.90,442.0 424.00,439.8 424.10,441.3 424.20,439.3 424.30,440.2 424.40,441.2 424.50,440.0 424.60,440.4 424.70,441.1 424.80,441.9 424.90,441.7 425.00,440.9 425.10,440.1 425.20,439.0 425.30,442.0 425.40,442.1 425.50,438.2 425.60,441.1 425.70,440.2 425.80,440.9 425.90,440.5 426.00,440.0 426.10,440.2 426.20,440.2 426.30,441.3 426.40,439.9 426.50,439.6 426.60,440.7 426.70,440.7 426.80,440.5 426.90,440.3 427.00,441.5 427.10,441.1 427.20,440.2 427.30,439.8 427.40,440.6 427.50,438.1 427.60,439.4 427.70,439.2 427.80,440.1 427.90,439.5 428.00,442.3 428.10,440.6 428.20,440.2 428.30,442.0 428.40,439.8 428.50,439.5 428.60,441.0 428.70,440.6 428.80,440.6 428.90,440.9 429.00,439.4 429.10,439.1 429.20,439.0 429.30,439.8 429.40,440.6 429.50,438.6 429.60,439.1 429.70,438.3 429.80,441.5 429.90,440.4 430.00,439.8 430.10,438.4 430.20,438.6 430.30,438.9 430.40,439.6 430.50,438.3 430.60,439.3 430.70,440.7 430.80,439.5 430.90,439.6 431.00,437.4 431.10,439.2 431.20,439.3 431.30,438.7 431.40,438.1 431.50,439.3 431.60,438.4 431.70,438.8 431.80,437.8 431.90,439.3 432.00,440.2 432.10,438.5 432.20,439.6 432.30,437.8 432.40,439.9 432.50,439.8 432.60,438.9 432.70,440.1 432.80,438.4 432.90,439.3 433.00,440.9 433.10,439.2 433.20,438.1 433.30,440.3 433.40,439.7 433.50,438.9 433.60,437.4 433.70,437.3 433.80,437.7 433.90,440.6 434.00,439.4 434.10,438.3 434.20,440.2 434.30,440.5 434.40,438.3 434.50,439.6 434.60,437.5 434.70,439.4 434.80,440.8 434.90,437.7 435.00,439.1 435.10,438.4 435.20,438.9 435.30,439.1 435.40,439.3 435.50,439.9 435.60,439.5 435.70,440.0 435.80,440.0 435.90,440.0 436.00,438.3 436.10,439.3 436.20,438.6 436.30,438.1 436.40,440.8 436.50,439.2 436.60,439.0 436.70,436.9 436.80,438.7 436.90,439.6 437.00,438.7 437.10,438.3 437.20,440.3 437.30,438.6 437.40,438.5 437.50,438.7 437.60,438.6 437.70,439.9 437.80,439.4 437.90,438.7 438.00,438.5" fill="none" stroke="#c85c1e" stroke-width="0.75" stroke-linejoin="round"/>
<line x1="409.00" y1="437.7" x2="409.10" y2="473.0" stroke="#c85c1e" stroke-width="0.7" opacity="0.7"/>
<polyline points="453.70,439.8 453.80,441.6 453.90,439.7 454.00,440.6 454.10,438.5 454.20,440.3 454.30,440.7 454.40,441.2 454.50,440.3 454.60,440.6 454.70,440.3 454.80,441.0 454.90,442.0 455.00,440.2 455.10,439.2 455.20,440.6 455.30,439.9 455.40,440.6 455.50,440.8 455.60,440.2 455.70,439.6 455.80,440.3 455.90,438.8 456.00,440.3 456.10,439.1 456.20,440.4 456.30,440.1 456.40,439.8 456.50,438.8 456.60,440.1 456.70,439.3 456.80,439.9 456.90,440.7 457.00,440.9 457.10,438.7 457.20,440.9 457.30,441.3 457.40,441.1 457.50,440.3 457.60,439.9 457.70,441.7 457.80,439.7 457.90,438.5 458.00,440.1 458.10,440.3 458.20,439.0 458.30,438.8 458.40,441.9 458.50,440.1 458.60,440.8 458.70,439.4 458.80,438.6 458.90,439.8 459.00,441.3 459.10,439.3 459.20,438.3 459.30,439.8 459.40,439.7 459.50,440.0 459.60,439.0 459.70,439.7 459.80,439.5 459.90,440.9 460.00,440.2 460.10,440.9 460.20,440.0 460.30,437.9 460.40,438.1 460.50,440.5 460.60,440.8 460.70,440.9 460.80,439.9 460.90,438.3 461.00,439.5 461.10,440.4 461.20,441.3 461.30,439.7 461.40,439.5 461.50,439.2 461.60,441.0 461.70,440.8 461.80,438.3 461.90,441.2 462.00,439.1 462.10,438.6 462.20,438.5 462.30,439.3 462.40,442.2 462.50,442.5 462.60,438.8 462.70,439.3 462.80,440.2 462.90,440.4 463.00,439.6 463.10,438.5 463.20,439.6 463.30,439.3 463.40,438.3 463.50,440.1 463.60,438.6 463.70,438.3 463.80,441.5 463.90,440.9 464.00,441.4 464.10,440.1 464.20,439.6 464.30,439.9 464.40,438.7 464.50,440.7 464.60,440.3 464.70,439.7 464.80,438.2 464.90,439.9 465.00,441.6 465.10,441.4 465.20,440.8 465.30,439.7 465.40,440.1 465.50,440.5 465.60,440.2 465.70,441.0 465.80,439.4 465.90,437.7 466.00,437.7 466.10,439.1 466.20,438.7 466.30,440.6 466.40,441.0 466.50,440.0 466.60,440.5 466.70,440.1 466.80,440.2 466.90,439.5 467.00,439.6 467.10,441.2 467.20,439.8 467.30,440.0 467.40,441.2 467.50,441.0 467.60,439.6 467.70,440.2 467.80,439.0 467.90,440.1 468.00,440.3 468.10,440.0 468.20,440.2 468.30,440.4 468.40,437.6 468.50,439.2 468.60,440.1 468.70,439.5 468.80,439.1 468.90,439.8 469.00,441.6 469.10,439.8 469.20,439.4 469.30,439.5 469.40,438.9 469.50,440.5 469.60,439.1 469.70,440.9 469.80,440.9 469.90,440.6 470.00,441.0 470.10,439.9 470.20,438.3 470.30,439.9 470.40,440.6 470.50,438.5 470.60,438.8 470.70,441.1 470.80,440.4 470.90,441.3 471.00,440.7 471.10,440.1 471.20,440.4 471.30,440.8 471.40,440.0 471.50,439.8 471.60,440.3 471.70,439.7 471.80,442.3 471.90,439.3 472.00,438.6 472.10,438.7 472.20,441.0 472.30,439.6 472.40,440.2 472.50,439.8 472.60,440.3 472.70,438.6 472.80,440.1 472.90,439.4 473.00,441.1 473.10,440.6 473.20,438.8 473.30,439.1 473.40,440.6 473.50,441.2 473.60,440.7 473.70,439.9 473.80,441.1 473.90,437.7 474.00,439.5 474.10,439.0 474.20,439.0 474.30,440.6 474.40,440.3 474.50,440.3 474.60,439.9 474.70,440.6 474.80,440.8 474.90,439.4 475.00,440.9 475.10,439.1 475.20,441.7 475.30,438.7 475.40,439.7 475.50,438.9 475.60,440.1 475.70,441.3 475.80,439.3 475.90,441.7 476.00,441.4 476.10,440.4 476.20,439.4 476.30,440.9 476.40,437.3 476.50,439.3 476.60,440.9 476.70,440.0 476.80,442.4 476.90,439.3 477.00,438.7 477.10,439.8 477.20,440.6 477.30,441.7 477.40,438.3 477.50,440.2 477.60,441.2 477.70,439.3 477.80,439.6 477.90,438.8 478.00,440.8 478.10,440.8 478.20,440.6 478.30,440.2 478.40,441.0 478.50,439.9 478.60,440.7 478.70,440.8 478.80,441.3 478.90,440.5 479.00,440.1 479.10,440.7 479.20,438.5 479.30,438.3 479.40,441.6 479.50,440.1 479.60,439.0 479.70,439.4 479.80,439.9 479.90,440.1 480.00,439.3 480.10,441.0 480.20,438.4 480.30,442.8 480.40,439.0 480.50,441.6 480.60,440.7 480.70,438.3 480.80,438.8 480.90,440.1 481.00,440.3 481.10,439.6 481.20,440.0 481.30,440.2 481.40,438.9 481.50,440.1 481.60,442.2 481.70,439.4 481.80,439.0 481.90,440.7 482.00,441.3 482.10,441.0 482.20,439.4 482.30,439.9 482.40,440.2 482.50,439.8 482.60,440.4 482.70,441.1 482.80,440.5 482.90,440.0 483.00,439.8 483.10,441.8 483.20,438.8 483.30,442.0 483.40,440.7 483.50,440.1 483.60,439.3 483.70,441.8 483.80,441.2 483.90,440.9 484.00,442.0 484.10,438.2 484.20,440.1 484.30,439.7 484.40,439.3 484.50,440.1 484.60,440.5 484.70,440.5 484.80,439.9 484.90,438.7 485.00,440.6 485.10,440.6 485.20,442.1 485.30,440.9 485.40,440.0 485.50,438.9 485.60,442.7 485.70,439.3 485.80,440.2 485.90,440.7 486.00,440.5 486.10,441.3 486.20,439.0 486.30,439.3 486.40,440.2 486.50,438.8 486.60,439.4 486.70,441.4 486.80,440.3 486.90,439.9 487.00,439.5 487.10,440.0 487.20,440.0 487.30,438.9 487.40,440.8 487.50,438.7 487.60,441.3 487.70,439.7 487.80,437.8 487.90,438.5 488.00,440.3 488.10,439.1 488.20,441.8 488.30,441.4 488.40,442.1 488.50,440.9 488.60,441.3 488.70,439.4 488.80,441.3 488.90,439.6 489.00,440.0 489.10,438.7 489.20,440.1 489.30,440.4 489.40,440.0 489.50,438.9 489.60,440.9 489.70,440.9 489.80,439.9 489.90,440.8 490.00,441.0 490.10,439.0 490.20,440.0 490.30,438.2 490.40,439.0 490.50,440.4 490.60,439.1 490.70,440.4 490.80,440.4 490.90,438.0 491.00,439.5 491.10,441.5 491.20,440.0 491.30,440.1 491.40,439.3 491.50,438.4 491.60,438.4 491.70,442.9 491.80,439.8 491.90,439.1 492.00,440.1 492.10,438.1 492.20,441.4 492.30,441.7 492.40,439.3 492.50,440.3 492.60,439.1 492.70,440.9 492.80,439.2 492.90,439.9 493.00,441.3 493.10,440.5 493.20,439.7 493.30,438.5 493.40,438.4 493.50,441.2 493.60,440.5 493.70,440.1 493.80,441.3 493.90,440.1 494.00,439.3 494.10,439.9 494.20,439.9 494.30,440.0 494.40,442.5 494.50,440.6 494.60,440.3 494.70,439.8 494.80,439.3 494.90,439.0 495.00,438.1 495.10,439.5 495.20,438.5 495.30,438.2 495.40,439.1 495.50,438.0 495.60,441.4 495.70,441.2 495.80,439.0 495.90,442.0 496.00,440.7 496.10,437.5 496.20,440.0 496.30,439.0 496.40,438.3 496.50,439.7 496.60,441.2 496.70,440.4 496.80,438.6 496.90,439.3 497.00,439.3 497.10,441.1 497.20,439.9 497.30,439.0 497.40,439.1 497.50,438.0 497.60,439.2 497.70,440.9 497.80,438.1 497.90,440.2 498.00,439.9 498.10,440.8 498.20,438.9 498.30,440.9 498.40,441.6 498.50,442.3 498.60,438.4 498.70,440.0 498.80,439.8 498.90,440.1 499.00,439.0 499.10,440.9 499.20,442.4 499.30,441.5 499.40,439.1 499.50,439.4 499.60,440.7 499.70,440.1 499.80,439.2 499.90,441.2 500.00,440.5 500.10,441.0 500.20,439.8 500.30,441.3 500.40,439.5 500.50,438.9 500.60,440.0 500.70,438.6 500.80,441.3 500.90,440.7 501.00,438.3 501.10,440.2 501.20,440.9 501.30,439.6 501.40,440.4 501.50,439.4 501.60,439.9 501.70,439.9 501.80,440.5 501.90,439.0 502.00,438.9 502.10,440.3 502.20,439.5 502.30,440.5 502.40,439.5 502.50,438.7 502.60,440.7 502.70,440.3 502.80,440.7 502.90,439.7 503.00,439.6 503.10,441.3 503.20,438.3 503.30,441.7 503.40,440.5 503.50,439.9 503.60,440.1 503.70,440.6 503.80,439.2 503.90,440.3 504.00,439.0 504.10,438.1 504.20,440.2 504.30,440.1 504.40,440.7 504.50,440.6 504.60,440.7 504.70,440.8 504.80,438.9" fill="none" stroke="#c85c1e" stroke-width="0.75" stroke-linejoin="round"/>
<rect x="255.8" y="421.7" width="3.7" height="11.1" fill="#4fb9ec" />
<rect x="322.55" y="421.8" width="3.7" height="11" fill="#4fb9ec" />
<rect x="401.6" y="421.8" width="3.7" height="11" fill="#4fb9ec" />
<rect x="465.2" y="424.3" width="3.7" height="10.7" fill="#4fb9ec" />
<path d="M512.6,454.1 H523.9 V446" fill="none" stroke="#231f20" stroke-width="1.3"/>
<text transform="translate(494.69,464.1)" font-size="10.1" text-anchor="start" fill="#231f20">100 ms</text>
<text transform="translate(540,446.5) rotate(-90)" font-size="10.1" text-anchor="middle" fill="#231f20">50 pA</text>
<text transform="translate(255.08,609.5) scale(1.025,1)" font-size="12.3" text-anchor="start" fill="#231f20">ACSF</text>
<text transform="translate(318.69,609.5) scale(1.025,1)" font-size="12.3" text-anchor="start" fill="#231f20">TTX</text>
<text transform="translate(374.09,609.5) scale(1.025,1)" font-size="12.3" text-anchor="start" fill="#231f20">TTX+4-AP</text>
<text transform="translate(447.49,601.8) scale(1.025,1)" font-size="12.3" text-anchor="start" fill="#231f20">TTX+4-AP</text>
<text transform="translate(460.63,617.5) scale(1.025,1)" font-size="12.3" text-anchor="start" fill="#231f20">+PTX</text>
<text transform="translate(231.1,641.2) rotate(-90) scale(1.025,1)" font-size="12.3" text-anchor="middle" fill="#4e8f2c">oIPSCs</text>
<polyline points="234.60,664.2 234.70,665.7 234.80,662.4 234.90,661.7 235.00,663.7 235.10,663.9 235.20,664.0 235.30,664.5 235.40,661.6 235.50,663.4 235.60,663.5 235.70,664.3 235.80,662.1 235.90,663.0 236.00,662.6 236.10,662.8 236.20,662.9 236.30,662.9 236.40,661.2 236.50,663.0 236.60,663.1 236.70,662.6 236.80,659.4 236.90,662.3 237.00,662.3 237.10,662.1 237.20,664.6 237.30,663.9 237.40,662.8 237.50,663.6 237.60,666.3 237.70,662.0 237.80,663.5 237.90,662.4 238.00,664.5 238.10,664.1 238.20,662.9 238.30,663.6 238.40,662.2 238.50,661.4 238.60,663.8 238.70,664.6 238.80,662.7 238.90,662.5 239.00,661.2 239.10,665.2 239.20,661.8 239.30,662.0 239.40,662.8 239.50,664.2 239.60,663.1 239.70,663.0 239.80,663.0 239.90,663.9 240.00,663.0 240.10,663.2 240.20,662.9 240.30,661.9 240.40,664.3 240.50,662.3 240.60,661.7 240.70,662.6 240.80,663.0 240.90,663.8 241.00,661.5 241.10,661.7 241.20,663.2 241.30,663.4 241.40,661.9 241.50,661.9 241.60,663.2 241.70,662.9 241.80,661.4 241.90,662.1 242.00,664.5 242.10,661.9 242.20,664.1 242.30,661.5 242.40,664.5 242.50,664.6 242.60,662.4 242.70,662.3 242.80,663.6 242.90,661.8 243.00,663.6 243.10,664.2 243.20,663.3 243.30,663.3 243.40,662.8 243.50,664.0 243.60,662.2 243.70,664.6 243.80,663.0 243.90,662.7 244.00,661.4 244.10,662.6 244.20,663.2 244.30,664.3 244.40,661.4 244.50,662.9 244.60,662.3 244.70,661.8 244.80,663.0 244.90,662.2 245.00,663.9 245.10,660.3 245.20,663.7 245.30,661.1 245.40,661.0 245.50,663.5 245.60,662.7 245.70,663.1 245.80,662.0 245.90,661.9 246.00,662.3 246.10,662.9 246.20,662.2 246.30,662.6 246.40,662.1 246.50,663.2 246.60,661.9 246.70,660.9 246.80,660.4 246.90,663.0 247.00,663.1 247.10,664.0 247.20,662.3 247.30,661.9 247.40,661.5 247.50,663.8 247.60,662.4 247.70,664.0 247.80,662.9 247.90,662.7 248.00,661.1 248.10,662.3 248.20,663.8 248.30,662.4 248.40,663.7 248.50,661.3 248.60,664.0 248.70,665.8 248.80,664.1 248.90,663.3 249.00,661.8 249.10,662.5 249.20,662.3 249.30,663.2 249.40,661.0 249.50,662.1 249.60,663.8 249.70,663.1 249.80,663.7 249.90,663.9 250.00,661.9 250.10,661.6 250.20,663.5 250.30,663.0 250.40,663.1 250.50,662.2 250.60,664.0 250.70,663.5 250.80,664.1 250.90,662.6 251.00,663.7 251.10,662.9 251.20,662.1 251.30,662.9 251.40,661.3 251.50,662.8 251.60,663.2 251.70,663.7 251.80,661.9 251.90,661.7 252.00,662.3 252.10,660.9 252.20,662.3 252.30,665.6 252.40,663.1 252.50,662.2 252.60,662.3 252.70,664.8 252.80,661.8 252.90,662.9 253.00,662.9 253.10,662.3 253.20,662.3 253.30,661.3 253.40,662.2 253.50,664.3 253.60,664.4 253.70,662.7 253.80,663.7 253.90,663.5 254.00,663.1 254.10,662.9 254.20,664.2 254.30,663.6 254.40,662.8 254.50,662.8 254.60,663.9 254.70,662.4 254.80,662.3 254.90,662.7 255.00,662.5 255.10,664.3 255.20,663.4 255.30,662.9" fill="none" stroke="#4e8f2c" stroke-width="0.7" stroke-linejoin="round"/>
<polyline points="255.40,612.2 255.50,616.2 255.60,617.1 255.70,620.6 255.80,621.1 255.90,621.5 256.00,622.6 256.10,624.2 256.20,625.9 256.30,627.7 256.40,628.5 256.50,630.6 256.60,628.5 256.70,630.9 256.80,630.3 256.90,631.5 257.00,632.7 257.10,633.3 257.20,633.7 257.30,633.7 257.40,637.0 257.50,636.1 257.60,637.9 257.70,636.3 257.80,635.6 257.90,637.8 258.00,639.7 258.10,638.7 258.20,640.0 258.30,638.9 258.40,641.7 258.50,641.1 258.60,642.1 258.70,641.1 258.80,642.9 258.90,642.0 259.00,641.7 259.10,641.9 259.20,642.8 259.30,642.1 259.40,642.1 259.50,643.7 259.60,644.5 259.70,643.7 259.80,645.1 259.90,646.0 260.00,643.4 260.10,645.1 260.20,644.1 260.30,644.6 260.40,645.6 260.50,643.3 260.60,646.5 260.70,646.9 260.80,646.8 260.90,647.0 261.00,648.4 261.10,646.4 261.20,648.0 261.30,648.5 261.40,647.7 261.50,645.6 261.60,647.4 261.70,647.4 261.80,646.2 261.90,647.9 262.00,648.9 262.10,648.0 262.20,648.3 262.30,650.1 262.40,648.1 262.50,647.9 262.60,649.0 262.70,650.3 262.80,649.9 262.90,649.5 263.00,649.1 263.10,650.9 263.20,650.7 263.30,648.2 263.40,650.4 263.50,647.8 263.60,651.8 263.70,651.0 263.80,649.9 263.90,649.4 264.00,650.5 264.10,649.1 264.20,651.6 264.30,650.6 264.40,649.5 264.50,651.3 264.60,652.7 264.70,650.3 264.80,651.3 264.90,653.6 265.00,652.1 265.10,651.5 265.20,652.3 265.30,653.0 265.40,651.3 265.50,652.3 265.60,650.9 265.70,651.0 265.80,651.2 265.90,653.7 266.00,653.2 266.10,653.7 266.20,654.3 266.30,653.2 266.40,653.5 266.50,653.8 266.60,653.9 266.70,652.5 266.80,653.4 266.90,653.6 267.00,653.9 267.10,653.2 267.20,653.9 267.30,654.4 267.40,654.4 267.50,654.9 267.60,655.2 267.70,655.0 267.80,655.5 267.90,655.4 268.00,656.1 268.10,655.4 268.20,654.2 268.30,657.2 268.40,656.1 268.50,656.3 268.60,655.9 268.70,655.3 268.80,654.1 268.90,655.8 269.00,655.1 269.10,655.1 269.20,653.4 269.30,657.2 269.40,654.5 269.50,654.7 269.60,656.3 269.70,656.5 269.80,655.2 269.90,656.0 270.00,656.4 270.10,656.3 270.20,656.8 270.30,657.1 270.40,656.0 270.50,654.8 270.60,658.7 270.70,656.2 270.80,655.6 270.90,657.4 271.00,657.3 271.10,656.2 271.20,659.2 271.30,654.6 271.40,658.3 271.50,657.0 271.60,657.4 271.70,657.5 271.80,657.0 271.90,657.6 272.00,656.0 272.10,657.0 272.20,659.3 272.30,654.9 272.40,658.8 272.50,655.3 272.60,656.8 272.70,658.6 272.80,657.3 272.90,657.2 273.00,656.3 273.10,657.8 273.20,657.7 273.30,657.3 273.40,656.5 273.50,658.2 273.60,658.5 273.70,659.3 273.80,658.7 273.90,659.8 274.00,659.5 274.10,655.5 274.20,660.1 274.30,658.3 274.40,657.4 274.50,658.9 274.60,659.5 274.70,657.0 274.80,657.4 274.90,659.4 275.00,658.2 275.10,660.2 275.20,659.0 275.30,658.3 275.40,657.5 275.50,659.5 275.60,657.2 275.70,657.7 275.80,657.7 275.90,660.8 276.00,660.8 276.10,658.9 276.20,658.8 276.30,659.9 276.40,660.5 276.50,658.5 276.60,661.5 276.70,659.2 276.80,660.5 276.90,657.1 277.00,659.4 277.10,658.8 277.20,661.5 277.30,659.3 277.40,658.3 277.50,661.6 277.60,659.0 277.70,659.7 277.80,658.5 277.90,660.4 278.00,660.0 278.10,659.5 278.20,659.4 278.30,659.3 278.40,659.2 278.50,658.5 278.60,661.2 278.70,660.9 278.80,658.6 278.90,658.9 279.00,660.5 279.10,662.4 279.20,659.9 279.30,659.8 279.40,659.9 279.50,660.5 279.60,660.1 279.70,661.4 279.80,661.3 279.90,660.9 280.00,661.9 280.10,660.1 280.20,659.8 280.30,663.4 280.40,658.5 280.50,658.9 280.60,658.1 280.70,660.9 280.80,659.5 280.90,661.6 281.00,658.5 281.10,660.5 281.20,660.2 281.30,659.6 281.40,661.8 281.50,660.3 281.60,661.2 281.70,660.2 281.80,660.9 281.90,660.3 282.00,660.9 282.10,660.7 282.20,660.2 282.30,661.3 282.40,660.7 282.50,659.9 282.60,659.9 282.70,661.4 282.80,662.3 282.90,659.7 283.00,660.6 283.10,661.5 283.20,662.1 283.30,661.8 283.40,659.9 283.50,661.1 283.60,662.0 283.70,661.4 283.80,660.9 283.90,660.0 284.00,661.3 284.10,661.1 284.20,661.2 284.30,662.7 284.40,662.4 284.50,660.5 284.60,661.5 284.70,661.0 284.80,661.4 284.90,663.0 285.00,662.3 285.10,661.4 285.20,660.7 285.30,661.2 285.40,661.8 285.50,660.9 285.60,662.5 285.70,661.5 285.80,660.3 285.90,663.5 286.00,658.6 286.10,661.2 286.20,661.4 286.30,662.5 286.40,662.7 286.50,663.0 286.60,663.1 286.70,661.9 286.80,661.7 286.90,662.6 287.00,661.6 287.10,660.4 287.20,661.2 287.30,662.3 287.40,662.3 287.50,660.6 287.60,662.9 287.70,662.0 287.80,660.2 287.90,662.2 288.00,662.8 288.10,662.3 288.20,661.5 288.30,661.0 288.40,662.9 288.50,662.0 288.60,661.8 288.70,661.4 288.80,660.8 288.90,660.0 289.00,661.5 289.10,663.0 289.20,662.7 289.30,661.2 289.40,663.4 289.50,661.7 289.60,660.9 289.70,662.9 289.80,663.3 289.90,661.6 290.00,660.7 290.10,661.9 290.20,659.6 290.30,662.1 290.40,663.5 290.50,662.3 290.60,661.3 290.70,662.8 290.80,661.6 290.90,663.3 291.00,661.7 291.10,664.1 291.20,661.7 291.30,662.3 291.40,661.2 291.50,660.8 291.60,662.5 291.70,662.5 291.80,661.2 291.90,662.7 292.00,661.7 292.10,661.6 292.20,662.1 292.30,662.6 292.40,662.9 292.50,663.4 292.60,662.6 292.70,661.5 292.80,661.5 292.90,662.6 293.00,661.0 293.10,662.1 293.20,661.9 293.30,662.2 293.40,662.4 293.50,663.3 293.60,663.9 293.70,663.2 293.80,663.3 293.90,661.2 294.00,663.3 294.10,663.6 294.20,661.0 294.30,664.9 294.40,661.8 294.50,659.9 294.60,664.1 294.70,662.4 294.80,661.5 294.90,661.8 295.00,663.4" fill="none" stroke="#4e8f2c" stroke-width="0.7" stroke-linejoin="round"/>
<line x1="255.30" y1="662.9" x2="255.40" y2="612.2" stroke="#4e8f2c" stroke-width="0.7" opacity="0.7"/>
<polyline points="311.20,663.5 311.30,662.8 311.40,664.4 311.50,662.3 311.60,662.3 311.70,662.6 311.80,662.4 311.90,663.9 312.00,663.0 312.10,662.1 312.20,662.7 312.30,661.2 312.40,663.4 312.50,663.3 312.60,663.8 312.70,663.0 312.80,663.6 312.90,662.3 313.00,663.2 313.10,663.4 313.20,662.0 313.30,663.8 313.40,663.3 313.50,663.3 313.60,662.7 313.70,665.2 313.80,663.2 313.90,662.4 314.00,662.3 314.10,663.8 314.20,663.0 314.30,662.4 314.40,662.5 314.50,664.1 314.60,663.3 314.70,664.3 314.80,663.2 314.90,662.0 315.00,664.1 315.10,663.5 315.20,662.5 315.30,662.9 315.40,662.2 315.50,664.0 315.60,662.8 315.70,663.7 315.80,663.5 315.90,662.9 316.00,663.6 316.10,663.0 316.20,662.0 316.30,662.8 316.40,662.0 316.50,664.0 316.60,663.9 316.70,662.6 316.80,663.8 316.90,663.4 317.00,664.2 317.10,662.3 317.20,663.2 317.30,662.2 317.40,662.5 317.50,664.6 317.60,661.2 317.70,662.3 317.80,663.7 317.90,664.0 318.00,662.4 318.10,661.2 318.20,661.5 318.30,663.6 318.40,664.3 318.50,664.1 318.60,662.5 318.70,664.6 318.80,663.0 318.90,663.8 319.00,663.0 319.10,664.8 319.20,662.7 319.30,661.1 319.40,662.9 319.50,663.4 319.60,663.5 319.70,662.5 319.80,663.0 319.90,662.1 320.00,663.0 320.10,663.3 320.20,663.4 320.30,664.8 320.40,661.2 320.50,663.7 320.60,663.6 320.70,662.0 320.80,663.3 320.90,663.2 321.00,662.2 321.10,663.9 321.20,665.1 321.30,663.9 321.40,664.0 321.50,664.3 321.60,663.1 321.70,664.2 321.80,662.4 321.90,663.4 322.00,663.9 322.10,664.5 322.20,662.9 322.30,662.9 322.40,663.7 322.50,663.1 322.60,663.3 322.70,664.0 322.80,662.4 322.90,664.1 323.00,663.6 323.10,662.9 323.20,662.0 323.30,662.6 323.40,663.2 323.50,664.1 323.60,661.2 323.70,663.9 323.80,663.4 323.90,662.1 324.00,664.1 324.10,663.6 324.20,663.6 324.30,662.2 324.40,662.1 324.50,664.1 324.60,664.6 324.70,663.6 324.80,663.0 324.90,662.8 325.00,661.5 325.10,664.2 325.20,663.1 325.30,664.4 325.40,662.5 325.50,664.2 325.60,662.5 325.70,663.8 325.80,664.6 325.90,662.5 326.00,664.1 326.10,663.2 326.20,662.3 326.30,663.4 326.40,663.8 326.50,662.5 326.60,662.9 326.70,662.6 326.80,662.4 326.90,663.0 327.00,664.0 327.10,662.7 327.20,664.4 327.30,662.8 327.40,662.5 327.50,664.3 327.60,664.6 327.70,662.6 327.80,663.8 327.90,662.0 328.00,662.8 328.10,662.8 328.20,663.9 328.30,662.0 328.40,662.7 328.50,662.5 328.60,663.3 328.70,662.0 328.80,661.9 328.90,666.0 329.00,663.4 329.10,661.7 329.20,664.0 329.30,661.9 329.40,661.3 329.50,664.9 329.60,664.4 329.70,662.4 329.80,662.1 329.90,663.7 330.00,665.2 330.10,663.8 330.20,663.9 330.30,662.0 330.40,661.4 330.50,663.6 330.60,664.2 330.70,663.3 330.80,663.2 330.90,664.6 331.00,662.4 331.10,664.3 331.20,664.0 331.30,662.6 331.40,663.3 331.50,663.3 331.60,663.8 331.70,662.2 331.80,663.0 331.90,663.3 332.00,663.2 332.10,663.2 332.20,663.4 332.30,663.0 332.40,662.7 332.50,664.2 332.60,662.6 332.70,662.9 332.80,662.3 332.90,662.1 333.00,663.6 333.10,663.2 333.20,663.1 333.30,663.6 333.40,663.0 333.50,663.9 333.60,665.0 333.70,663.5 333.80,662.9 333.90,664.8 334.00,663.9 334.10,661.6 334.20,664.5 334.30,663.4 334.40,664.0 334.50,662.1 334.60,662.4 334.70,662.6 334.80,663.7 334.90,662.1 335.00,662.5 335.10,664.1 335.20,662.6 335.30,663.3 335.40,662.3 335.50,661.5 335.60,663.1 335.70,663.1 335.80,661.8 335.90,664.2 336.00,664.0 336.10,664.1 336.20,662.7 336.30,662.1 336.40,663.1 336.50,663.4 336.60,663.0 336.70,662.6 336.80,662.2 336.90,662.5 337.00,663.1 337.10,662.7 337.20,664.8 337.30,662.9 337.40,663.6 337.50,662.7 337.60,663.0 337.70,662.2 337.80,662.7 337.90,661.7 338.00,661.2 338.10,664.5 338.20,662.2 338.30,663.6 338.40,663.1 338.50,662.6 338.60,663.9 338.70,662.7 338.80,663.6 338.90,662.8 339.00,664.2 339.10,664.1 339.20,663.3 339.30,664.3 339.40,663.7 339.50,664.7 339.60,663.1 339.70,661.7 339.80,663.4 339.90,663.4 340.00,662.8 340.10,663.0 340.20,662.9 340.30,662.0 340.40,664.9 340.50,662.4 340.60,662.1 340.70,661.6 340.80,662.4 340.90,663.2 341.00,664.6 341.10,663.8 341.20,662.5 341.30,662.0 341.40,662.1 341.50,663.1 341.60,664.0 341.70,662.7 341.80,664.8 341.90,665.1 342.00,663.4 342.10,661.1 342.20,664.3 342.30,663.1 342.40,663.9 342.50,664.2 342.60,662.2 342.70,663.3 342.80,663.4 342.90,662.5 343.00,663.9 343.10,663.1 343.20,662.8 343.30,665.0 343.40,663.4 343.50,664.8 343.60,663.0 343.70,664.2 343.80,662.5 343.90,663.3 344.00,664.3 344.10,661.1 344.20,663.7 344.30,662.9 344.40,664.3 344.50,663.4 344.60,663.1 344.70,661.9 344.80,666.1 344.90,662.5 345.00,662.9 345.10,662.5 345.20,662.9 345.30,663.4 345.40,661.9 345.50,664.2 345.60,662.9 345.70,663.8 345.80,661.1 345.90,662.7 346.00,662.9 346.10,662.8 346.20,662.5 346.30,663.5 346.40,663.6 346.50,662.2 346.60,661.3 346.70,663.9 346.80,662.9 346.90,664.2 347.00,664.0 347.10,663.1 347.20,661.8 347.30,662.8 347.40,662.5 347.50,664.4 347.60,661.5 347.70,664.1 347.80,661.7 347.90,662.6 348.00,661.8 348.10,662.5 348.20,662.8 348.30,663.6 348.40,662.6 348.50,663.9 348.60,664.9 348.70,663.4 348.80,662.1 348.90,663.0 349.00,663.1 349.10,662.8 349.20,664.3 349.30,664.3 349.40,665.2 349.50,663.7 349.60,660.6 349.70,663.1 349.80,663.8 349.90,662.4 350.00,662.6 350.10,664.1 350.20,663.3 350.30,662.1 350.40,662.6 350.50,660.2 350.60,663.2 350.70,662.0 350.80,663.1 350.90,662.0 351.00,662.3 351.10,662.7 351.20,665.9 351.30,662.0 351.40,662.0 351.50,662.7 351.60,664.2 351.70,664.0 351.80,663.9 351.90,662.9 352.00,663.3 352.10,662.4 352.20,663.0 352.30,662.4 352.40,661.8 352.50,662.2 352.60,665.1 352.70,663.6 352.80,662.5 352.90,663.1 353.00,662.8 353.10,664.4 353.20,663.2 353.30,662.6 353.40,663.9 353.50,663.5 353.60,662.5 353.70,662.4 353.80,663.3 353.90,661.6 354.00,662.3 354.10,664.2 354.20,664.0 354.30,664.3 354.40,662.8 354.50,662.6 354.60,662.9 354.70,662.7 354.80,664.4 354.90,663.0 355.00,664.5 355.10,662.5 355.20,663.6 355.30,664.8 355.40,662.5 355.50,662.6 355.60,662.6 355.70,661.6 355.80,662.9 355.90,662.6 356.00,665.3 356.10,662.7 356.20,661.1 356.30,664.1 356.40,664.1 356.50,663.2 356.60,663.5 356.70,663.9 356.80,662.6 356.90,663.2 357.00,663.3 357.10,664.8 357.20,664.6 357.30,663.4 357.40,661.9 357.50,664.1 357.60,663.1 357.70,664.3 357.80,663.2 357.90,663.4 358.00,663.8 358.10,662.5 358.20,662.5 358.30,665.4 358.40,662.3 358.50,664.1 358.60,663.9 358.70,664.0 358.80,664.5 358.90,661.9 359.00,664.1 359.10,661.2 359.20,663.2 359.30,663.5 359.40,664.2 359.50,664.3 359.60,662.3 359.70,662.9 359.80,663.0 359.90,662.5 360.00,662.4 360.10,662.5 360.20,664.3 360.30,664.5 360.40,663.9 360.50,664.8 360.60,663.3 360.70,662.1 360.80,662.6 360.90,663.4 361.00,664.2 361.10,664.4 361.20,662.3 361.30,664.1 361.40,662.7 361.50,663.8 361.60,664.1 361.70,664.6 361.80,662.7 361.90,663.4 362.00,663.6 362.10,662.8 362.20,663.3 362.30,663.8 362.40,661.6" fill="none" stroke="#4e8f2c" stroke-width="0.7" stroke-linejoin="round"/>
<polyline points="379.60,661.2 379.70,664.0 379.80,662.2 379.90,661.2 380.00,660.0 380.10,660.9 380.20,662.3 380.30,662.4 380.40,662.2 380.50,662.4 380.60,661.2 380.70,663.3 380.80,660.7 380.90,662.3 381.00,661.5 381.10,660.1 381.20,662.7 381.30,661.5 381.40,662.5 381.50,663.0 381.60,662.0 381.70,661.1 381.80,661.6 381.90,661.7 382.00,663.2 382.10,662.6 382.20,663.4 382.30,662.5 382.40,661.0 382.50,662.7 382.60,662.7 382.70,661.7 382.80,662.3 382.90,661.5 383.00,660.6 383.10,661.7 383.20,662.5 383.30,661.4 383.40,659.6 383.50,661.0 383.60,662.9 383.70,662.0 383.80,662.9 383.90,661.1 384.00,661.4 384.10,660.8 384.20,661.0 384.30,662.3 384.40,661.9 384.50,661.3 384.60,662.1 384.70,660.5 384.80,661.4 384.90,660.3 385.00,660.3 385.10,660.5 385.20,660.7 385.30,663.3 385.40,663.1 385.50,663.0 385.60,661.2 385.70,662.4 385.80,660.7 385.90,661.3 386.00,662.0 386.10,660.2 386.20,662.0 386.30,662.4 386.40,659.8 386.50,659.4 386.60,661.5 386.70,661.7 386.80,661.9 386.90,660.7 387.00,662.4 387.10,661.9 387.20,661.1 387.30,663.4 387.40,662.1 387.50,662.5 387.60,663.6 387.70,661.3 387.80,661.6 387.90,660.1 388.00,661.6 388.10,662.2 388.20,664.3 388.30,662.3 388.40,662.0 388.50,660.6 388.60,661.0 388.70,660.0 388.80,660.4 388.90,661.9 389.00,662.1 389.10,660.9 389.20,661.6 389.30,661.0 389.40,662.4 389.50,662.4 389.60,661.2 389.70,661.3 389.80,660.6 389.90,661.3 390.00,664.0 390.10,661.8 390.20,662.6 390.30,662.3 390.40,663.3 390.50,661.5 390.60,660.9 390.70,662.8 390.80,662.7 390.90,661.1 391.00,662.9 391.10,661.8 391.20,661.8 391.30,663.6 391.40,662.3 391.50,662.1 391.60,661.5 391.70,662.0 391.80,662.8 391.90,662.2 392.00,661.1 392.10,662.2 392.20,661.7 392.30,662.1 392.40,661.6 392.50,659.7 392.60,660.2 392.70,661.4 392.80,659.6 392.90,660.3 393.00,663.8 393.10,662.5 393.20,661.3 393.30,662.1 393.40,659.6 393.50,662.0 393.60,662.8 393.70,662.0 393.80,660.5 393.90,662.7 394.00,661.3 394.10,661.2 394.20,662.0 394.30,661.5 394.40,663.8 394.50,661.6 394.60,663.9 394.70,662.2 394.80,660.6 394.90,661.8 395.00,661.9 395.10,663.2 395.20,663.1 395.30,664.3 395.40,661.1 395.50,661.4 395.60,664.1 395.70,660.9 395.80,662.2 395.90,663.4 396.00,660.8 396.10,661.4 396.20,661.1 396.30,662.3 396.40,662.2" fill="none" stroke="#4e8f2c" stroke-width="0.7" stroke-linejoin="round"/>
<polyline points="396.50,622.7 396.60,624.8 396.70,624.6 396.80,626.2 396.90,628.1 397.00,630.7 397.10,629.7 397.20,630.7 397.30,632.8 397.40,632.5 397.50,634.5 397.60,634.2 397.70,635.8 397.80,635.5 397.90,635.1 398.00,635.8 398.10,637.6 398.20,639.6 398.30,640.1 398.40,638.5 398.50,641.7 398.60,638.6 398.70,639.3 398.80,641.5 398.90,639.5 399.00,642.3 399.10,642.1 399.20,642.7 399.30,641.3 399.40,643.2 399.50,644.0 399.60,643.3 399.70,644.7 399.80,644.0 399.90,644.6 400.00,644.2 400.10,643.4 400.20,644.8 400.30,645.7 400.40,644.7 400.50,643.7 400.60,644.3 400.70,647.4 400.80,646.1 400.90,645.7 401.00,647.9 401.10,646.7 401.20,645.5 401.30,646.8 401.40,646.5 401.50,647.4 401.60,646.8 401.70,647.9 401.80,648.5 401.90,647.6 402.00,648.1 402.10,648.3 402.20,649.5 402.30,648.1 402.40,649.7 402.50,650.3 402.60,649.0 402.70,648.3 402.80,649.1 402.90,647.8 403.00,649.1 403.10,648.6 403.20,649.8 403.30,649.7 403.40,650.7 403.50,650.4 403.60,650.8 403.70,650.4 403.80,650.9 403.90,649.6 404.00,651.5 404.10,652.2 404.20,652.2 404.30,649.8 404.40,651.7 404.50,649.7 404.60,652.2 404.70,651.3 404.80,651.2 404.90,651.0 405.00,651.6 405.10,651.9 405.20,651.1 405.30,652.2 405.40,652.5 405.50,652.8 405.60,652.3 405.70,652.4 405.80,654.9 405.90,653.6 406.00,653.0 406.10,651.4 406.20,653.5 406.30,653.5 406.40,650.4 406.50,653.0 406.60,653.6 406.70,653.3 406.80,653.5 406.90,653.3 407.00,654.9 407.10,654.0 407.20,653.4 407.30,653.5 407.40,655.9 407.50,653.0 407.60,653.4 407.70,654.3 407.80,654.3 407.90,654.5 408.00,655.6 408.10,655.4 408.20,654.8 408.30,654.5 408.40,654.5 408.50,654.3 408.60,655.7 408.70,653.5 408.80,653.7 408.90,654.4 409.00,653.9 409.10,654.2 409.20,656.2 409.30,652.9 409.40,655.7 409.50,653.9 409.60,655.0 409.70,654.8 409.80,654.4 409.90,654.0 410.00,655.6 410.10,652.6 410.20,653.5 410.30,655.3 410.40,656.8 410.50,657.6 410.60,655.6 410.70,655.1 410.80,655.7 410.90,656.5 411.00,657.0 411.10,655.2 411.20,656.6 411.30,656.2 411.40,657.4 411.50,655.9 411.60,656.2 411.70,655.6 411.80,655.1 411.90,656.8 412.00,657.3 412.10,657.7 412.20,656.9 412.30,656.2 412.40,655.8 412.50,655.6 412.60,656.1 412.70,657.2 412.80,657.0 412.90,654.7 413.00,656.9 413.10,656.8 413.20,656.1 413.30,657.1 413.40,657.7 413.50,656.2 413.60,655.9 413.70,657.0 413.80,657.6 413.90,657.1 414.00,659.0 414.10,657.6 414.20,656.5 414.30,658.3 414.40,656.9 414.50,658.3 414.60,657.8 414.70,658.9 414.80,656.7 414.90,658.5 415.00,658.2 415.10,656.9 415.20,658.6 415.30,660.1 415.40,658.3 415.50,657.2 415.60,657.9 415.70,659.3 415.80,658.3 415.90,659.6 416.00,657.5 416.10,659.5 416.20,656.6 416.30,658.1 416.40,658.0 416.50,657.8 416.60,659.6 416.70,657.8 416.80,658.8 416.90,660.3 417.00,659.3 417.10,658.1 417.20,657.8 417.30,656.6 417.40,659.0 417.50,659.5 417.60,659.8 417.70,658.9 417.80,660.9 417.90,659.5 418.00,656.5 418.10,657.9 418.20,659.6 418.30,658.4 418.40,659.7 418.50,661.4 418.60,658.2 418.70,661.1 418.80,658.9 418.90,657.5 419.00,659.1 419.10,659.9 419.20,658.5 419.30,660.7 419.40,658.3 419.50,658.9 419.60,660.1 419.70,659.0 419.80,658.7 419.90,659.2 420.00,659.9 420.10,661.0 420.20,660.7 420.30,661.2 420.40,659.3 420.50,657.7 420.60,659.4 420.70,659.0 420.80,658.4 420.90,658.9 421.00,659.4 421.10,659.6 421.20,660.4 421.30,658.6 421.40,660.7 421.50,659.6 421.60,660.3 421.70,660.9 421.80,658.4 421.90,661.3 422.00,659.0 422.10,660.1 422.20,660.8 422.30,660.7 422.40,658.2 422.50,659.9 422.60,660.9 422.70,659.7 422.80,659.8 422.90,659.9 423.00,661.5 423.10,659.3 423.20,659.0 423.30,658.8 423.40,659.4 423.50,659.7 423.60,660.3 423.70,659.9 423.80,658.3 423.90,658.5 424.00,660.7 424.10,660.8 424.20,658.7 424.30,661.0 424.40,657.7 424.50,662.4 424.60,660.7 424.70,658.5 424.80,660.7 424.90,660.1 425.00,659.7 425.10,659.8 425.20,660.0 425.30,660.1 425.40,659.3 425.50,659.7 425.60,660.8 425.70,660.8 425.80,659.0 425.90,659.8 426.00,661.9 426.10,661.1 426.20,662.0 426.30,659.0 426.40,659.3 426.50,658.2 426.60,658.5 426.70,660.0 426.80,659.4 426.90,659.4 427.00,659.8 427.10,660.3 427.20,661.3 427.30,661.1 427.40,658.7 427.50,662.0 427.60,660.2 427.70,659.5 427.80,660.5 427.90,660.2 428.00,659.2 428.10,662.1 428.20,660.0 428.30,660.0 428.40,661.2 428.50,662.3 428.60,661.1 428.70,659.8 428.80,661.1 428.90,661.8 429.00,661.1 429.10,661.3 429.20,660.2 429.30,660.6 429.40,659.0 429.50,660.0 429.60,659.6 429.70,660.8 429.80,662.3 429.90,658.5 430.00,659.5 430.10,659.9 430.20,660.7 430.30,662.0 430.40,660.0 430.50,660.0 430.60,662.1 430.70,661.2 430.80,661.4 430.90,661.7 431.00,660.1 431.10,661.1 431.20,660.2 431.30,660.2 431.40,661.0 431.50,661.3 431.60,659.6 431.70,660.2 431.80,661.5 431.90,661.1 432.00,661.6 432.10,660.6 432.20,660.2 432.30,661.8 432.40,661.6 432.50,658.1 432.60,661.9 432.70,660.2 432.80,661.7 432.90,662.6" fill="none" stroke="#4e8f2c" stroke-width="0.7" stroke-linejoin="round"/>
<line x1="396.40" y1="662.2" x2="396.50" y2="622.7" stroke="#4e8f2c" stroke-width="0.7" opacity="0.7"/>
<polyline points="450.20,661.5 450.30,660.8 450.40,662.1 450.50,661.9 450.60,662.4 450.70,660.4 450.80,662.0 450.90,662.7 451.00,662.5 451.10,662.4 451.20,663.0 451.30,661.0 451.40,663.0 451.50,662.0 451.60,660.8 451.70,661.5 451.80,662.1 451.90,662.1 452.00,663.2 452.10,662.0 452.20,661.3 452.30,664.0 452.40,661.5 452.50,661.0 452.60,662.7 452.70,661.4 452.80,661.0 452.90,660.7 453.00,663.0 453.10,660.7 453.20,661.9 453.30,661.3 453.40,661.6 453.50,661.0 453.60,662.0 453.70,662.4 453.80,662.9 453.90,661.4 454.00,660.6 454.10,660.3 454.20,661.8 454.30,659.3 454.40,663.1 454.50,661.8 454.60,661.9 454.70,660.4 454.80,661.2 454.90,661.1 455.00,662.5 455.10,661.4 455.20,662.4 455.30,662.3 455.40,659.9 455.50,661.6 455.60,663.1 455.70,661.3 455.80,661.9 455.90,661.7 456.00,660.6 456.10,664.0 456.20,661.7 456.30,662.4 456.40,661.4 456.50,663.2 456.60,663.0 456.70,663.0 456.80,662.8 456.90,662.5 457.00,663.2 457.10,662.2 457.20,661.9 457.30,662.6 457.40,660.9 457.50,659.3 457.60,662.6 457.70,662.0 457.80,661.1 457.90,661.5 458.00,660.9 458.10,661.0 458.20,662.0 458.30,661.9 458.40,662.6 458.50,661.7 458.60,662.4 458.70,662.5 458.80,661.1 458.90,660.1 459.00,661.1 459.10,661.5 459.20,661.3 459.30,664.0 459.40,661.1 459.50,662.3 459.60,661.0 459.70,662.5 459.80,660.5 459.90,662.8 460.00,662.0 460.10,661.4 460.20,660.6 460.30,663.5 460.40,661.2 460.50,663.2 460.60,659.4 460.70,660.6 460.80,663.6 460.90,663.6 461.00,661.8 461.10,662.8 461.20,662.4 461.30,661.4 461.40,661.9 461.50,660.6 461.60,660.5 461.70,661.9 461.80,662.5 461.90,662.0 462.00,660.6 462.10,662.7 462.20,661.9 462.30,662.6 462.40,661.5 462.50,661.5 462.60,662.9 462.70,663.2 462.80,660.6 462.90,660.7 463.00,662.8 463.10,662.2 463.20,661.9 463.30,660.8 463.40,662.8 463.50,662.0 463.60,662.0 463.70,662.2 463.80,661.3 463.90,662.2 464.00,661.9 464.10,662.5 464.20,662.2 464.30,660.5 464.40,661.1 464.50,661.5 464.60,663.0 464.70,661.1 464.80,662.9 464.90,662.9 465.00,662.7 465.10,664.1 465.20,661.8 465.30,662.1 465.40,663.0 465.50,662.2 465.60,662.8 465.70,661.7 465.80,663.2 465.90,662.2 466.00,659.9 466.10,662.9 466.20,661.6 466.30,660.9 466.40,661.5 466.50,661.5 466.60,663.0 466.70,662.1 466.80,661.7 466.90,661.8 467.00,660.9 467.10,661.2 467.20,661.3 467.30,661.6 467.40,660.7 467.50,661.4 467.60,662.8 467.70,662.3 467.80,661.8 467.90,662.1 468.00,661.6 468.10,660.6 468.20,662.7 468.30,664.1 468.40,662.3 468.50,662.5 468.60,664.3 468.70,660.6 468.80,662.3 468.90,661.5 469.00,661.5 469.10,660.1 469.20,661.7 469.30,662.2 469.40,660.2 469.50,661.6 469.60,661.3 469.70,660.8 469.80,662.4 469.90,663.4 470.00,662.2 470.10,662.8 470.20,662.6 470.30,661.7 470.40,662.4 470.50,663.1 470.60,661.4 470.70,661.7 470.80,660.4 470.90,659.9 471.00,661.0 471.10,662.7 471.20,662.2 471.30,662.1 471.40,663.1 471.50,660.0 471.60,663.2 471.70,661.9 471.80,662.6 471.90,663.2 472.00,661.0 472.10,660.9 472.20,662.2 472.30,661.7 472.40,661.2 472.50,661.7 472.60,661.1 472.70,661.9 472.80,661.4 472.90,663.5 473.00,660.8 473.10,662.4 473.20,661.9 473.30,663.4 473.40,660.9 473.50,661.3 473.60,663.5 473.70,661.1 473.80,661.4 473.90,661.4 474.00,660.8 474.10,663.0 474.20,663.3 474.30,661.6 474.40,661.1 474.50,660.4 474.60,662.5 474.70,661.3 474.80,662.4 474.90,659.4 475.00,661.4 475.10,662.4 475.20,662.2 475.30,658.9 475.40,662.1 475.50,661.9 475.60,661.8 475.70,661.5 475.80,661.4 475.90,661.9 476.00,662.3 476.10,658.6 476.20,661.8 476.30,662.7 476.40,661.6 476.50,663.0 476.60,660.9 476.70,663.7 476.80,662.8 476.90,661.4 477.00,664.5 477.10,663.2 477.20,663.4 477.30,660.6 477.40,661.7 477.50,662.3 477.60,662.9 477.70,661.9 477.80,660.5 477.90,663.0 478.00,661.6 478.10,662.2 478.20,661.5 478.30,661.7 478.40,660.5 478.50,662.5 478.60,661.2 478.70,660.0 478.80,662.2 478.90,661.8 479.00,662.8 479.10,662.6 479.20,660.6 479.30,661.6 479.40,661.8 479.50,661.9 479.60,660.8 479.70,661.9 479.80,662.8 479.90,663.0 480.00,663.3 480.10,662.6 480.20,659.3 480.30,661.5 480.40,661.3 480.50,658.9 480.60,663.3 480.70,662.7 480.80,661.8 480.90,662.2 481.00,662.3 481.10,661.6 481.20,663.2 481.30,663.6 481.40,662.6 481.50,661.2 481.60,662.1 481.70,662.8 481.80,662.5 481.90,661.1 482.00,662.8 482.10,662.5 482.20,662.4 482.30,661.4 482.40,661.8 482.50,659.9 482.60,661.8 482.70,661.4 482.80,661.5 482.90,661.5 483.00,661.5 483.10,661.9 483.20,661.9 483.30,661.2 483.40,661.7 483.50,661.7 483.60,662.3 483.70,662.2 483.80,661.5 483.90,661.0 484.00,660.2 484.10,660.5 484.20,662.2 484.30,660.9 484.40,663.4 484.50,661.6 484.60,661.4 484.70,661.6 484.80,661.3 484.90,661.2 485.00,661.9 485.10,660.3 485.20,661.9 485.30,661.7 485.40,660.9 485.50,662.8 485.60,662.2 485.70,662.9 485.80,661.2 485.90,660.6 486.00,660.6 486.10,660.2 486.20,659.9 486.30,663.4 486.40,661.3 486.50,662.0 486.60,661.3 486.70,661.7 486.80,663.4 486.90,660.1 487.00,660.8 487.10,661.9 487.20,660.9 487.30,662.5 487.40,663.1 487.50,662.7 487.60,662.6 487.70,661.6 487.80,662.8 487.90,661.0 488.00,660.6 488.10,661.5 488.20,661.6 488.30,663.0 488.40,660.8 488.50,662.9 488.60,661.0 488.70,660.5 488.80,660.1 488.90,661.8 489.00,660.4 489.10,662.0 489.20,661.9 489.30,661.4 489.40,659.9 489.50,661.3 489.60,662.2 489.70,660.0 489.80,662.5 489.90,661.8 490.00,661.3 490.10,662.0 490.20,662.5 490.30,661.8 490.40,661.0 490.50,662.6 490.60,661.1 490.70,662.2 490.80,662.8 490.90,663.1 491.00,663.4 491.10,662.8 491.20,662.0 491.30,661.6 491.40,662.0 491.50,662.3 491.60,664.8 491.70,662.5 491.80,661.0 491.90,663.3 492.00,660.2 492.10,662.8 492.20,660.5 492.30,660.7 492.40,661.3 492.50,661.5 492.60,660.5 492.70,662.4 492.80,661.7 492.90,663.1 493.00,660.8 493.10,660.0 493.20,662.5 493.30,661.6 493.40,662.8 493.50,659.5 493.60,660.6 493.70,661.9 493.80,663.7 493.90,660.6 494.00,659.9 494.10,661.3 494.20,663.2 494.30,663.4 494.40,660.5 494.50,661.2 494.60,660.0 494.70,661.0 494.80,660.9 494.90,662.2 495.00,662.9 495.10,664.2 495.20,661.5 495.30,662.6 495.40,662.0 495.50,661.9 495.60,663.7 495.70,662.5 495.80,663.4 495.90,662.1 496.00,662.7 496.10,662.3 496.20,661.7 496.30,661.1 496.40,661.4 496.50,661.8 496.60,661.4 496.70,661.5 496.80,661.1 496.90,662.7 497.00,661.6 497.10,661.7 497.20,661.6 497.30,663.1 497.40,661.3 497.50,663.2 497.60,661.0 497.70,663.3 497.80,662.4 497.90,661.3 498.00,662.3 498.10,662.9 498.20,660.9 498.30,661.6 498.40,662.1 498.50,661.6 498.60,661.5 498.70,661.8 498.80,662.1 498.90,662.6 499.00,663.3 499.10,661.5 499.20,664.7 499.30,661.5 499.40,663.6 499.50,661.7 499.60,660.4 499.70,661.4 499.80,661.5 499.90,662.9 500.00,659.8 500.10,661.2 500.20,661.7 500.30,662.5 500.40,662.2 500.50,662.7 500.60,661.6 500.70,661.6 500.80,663.0 500.90,663.5 501.00,662.2 501.10,662.0 501.20,661.0 501.30,663.9 501.40,662.2 501.50,662.4 501.60,660.2 501.70,662.4 501.80,664.2 501.90,661.6 502.00,661.6 502.10,663.3 502.20,661.6 502.30,662.6 502.40,663.7 502.50,660.6 502.60,661.0 502.70,662.5 502.80,661.9 502.90,661.8 503.00,661.6 503.10,661.9 503.20,662.2 503.30,661.3 503.40,661.5 503.50,662.0 503.60,660.7 503.70,662.2" fill="none" stroke="#4e8f2c" stroke-width="0.7" stroke-linejoin="round"/>
<rect x="249.9" y="649" width="3.7" height="10.6" fill="#4fb9ec" />
<rect x="320.4" y="649" width="3.7" height="10.6" fill="#4fb9ec" />
<rect x="390.9" y="649" width="3.7" height="10.6" fill="#4fb9ec" />
<rect x="459.3" y="648" width="3.7" height="10.8" fill="#4fb9ec" />
<path d="M508.6,682.2 H520 V672" fill="none" stroke="#231f20" stroke-width="1.3"/>
<text transform="translate(490.19,692.5)" font-size="10.1" text-anchor="start" fill="#231f20">100 ms</text>
<text transform="translate(532.7,672.5) rotate(-90)" font-size="10.1" text-anchor="middle" fill="#231f20">50 pA</text>
<rect x="514.9" y="102.78" width="10.8" height="40.72" fill="#fff" stroke="#3a3a3a" stroke-width="0.8"/>
<rect x="531.8" y="143.23" width="10.8" height="0.27" fill="#fff" stroke="#3a3a3a" stroke-width="0.8"/>
<rect x="548.2" y="116.05" width="10.8" height="27.45" fill="#fff" stroke="#3a3a3a" stroke-width="0.8"/>
<path d="M509.2,70.18 V143.5 H565.7" fill="none" stroke="#231f20" stroke-width="1.3"/>
<line x1="506.6" y1="143.5" x2="509.2" y2="143.5" stroke="#231f20" stroke-width="1.2" />
<text transform="translate(499.99,147.85)" font-size="12.2" text-anchor="start" fill="#231f20">0</text>
<line x1="506.6" y1="125.32" x2="509.2" y2="125.32" stroke="#231f20" stroke-width="1.2" />
<text transform="translate(486.42,129.67)" font-size="12.2" text-anchor="start" fill="#231f20">100</text>
<line x1="506.6" y1="107.14" x2="509.2" y2="107.14" stroke="#231f20" stroke-width="1.2" />
<text transform="translate(486.42,111.49)" font-size="12.2" text-anchor="start" fill="#231f20">200</text>
<line x1="506.6" y1="88.96" x2="509.2" y2="88.96" stroke="#231f20" stroke-width="1.2" />
<text transform="translate(486.42,93.31)" font-size="12.2" text-anchor="start" fill="#231f20">300</text>
<line x1="506.6" y1="70.78" x2="509.2" y2="70.78" stroke="#231f20" stroke-width="1.2" />
<text transform="translate(486.42,75.13)" font-size="12.2" text-anchor="start" fill="#231f20">400</text>
<line x1="520.3" y1="143.5" x2="520.3" y2="146.2" stroke="#231f20" stroke-width="1.2" />
<line x1="537.2" y1="143.5" x2="537.2" y2="146.2" stroke="#231f20" stroke-width="1.2" />
<line x1="553.6" y1="143.5" x2="553.6" y2="146.2" stroke="#231f20" stroke-width="1.2" />
<text transform="translate(486.15,160) scale(1.025,1)" font-size="12.3" text-anchor="start" fill="#231f20">TTX</text>
<text transform="translate(482.34,177.3) scale(1.025,1)" font-size="12.3" text-anchor="start" fill="#231f20">4-AP</text>
<path d="M518.8,155 H521.8" stroke="#231f20" stroke-width="0.95"/>
<path d="M534.5,155.5 H539.9 M537.2,152.8 V158.2" stroke="#231f20" stroke-width="0.95"/>
<path d="M550.9,155.5 H556.3 M553.6,152.8 V158.2" stroke="#231f20" stroke-width="0.95"/>
<path d="M518.8,172.3 H521.8" stroke="#231f20" stroke-width="0.95"/>
<path d="M535.7,172.3 H538.7" stroke="#231f20" stroke-width="0.95"/>
<path d="M550.9,172.8 H556.3 M553.6,170.1 V175.5" stroke="#231f20" stroke-width="0.95"/>
<line x1="520.9" y1="77.1" x2="535.9" y2="77.1" stroke="#3a3a3a" stroke-width="1.5" />
<path d="M523.7,66.05 L523.7,72.75 M520.8,67.73 L526.6,71.08 M526.6,67.73 L520.8,71.08 " stroke="#231f20" stroke-width="1.2" fill="none"/>
<path d="M533.1,66.05 L533.1,72.75 M530.2,67.73 L536,71.08 M536,67.73 L530.2,71.08 " stroke="#231f20" stroke-width="1.2" fill="none"/>
<line x1="540" y1="77.1" x2="555" y2="77.1" stroke="#3a3a3a" stroke-width="1.5" />
<path d="M542.8,66.05 L542.8,72.75 M539.9,67.73 L545.7,71.08 M545.7,67.73 L539.9,71.08 " stroke="#231f20" stroke-width="1.2" fill="none"/>
<path d="M552.2,66.05 L552.2,72.75 M549.3,67.73 L555.1,71.08 M555.1,67.73 L549.3,71.08 " stroke="#231f20" stroke-width="1.2" fill="none"/>
<path d="M520.7,87.6 L537.2,143.3 L553.8,102" fill="none" stroke="#231f20" stroke-width="0.8"/>
<path d="M520.7,91.5 L537.2,143.3 L553.8,111.9" fill="none" stroke="#231f20" stroke-width="0.8"/>
<path d="M520.7,106 L537.2,143.3 L553.8,116.5" fill="none" stroke="#231f20" stroke-width="0.8"/>
<path d="M520.7,112.6 L537.2,143.3 L553.8,118.5" fill="none" stroke="#231f20" stroke-width="0.8"/>
<path d="M520.7,115.2 L537.2,143.3 L553.8,121.1" fill="none" stroke="#231f20" stroke-width="0.8"/>
<path d="M520.7,118.5 L537.2,143.3 L553.8,124.4" fill="none" stroke="#231f20" stroke-width="0.8"/>
<circle cx="520.7" cy="87.6" r="3.4" fill="#f5d2d8" fill-opacity="0.92" stroke="#4a4a4a" stroke-width="0.75"/>
<circle cx="520.7" cy="91.5" r="3.4" fill="#f5d2d8" fill-opacity="0.92" stroke="#4a4a4a" stroke-width="0.75"/>
<circle cx="520.7" cy="106" r="3.4" fill="#f5d2d8" fill-opacity="0.92" stroke="#4a4a4a" stroke-width="0.75"/>
<circle cx="520.7" cy="112.6" r="3.4" fill="#f5d2d8" fill-opacity="0.92" stroke="#4a4a4a" stroke-width="0.75"/>
<circle cx="520.7" cy="115.2" r="3.4" fill="#f5d2d8" fill-opacity="0.92" stroke="#4a4a4a" stroke-width="0.75"/>
<circle cx="520.7" cy="118.5" r="3.4" fill="#f5d2d8" fill-opacity="0.92" stroke="#4a4a4a" stroke-width="0.75"/>
<circle cx="537.2" cy="143.3" r="3.4" fill="#f1bc74" fill-opacity="0.92" stroke="#4a4a4a" stroke-width="0.75"/>
<circle cx="553.8" cy="102" r="3.4" fill="#abdca2" fill-opacity="0.92" stroke="#4a4a4a" stroke-width="0.75"/>
<circle cx="553.8" cy="111.9" r="3.4" fill="#abdca2" fill-opacity="0.92" stroke="#4a4a4a" stroke-width="0.75"/>
<circle cx="553.8" cy="116.5" r="3.4" fill="#abdca2" fill-opacity="0.92" stroke="#4a4a4a" stroke-width="0.75"/>
<circle cx="553.8" cy="118.5" r="3.4" fill="#abdca2" fill-opacity="0.92" stroke="#4a4a4a" stroke-width="0.75"/>
<circle cx="553.8" cy="121.1" r="3.4" fill="#abdca2" fill-opacity="0.92" stroke="#4a4a4a" stroke-width="0.75"/>
<circle cx="553.8" cy="124.4" r="3.4" fill="#abdca2" fill-opacity="0.92" stroke="#4a4a4a" stroke-width="0.75"/>
<text transform="translate(462.7,102.4) rotate(-90) scale(1.025,1)" font-size="12.3" text-anchor="middle" fill="#231f20">oEPSCs</text>
<text transform="translate(477.8,104.2) rotate(-90) scale(1.025,1)" font-size="12.3" text-anchor="middle" fill="#231f20">Amplitude (pA)</text>
<rect x="632.6" y="115.88" width="10.8" height="29.12" fill="#fff" stroke="#3a3a3a" stroke-width="0.8"/>
<rect x="649.4" y="144.64" width="10.8" height="0.36" fill="#fff" stroke="#3a3a3a" stroke-width="0.8"/>
<rect x="665.9" y="143.54" width="10.8" height="1.46" fill="#fff" stroke="#3a3a3a" stroke-width="0.8"/>
<path d="M626.9,71.6 V145 H682.9" fill="none" stroke="#231f20" stroke-width="1.3"/>
<line x1="624.3" y1="145" x2="626.9" y2="145" stroke="#231f20" stroke-width="1.2" />
<text transform="translate(616.49,149.35)" font-size="12.2" text-anchor="start" fill="#231f20">0</text>
<line x1="624.3" y1="126.8" x2="626.9" y2="126.8" stroke="#231f20" stroke-width="1.2" />
<text transform="translate(602.92,131.15)" font-size="12.2" text-anchor="start" fill="#231f20">100</text>
<line x1="624.3" y1="108.6" x2="626.9" y2="108.6" stroke="#231f20" stroke-width="1.2" />
<text transform="translate(602.92,112.95)" font-size="12.2" text-anchor="start" fill="#231f20">200</text>
<line x1="624.3" y1="90.4" x2="626.9" y2="90.4" stroke="#231f20" stroke-width="1.2" />
<text transform="translate(602.92,94.75)" font-size="12.2" text-anchor="start" fill="#231f20">300</text>
<line x1="624.3" y1="72.2" x2="626.9" y2="72.2" stroke="#231f20" stroke-width="1.2" />
<text transform="translate(602.92,76.55)" font-size="12.2" text-anchor="start" fill="#231f20">400</text>
<line x1="638" y1="145" x2="638" y2="147.7" stroke="#231f20" stroke-width="1.2" />
<line x1="654.8" y1="145" x2="654.8" y2="147.7" stroke="#231f20" stroke-width="1.2" />
<line x1="671.3" y1="145" x2="671.3" y2="147.7" stroke="#231f20" stroke-width="1.2" />
<text transform="translate(603.45,162.3) scale(1.025,1)" font-size="12.3" text-anchor="start" fill="#231f20">TTX</text>
<text transform="translate(599.64,179.1) scale(1.025,1)" font-size="12.3" text-anchor="start" fill="#231f20">4-AP</text>
<path d="M636.5,157.3 H639.5" stroke="#231f20" stroke-width="0.95"/>
<path d="M652.1,157.8 H657.5 M654.8,155.1 V160.5" stroke="#231f20" stroke-width="0.95"/>
<path d="M668.6,157.8 H674 M671.3,155.1 V160.5" stroke="#231f20" stroke-width="0.95"/>
<path d="M636.5,174.1 H639.5" stroke="#231f20" stroke-width="0.95"/>
<path d="M653.3,174.1 H656.3" stroke="#231f20" stroke-width="0.95"/>
<path d="M668.6,174.6 H674 M671.3,171.9 V177.3" stroke="#231f20" stroke-width="0.95"/>
<line x1="636.2" y1="79" x2="650.7" y2="79" stroke="#3a3a3a" stroke-width="1.5" />
<path d="M638.75,69.35 L638.75,76.05 M635.85,71.03 L641.65,74.38 M641.65,71.03 L635.85,74.38 " stroke="#231f20" stroke-width="1.2" fill="none"/>
<path d="M648.15,69.35 L648.15,76.05 M645.25,71.03 L651.05,74.38 M651.05,71.03 L645.25,74.38 " stroke="#231f20" stroke-width="1.2" fill="none"/>
<line x1="655.4" y1="79" x2="669.8" y2="79" stroke="#3a3a3a" stroke-width="1.5" />
<text transform="translate(653.48,77.3)" font-size="10.3" text-anchor="start" fill="#231f20">N.S.</text>
<path d="M638,102.5 L654.8,143.8 L671.3,138.3" fill="none" stroke="#231f20" stroke-width="0.8"/>
<path d="M638,105.7 L654.8,143.8 L671.3,144.7" fill="none" stroke="#231f20" stroke-width="0.8"/>
<path d="M638,115.8 L654.8,143.8 L671.3,144.7" fill="none" stroke="#231f20" stroke-width="0.8"/>
<path d="M638,119 L654.8,143.8 L671.3,144.7" fill="none" stroke="#231f20" stroke-width="0.8"/>
<path d="M638,123.4 L654.8,143.8 L671.3,144.7" fill="none" stroke="#231f20" stroke-width="0.8"/>
<path d="M638,126.6 L654.8,143.8 L671.3,144.7" fill="none" stroke="#231f20" stroke-width="0.8"/>
<circle cx="638" cy="102.5" r="3.4" fill="#f5d2d8" fill-opacity="0.92" stroke="#4a4a4a" stroke-width="0.75"/>
<circle cx="638" cy="105.7" r="3.4" fill="#f5d2d8" fill-opacity="0.92" stroke="#4a4a4a" stroke-width="0.75"/>
<circle cx="638" cy="115.8" r="3.4" fill="#f5d2d8" fill-opacity="0.92" stroke="#4a4a4a" stroke-width="0.75"/>
<circle cx="638" cy="119" r="3.4" fill="#f5d2d8" fill-opacity="0.92" stroke="#4a4a4a" stroke-width="0.75"/>
<circle cx="638" cy="123.4" r="3.4" fill="#f5d2d8" fill-opacity="0.92" stroke="#4a4a4a" stroke-width="0.75"/>
<circle cx="638" cy="126.6" r="3.4" fill="#f5d2d8" fill-opacity="0.92" stroke="#4a4a4a" stroke-width="0.75"/>
<circle cx="654.8" cy="143.8" r="3.4" fill="#f1bc74" fill-opacity="0.92" stroke="#4a4a4a" stroke-width="0.75"/>
<circle cx="671.3" cy="138.3" r="3.4" fill="#abdca2" fill-opacity="0.92" stroke="#4a4a4a" stroke-width="0.75"/>
<circle cx="671.3" cy="144.7" r="3.4" fill="#abdca2" fill-opacity="0.92" stroke="#4a4a4a" stroke-width="0.75"/>
<text transform="translate(578.6,104.4) rotate(-90) scale(1.025,1)" font-size="12.3" text-anchor="middle" fill="#231f20">oIPSCs</text>
<text transform="translate(593.2,105.6) rotate(-90) scale(1.025,1)" font-size="12.3" text-anchor="middle" fill="#231f20">Amplitude (pA)</text>
<rect x="358.4" y="257.06" width="10.8" height="39.04" fill="#fff" stroke="#3a3a3a" stroke-width="0.8"/>
<rect x="375" y="259.26" width="10.8" height="36.84" fill="#fff" stroke="#3a3a3a" stroke-width="0.8"/>
<rect x="391.5" y="295.37" width="10.8" height="0.73" fill="#fff" stroke="#3a3a3a" stroke-width="0.8"/>
<path d="M353.3,222.18 V296.1 H408" fill="none" stroke="#231f20" stroke-width="1.3"/>
<line x1="350.7" y1="296.1" x2="353.3" y2="296.1" stroke="#231f20" stroke-width="1.2" />
<text transform="translate(343.09,300.45)" font-size="12.2" text-anchor="start" fill="#231f20">0</text>
<line x1="350.7" y1="277.77" x2="353.3" y2="277.77" stroke="#231f20" stroke-width="1.2" />
<text transform="translate(329.52,282.12)" font-size="12.2" text-anchor="start" fill="#231f20">100</text>
<line x1="350.7" y1="259.44" x2="353.3" y2="259.44" stroke="#231f20" stroke-width="1.2" />
<text transform="translate(329.52,263.79)" font-size="12.2" text-anchor="start" fill="#231f20">200</text>
<line x1="350.7" y1="241.11" x2="353.3" y2="241.11" stroke="#231f20" stroke-width="1.2" />
<text transform="translate(329.52,245.46)" font-size="12.2" text-anchor="start" fill="#231f20">300</text>
<line x1="350.7" y1="222.78" x2="353.3" y2="222.78" stroke="#231f20" stroke-width="1.2" />
<text transform="translate(329.52,227.13)" font-size="12.2" text-anchor="start" fill="#231f20">400</text>
<line x1="363.8" y1="296.1" x2="363.8" y2="298.8" stroke="#231f20" stroke-width="1.2" />
<line x1="380.4" y1="296.1" x2="380.4" y2="298.8" stroke="#231f20" stroke-width="1.2" />
<line x1="396.9" y1="296.1" x2="396.9" y2="298.8" stroke="#231f20" stroke-width="1.2" />
<text transform="translate(327.05,313.5) scale(1.025,1)" font-size="12.3" text-anchor="start" fill="#231f20">PTX</text>
<text transform="translate(284.91,331.8) scale(1.025,1)" font-size="12.3" text-anchor="start" fill="#231f20">NBQX+AP5</text>
<path d="M362.3,308.5 H365.3" stroke="#231f20" stroke-width="0.95"/>
<path d="M377.7,309 H383.1 M380.4,306.3 V311.7" stroke="#231f20" stroke-width="0.95"/>
<path d="M395.4,308.5 H398.4" stroke="#231f20" stroke-width="0.95"/>
<path d="M362.3,326.8 H365.3" stroke="#231f20" stroke-width="0.95"/>
<path d="M378.9,326.8 H381.9" stroke="#231f20" stroke-width="0.95"/>
<path d="M394.2,327.3 H399.6 M396.9,324.6 V330" stroke="#231f20" stroke-width="0.95"/>
<line x1="362.3" y1="230.6" x2="376.3" y2="230.6" stroke="#3a3a3a" stroke-width="1.5" />
<text transform="translate(360.18,227.8)" font-size="10.3" text-anchor="start" fill="#231f20">N.S.</text>
<line x1="380.3" y1="230.6" x2="395.6" y2="230.6" stroke="#3a3a3a" stroke-width="1.5" />
<path d="M383.25,219.85 L383.25,226.55 M380.35,221.52 L386.15,224.88 M386.15,221.52 L380.35,224.88 " stroke="#231f20" stroke-width="1.2" fill="none"/>
<path d="M392.65,219.85 L392.65,226.55 M389.75,221.52 L395.55,224.88 M395.55,221.52 L389.75,224.88 " stroke="#231f20" stroke-width="1.2" fill="none"/>
<path d="M363.8,244 L380.4,254.9 L396.9,289" fill="none" stroke="#231f20" stroke-width="0.8"/>
<path d="M363.8,247.4 L380.4,246 L396.9,293.4" fill="none" stroke="#231f20" stroke-width="0.8"/>
<path d="M363.8,256.2 L380.4,246 L396.9,296" fill="none" stroke="#231f20" stroke-width="0.8"/>
<path d="M363.8,261 L380.4,261.5 L396.9,296" fill="none" stroke="#231f20" stroke-width="0.8"/>
<path d="M363.8,266.3 L380.4,269.8 L396.9,293.4" fill="none" stroke="#231f20" stroke-width="0.8"/>
<path d="M363.8,268 L380.4,273.3 L396.9,289" fill="none" stroke="#231f20" stroke-width="0.8"/>
<circle cx="363.8" cy="244" r="3.4" fill="#f5d2d8" fill-opacity="0.92" stroke="#4a4a4a" stroke-width="0.75"/>
<circle cx="363.8" cy="247.4" r="3.4" fill="#f5d2d8" fill-opacity="0.92" stroke="#4a4a4a" stroke-width="0.75"/>
<circle cx="363.8" cy="256.2" r="3.4" fill="#f5d2d8" fill-opacity="0.92" stroke="#4a4a4a" stroke-width="0.75"/>
<circle cx="363.8" cy="261" r="3.4" fill="#f5d2d8" fill-opacity="0.92" stroke="#4a4a4a" stroke-width="0.75"/>
<circle cx="363.8" cy="266.3" r="3.4" fill="#f5d2d8" fill-opacity="0.92" stroke="#4a4a4a" stroke-width="0.75"/>
<circle cx="363.8" cy="268" r="3.4" fill="#f5d2d8" fill-opacity="0.92" stroke="#4a4a4a" stroke-width="0.75"/>
<circle cx="380.4" cy="254.9" r="3.4" fill="#f1bc74" fill-opacity="0.92" stroke="#4a4a4a" stroke-width="0.75"/>
<circle cx="380.4" cy="246" r="3.4" fill="#f1bc74" fill-opacity="0.92" stroke="#4a4a4a" stroke-width="0.75"/>
<circle cx="380.4" cy="246" r="3.4" fill="#f1bc74" fill-opacity="0.92" stroke="#4a4a4a" stroke-width="0.75"/>
<circle cx="380.4" cy="261.5" r="3.4" fill="#f1bc74" fill-opacity="0.92" stroke="#4a4a4a" stroke-width="0.75"/>
<circle cx="380.4" cy="269.8" r="3.4" fill="#f1bc74" fill-opacity="0.92" stroke="#4a4a4a" stroke-width="0.75"/>
<circle cx="380.4" cy="273.3" r="3.4" fill="#f1bc74" fill-opacity="0.92" stroke="#4a4a4a" stroke-width="0.75"/>
<circle cx="396.9" cy="289" r="3.4" fill="#abdca2" fill-opacity="0.92" stroke="#4a4a4a" stroke-width="0.75"/>
<circle cx="396.9" cy="293.4" r="3.4" fill="#abdca2" fill-opacity="0.92" stroke="#4a4a4a" stroke-width="0.75"/>
<circle cx="396.9" cy="296" r="3.4" fill="#abdca2" fill-opacity="0.92" stroke="#4a4a4a" stroke-width="0.75"/>
<circle cx="396.9" cy="296" r="3.4" fill="#abdca2" fill-opacity="0.92" stroke="#4a4a4a" stroke-width="0.75"/>
<circle cx="396.9" cy="293.4" r="3.4" fill="#abdca2" fill-opacity="0.92" stroke="#4a4a4a" stroke-width="0.75"/>
<circle cx="396.9" cy="289" r="3.4" fill="#abdca2" fill-opacity="0.92" stroke="#4a4a4a" stroke-width="0.75"/>
<text transform="translate(306.6,255.9) rotate(-90) scale(1.025,1)" font-size="12.3" text-anchor="middle" fill="#231f20">oEPSCs</text>
<text transform="translate(321.9,258.4) rotate(-90) scale(1.0608749999999998,1)" font-size="12.3" text-anchor="middle" fill="#231f20">Amplitude (pA)</text>
<rect x="487" y="265.04" width="10.8" height="33.76" fill="#fff" stroke="#3a3a3a" stroke-width="0.8"/>
<rect x="503.5" y="297.34" width="10.8" height="1.46" fill="#fff" stroke="#3a3a3a" stroke-width="0.8"/>
<rect x="520" y="297.89" width="10.8" height="0.91" fill="#fff" stroke="#3a3a3a" stroke-width="0.8"/>
<path d="M480.3,225.2 V298.8 H536.8" fill="none" stroke="#231f20" stroke-width="1.3"/>
<line x1="477.7" y1="298.8" x2="480.3" y2="298.8" stroke="#231f20" stroke-width="1.2" />
<text transform="translate(470.19,303.15)" font-size="12.2" text-anchor="start" fill="#231f20">0</text>
<line x1="477.7" y1="280.55" x2="480.3" y2="280.55" stroke="#231f20" stroke-width="1.2" />
<text transform="translate(456.62,284.9)" font-size="12.2" text-anchor="start" fill="#231f20">100</text>
<line x1="477.7" y1="262.3" x2="480.3" y2="262.3" stroke="#231f20" stroke-width="1.2" />
<text transform="translate(456.62,266.65)" font-size="12.2" text-anchor="start" fill="#231f20">200</text>
<line x1="477.7" y1="244.05" x2="480.3" y2="244.05" stroke="#231f20" stroke-width="1.2" />
<text transform="translate(456.62,248.4)" font-size="12.2" text-anchor="start" fill="#231f20">300</text>
<line x1="477.7" y1="225.8" x2="480.3" y2="225.8" stroke="#231f20" stroke-width="1.2" />
<text transform="translate(456.62,230.15)" font-size="12.2" text-anchor="start" fill="#231f20">400</text>
<line x1="492.4" y1="298.8" x2="492.4" y2="301.5" stroke="#231f20" stroke-width="1.2" />
<line x1="508.9" y1="298.8" x2="508.9" y2="301.5" stroke="#231f20" stroke-width="1.2" />
<line x1="525.4" y1="298.8" x2="525.4" y2="301.5" stroke="#231f20" stroke-width="1.2" />
<text transform="translate(457.75,315.7) scale(1.025,1)" font-size="12.3" text-anchor="start" fill="#231f20">PTX</text>
<text transform="translate(415.61,331.3) scale(1.025,1)" font-size="12.3" text-anchor="start" fill="#231f20">NBQX+AP5</text>
<path d="M490.9,310.7 H493.9" stroke="#231f20" stroke-width="0.95"/>
<path d="M506.2,311.2 H511.6 M508.9,308.5 V313.9" stroke="#231f20" stroke-width="0.95"/>
<path d="M523.9,310.7 H526.9" stroke="#231f20" stroke-width="0.95"/>
<path d="M490.9,326.3 H493.9" stroke="#231f20" stroke-width="0.95"/>
<path d="M507.4,326.3 H510.4" stroke="#231f20" stroke-width="0.95"/>
<path d="M522.7,326.8 H528.1 M525.4,324.1 V329.5" stroke="#231f20" stroke-width="0.95"/>
<line x1="490.5" y1="233" x2="504.7" y2="233" stroke="#3a3a3a" stroke-width="1.5" />
<path d="M492.9,222.05 L492.9,228.75 M490,223.72 L495.8,227.08 M495.8,223.72 L490,227.08 " stroke="#231f20" stroke-width="1.2" fill="none"/>
<path d="M502.3,222.05 L502.3,228.75 M499.4,223.72 L505.2,227.08 M505.2,223.72 L499.4,227.08 " stroke="#231f20" stroke-width="1.2" fill="none"/>
<line x1="509.3" y1="233" x2="523.7" y2="233" stroke="#3a3a3a" stroke-width="1.5" />
<text transform="translate(507.38,230.2)" font-size="10.3" text-anchor="start" fill="#231f20">N.S.</text>
<path d="M492.4,255.9 L508.9,288.9 L525.4,292.1" fill="none" stroke="#231f20" stroke-width="0.8"/>
<path d="M492.4,258.8 L508.9,292.5 L525.4,298.6" fill="none" stroke="#231f20" stroke-width="0.8"/>
<path d="M492.4,262.6 L508.9,298.8 L525.4,298.6" fill="none" stroke="#231f20" stroke-width="0.8"/>
<path d="M492.4,266 L508.9,298.8 L525.4,298.6" fill="none" stroke="#231f20" stroke-width="0.8"/>
<path d="M492.4,271.5 L508.9,296 L525.4,298.6" fill="none" stroke="#231f20" stroke-width="0.8"/>
<path d="M492.4,277 L508.9,298.8 L525.4,298.6" fill="none" stroke="#231f20" stroke-width="0.8"/>
<circle cx="492.4" cy="255.9" r="3.4" fill="#f5d2d8" fill-opacity="0.92" stroke="#4a4a4a" stroke-width="0.75"/>
<circle cx="492.4" cy="258.8" r="3.4" fill="#f5d2d8" fill-opacity="0.92" stroke="#4a4a4a" stroke-width="0.75"/>
<circle cx="492.4" cy="262.6" r="3.4" fill="#f5d2d8" fill-opacity="0.92" stroke="#4a4a4a" stroke-width="0.75"/>
<circle cx="492.4" cy="266" r="3.4" fill="#f5d2d8" fill-opacity="0.92" stroke="#4a4a4a" stroke-width="0.75"/>
<circle cx="492.4" cy="271.5" r="3.4" fill="#f5d2d8" fill-opacity="0.92" stroke="#4a4a4a" stroke-width="0.75"/>
<circle cx="492.4" cy="277" r="3.4" fill="#f5d2d8" fill-opacity="0.92" stroke="#4a4a4a" stroke-width="0.75"/>
<circle cx="508.9" cy="288.9" r="3.4" fill="#f1bc74" fill-opacity="0.92" stroke="#4a4a4a" stroke-width="0.75"/>
<circle cx="508.9" cy="292.5" r="3.4" fill="#f1bc74" fill-opacity="0.92" stroke="#4a4a4a" stroke-width="0.75"/>
<circle cx="508.9" cy="298.8" r="3.4" fill="#f1bc74" fill-opacity="0.92" stroke="#4a4a4a" stroke-width="0.75"/>
<circle cx="508.9" cy="298.8" r="3.4" fill="#f1bc74" fill-opacity="0.92" stroke="#4a4a4a" stroke-width="0.75"/>
<circle cx="508.9" cy="296" r="3.4" fill="#f1bc74" fill-opacity="0.92" stroke="#4a4a4a" stroke-width="0.75"/>
<circle cx="508.9" cy="298.8" r="3.4" fill="#f1bc74" fill-opacity="0.92" stroke="#4a4a4a" stroke-width="0.75"/>
<circle cx="525.4" cy="292.1" r="3.4" fill="#abdca2" fill-opacity="0.92" stroke="#4a4a4a" stroke-width="0.75"/>
<circle cx="525.4" cy="298.6" r="3.4" fill="#abdca2" fill-opacity="0.92" stroke="#4a4a4a" stroke-width="0.75"/>
<circle cx="525.4" cy="298.6" r="3.4" fill="#abdca2" fill-opacity="0.92" stroke="#4a4a4a" stroke-width="0.75"/>
<circle cx="525.4" cy="298.6" r="3.4" fill="#abdca2" fill-opacity="0.92" stroke="#4a4a4a" stroke-width="0.75"/>
<circle cx="525.4" cy="298.6" r="3.4" fill="#abdca2" fill-opacity="0.92" stroke="#4a4a4a" stroke-width="0.75"/>
<circle cx="525.4" cy="298.6" r="3.4" fill="#abdca2" fill-opacity="0.92" stroke="#4a4a4a" stroke-width="0.75"/>
<text transform="translate(433.4,257.6) rotate(-90) scale(1.025,1)" font-size="12.3" text-anchor="middle" fill="#231f20">oIPSCs</text>
<text transform="translate(448.7,258.9) rotate(-90) scale(1.0403749999999998,1)" font-size="12.3" text-anchor="middle" fill="#231f20">Amplitude (pA)</text>
<rect x="614.6" y="407.41" width="10.8" height="46.19" fill="#fff" stroke="#3a3a3a" stroke-width="0.8"/>
<rect x="632.2" y="452.86" width="10.8" height="0.74" fill="#fff" stroke="#3a3a3a" stroke-width="0.8"/>
<rect x="649.4" y="408.88" width="10.8" height="44.72" fill="#fff" stroke="#3a3a3a" stroke-width="0.8"/>
<rect x="666.5" y="452.86" width="10.8" height="0.74" fill="#fff" stroke="#3a3a3a" stroke-width="0.8"/>
<path d="M608.4,379.29 V453.6 H684" fill="none" stroke="#231f20" stroke-width="1.3"/>
<line x1="605.8" y1="453.6" x2="608.4" y2="453.6" stroke="#231f20" stroke-width="1.2" />
<text transform="translate(598.89,457.95)" font-size="12.2" text-anchor="start" fill="#231f20">0</text>
<line x1="605.8" y1="429.03" x2="608.4" y2="429.03" stroke="#231f20" stroke-width="1.2" />
<text transform="translate(585.32,433.38)" font-size="12.2" text-anchor="start" fill="#231f20">100</text>
<line x1="605.8" y1="404.46" x2="608.4" y2="404.46" stroke="#231f20" stroke-width="1.2" />
<text transform="translate(585.32,408.81)" font-size="12.2" text-anchor="start" fill="#231f20">200</text>
<line x1="605.8" y1="379.89" x2="608.4" y2="379.89" stroke="#231f20" stroke-width="1.2" />
<text transform="translate(585.32,384.24)" font-size="12.2" text-anchor="start" fill="#231f20">300</text>
<line x1="620" y1="453.6" x2="620" y2="456.3" stroke="#231f20" stroke-width="1.2" />
<line x1="637.6" y1="453.6" x2="637.6" y2="456.3" stroke="#231f20" stroke-width="1.2" />
<line x1="654.8" y1="453.6" x2="654.8" y2="456.3" stroke="#231f20" stroke-width="1.2" />
<line x1="671.9" y1="453.6" x2="671.9" y2="456.3" stroke="#231f20" stroke-width="1.2" />
<text transform="translate(583.65,469.8) scale(1.025,1)" font-size="12.3" text-anchor="start" fill="#231f20">TTX</text>
<text transform="translate(579.84,484.6) scale(1.025,1)" font-size="12.3" text-anchor="start" fill="#231f20">4-AP</text>
<text transform="translate(540.81,500.4) scale(1.025,1)" font-size="12.3" text-anchor="start" fill="#231f20">NBQX+AP5</text>
<path d="M618.5,464.8 H621.5" stroke="#231f20" stroke-width="0.95"/>
<path d="M634.9,465.3 H640.3 M637.6,462.6 V468" stroke="#231f20" stroke-width="0.95"/>
<path d="M652.1,465.3 H657.5 M654.8,462.6 V468" stroke="#231f20" stroke-width="0.95"/>
<path d="M669.2,465.3 H674.6 M671.9,462.6 V468" stroke="#231f20" stroke-width="0.95"/>
<path d="M618.5,479.6 H621.5" stroke="#231f20" stroke-width="0.95"/>
<path d="M636.1,479.6 H639.1" stroke="#231f20" stroke-width="0.95"/>
<path d="M652.1,480.1 H657.5 M654.8,477.4 V482.8" stroke="#231f20" stroke-width="0.95"/>
<path d="M669.2,480.1 H674.6 M671.9,477.4 V482.8" stroke="#231f20" stroke-width="0.95"/>
<path d="M618.5,495.4 H621.5" stroke="#231f20" stroke-width="0.95"/>
<path d="M636.1,495.4 H639.1" stroke="#231f20" stroke-width="0.95"/>
<path d="M653.3,495.4 H656.3" stroke="#231f20" stroke-width="0.95"/>
<path d="M669.2,495.9 H674.6 M671.9,493.2 V498.6" stroke="#231f20" stroke-width="0.95"/>
<line x1="618.9" y1="383.7" x2="633.2" y2="383.7" stroke="#3a3a3a" stroke-width="1.5" />
<path d="M621.35,373.35 L621.35,380.05 M618.45,375.02 L624.25,378.38 M624.25,375.02 L618.45,378.38 " stroke="#231f20" stroke-width="1.2" fill="none"/>
<path d="M630.75,373.35 L630.75,380.05 M627.85,375.02 L633.65,378.38 M633.65,375.02 L627.85,378.38 " stroke="#231f20" stroke-width="1.2" fill="none"/>
<line x1="639" y1="383.7" x2="653.6" y2="383.7" stroke="#3a3a3a" stroke-width="1.5" />
<path d="M641.6,373.35 L641.6,380.05 M638.7,375.02 L644.5,378.38 M644.5,375.02 L638.7,378.38 " stroke="#231f20" stroke-width="1.2" fill="none"/>
<path d="M651,373.35 L651,380.05 M648.1,375.02 L653.9,378.38 M653.9,375.02 L648.1,378.38 " stroke="#231f20" stroke-width="1.2" fill="none"/>
<line x1="658.3" y1="383.7" x2="673" y2="383.7" stroke="#3a3a3a" stroke-width="1.5" />
<path d="M660.95,373.35 L660.95,380.05 M658.05,375.02 L663.85,378.38 M663.85,375.02 L658.05,378.38 " stroke="#231f20" stroke-width="1.2" fill="none"/>
<path d="M670.35,373.35 L670.35,380.05 M667.45,375.02 L673.25,378.38 M673.25,375.02 L667.45,378.38 " stroke="#231f20" stroke-width="1.2" fill="none"/>
<path d="M620,390.5 L637.6,445.3 L654.8,394.9 L671.9,448.2" fill="none" stroke="#231f20" stroke-width="0.8"/>
<path d="M620,396.8 L637.6,453.6 L654.8,402.7 L671.9,453.6" fill="none" stroke="#231f20" stroke-width="0.8"/>
<path d="M620,400 L637.6,453.6 L654.8,405.6 L671.9,453.6" fill="none" stroke="#231f20" stroke-width="0.8"/>
<path d="M620,405.9 L637.6,453.6 L654.8,411.4 L671.9,453.6" fill="none" stroke="#231f20" stroke-width="0.8"/>
<path d="M620,419.3 L637.6,453.6 L654.8,426 L671.9,453.6" fill="none" stroke="#231f20" stroke-width="0.8"/>
<path d="M620,428.5 L637.6,445.3 L654.8,402.7 L671.9,453.6" fill="none" stroke="#231f20" stroke-width="0.8"/>
<circle cx="620" cy="390.5" r="3.4" fill="#f5d2d8" fill-opacity="0.92" stroke="#4a4a4a" stroke-width="0.75"/>
<circle cx="620" cy="396.8" r="3.4" fill="#f5d2d8" fill-opacity="0.92" stroke="#4a4a4a" stroke-width="0.75"/>
<circle cx="620" cy="400" r="3.4" fill="#f5d2d8" fill-opacity="0.92" stroke="#4a4a4a" stroke-width="0.75"/>
<circle cx="620" cy="405.9" r="3.4" fill="#f5d2d8" fill-opacity="0.92" stroke="#4a4a4a" stroke-width="0.75"/>
<circle cx="620" cy="419.3" r="3.4" fill="#f5d2d8" fill-opacity="0.92" stroke="#4a4a4a" stroke-width="0.75"/>
<circle cx="620" cy="428.5" r="3.4" fill="#f5d2d8" fill-opacity="0.92" stroke="#4a4a4a" stroke-width="0.75"/>
<circle cx="637.6" cy="445.3" r="3.4" fill="#f1bc74" fill-opacity="0.92" stroke="#4a4a4a" stroke-width="0.75"/>
<circle cx="637.6" cy="453.6" r="3.4" fill="#f1bc74" fill-opacity="0.92" stroke="#4a4a4a" stroke-width="0.75"/>
<circle cx="654.8" cy="394.9" r="3.4" fill="#abdca2" fill-opacity="0.92" stroke="#4a4a4a" stroke-width="0.75"/>
<circle cx="654.8" cy="402.7" r="3.4" fill="#abdca2" fill-opacity="0.92" stroke="#4a4a4a" stroke-width="0.75"/>
<circle cx="654.8" cy="405.6" r="3.4" fill="#abdca2" fill-opacity="0.92" stroke="#4a4a4a" stroke-width="0.75"/>
<circle cx="654.8" cy="411.4" r="3.4" fill="#abdca2" fill-opacity="0.92" stroke="#4a4a4a" stroke-width="0.75"/>
<circle cx="654.8" cy="426" r="3.4" fill="#abdca2" fill-opacity="0.92" stroke="#4a4a4a" stroke-width="0.75"/>
<circle cx="654.8" cy="402.7" r="3.4" fill="#abdca2" fill-opacity="0.92" stroke="#4a4a4a" stroke-width="0.75"/>
<circle cx="671.9" cy="448.2" r="3.4" fill="#a9cff0" fill-opacity="0.92" stroke="#4a4a4a" stroke-width="0.75"/>
<circle cx="671.9" cy="453.6" r="3.4" fill="#a9cff0" fill-opacity="0.92" stroke="#4a4a4a" stroke-width="0.75"/>
<text transform="translate(562.4,410) rotate(-90) scale(1.025,1)" font-size="12.3" text-anchor="middle" fill="#231f20">oEPSCs</text>
<text transform="translate(577.7,411.5) rotate(-90) scale(1.025,1)" font-size="12.3" text-anchor="middle" fill="#231f20">Amplitude (pA)</text>
<rect x="608.5" y="609.15" width="10.8" height="49.15" fill="#fff" stroke="#3a3a3a" stroke-width="0.8"/>
<rect x="625.4" y="657.81" width="10.8" height="0.49" fill="#fff" stroke="#3a3a3a" stroke-width="0.8"/>
<rect x="642.5" y="629.1" width="10.8" height="29.2" fill="#fff" stroke="#3a3a3a" stroke-width="0.8"/>
<rect x="660" y="657.81" width="10.8" height="0.49" fill="#fff" stroke="#3a3a3a" stroke-width="0.8"/>
<path d="M602.2,584.71 V658.3 H677.1" fill="none" stroke="#231f20" stroke-width="1.3"/>
<line x1="599.6" y1="658.3" x2="602.2" y2="658.3" stroke="#231f20" stroke-width="1.2" />
<text transform="translate(592.49,662.65)" font-size="12.2" text-anchor="start" fill="#231f20">0</text>
<line x1="599.6" y1="633.97" x2="602.2" y2="633.97" stroke="#231f20" stroke-width="1.2" />
<text transform="translate(578.92,638.32)" font-size="12.2" text-anchor="start" fill="#231f20">100</text>
<line x1="599.6" y1="609.64" x2="602.2" y2="609.64" stroke="#231f20" stroke-width="1.2" />
<text transform="translate(578.92,613.99)" font-size="12.2" text-anchor="start" fill="#231f20">200</text>
<line x1="599.6" y1="585.31" x2="602.2" y2="585.31" stroke="#231f20" stroke-width="1.2" />
<text transform="translate(578.92,589.66)" font-size="12.2" text-anchor="start" fill="#231f20">300</text>
<line x1="613.9" y1="658.3" x2="613.9" y2="661" stroke="#231f20" stroke-width="1.2" />
<line x1="630.8" y1="658.3" x2="630.8" y2="661" stroke="#231f20" stroke-width="1.2" />
<line x1="647.9" y1="658.3" x2="647.9" y2="661" stroke="#231f20" stroke-width="1.2" />
<line x1="665.4" y1="658.3" x2="665.4" y2="661" stroke="#231f20" stroke-width="1.2" />
<text transform="translate(579.45,675.3) scale(1.025,1)" font-size="12.3" text-anchor="start" fill="#231f20">TTX</text>
<text transform="translate(575.64,690.6) scale(1.025,1)" font-size="12.3" text-anchor="start" fill="#231f20">4-AP</text>
<text transform="translate(578.75,707.5) scale(1.025,1)" font-size="12.3" text-anchor="start" fill="#231f20">PTX</text>
<path d="M612.4,670.3 H615.4" stroke="#231f20" stroke-width="0.95"/>
<path d="M628.1,670.8 H633.5 M630.8,668.1 V673.5" stroke="#231f20" stroke-width="0.95"/>
<path d="M645.2,670.8 H650.6 M647.9,668.1 V673.5" stroke="#231f20" stroke-width="0.95"/>
<path d="M662.7,670.8 H668.1 M665.4,668.1 V673.5" stroke="#231f20" stroke-width="0.95"/>
<path d="M612.4,685.6 H615.4" stroke="#231f20" stroke-width="0.95"/>
<path d="M629.3,685.6 H632.3" stroke="#231f20" stroke-width="0.95"/>
<path d="M645.2,686.1 H650.6 M647.9,683.4 V688.8" stroke="#231f20" stroke-width="0.95"/>
<path d="M662.7,686.1 H668.1 M665.4,683.4 V688.8" stroke="#231f20" stroke-width="0.95"/>
<path d="M612.4,702.5 H615.4" stroke="#231f20" stroke-width="0.95"/>
<path d="M629.3,702.5 H632.3" stroke="#231f20" stroke-width="0.95"/>
<path d="M646.4,702.5 H649.4" stroke="#231f20" stroke-width="0.95"/>
<path d="M662.7,703 H668.1 M665.4,700.3 V705.7" stroke="#231f20" stroke-width="0.95"/>
<line x1="613.6" y1="588.5" x2="628.2" y2="588.5" stroke="#3a3a3a" stroke-width="1.5" />
<path d="M616.2,578.05 L616.2,584.75 M613.3,579.73 L619.1,583.07 M619.1,579.73 L613.3,583.07 " stroke="#231f20" stroke-width="1.2" fill="none"/>
<path d="M625.6,578.05 L625.6,584.75 M622.7,579.73 L628.5,583.07 M628.5,579.73 L622.7,583.07 " stroke="#231f20" stroke-width="1.2" fill="none"/>
<line x1="632.1" y1="588.5" x2="646.9" y2="588.5" stroke="#3a3a3a" stroke-width="1.5" />
<path d="M634.8,578.05 L634.8,584.75 M631.9,579.73 L637.7,583.07 M637.7,579.73 L631.9,583.07 " stroke="#231f20" stroke-width="1.2" fill="none"/>
<path d="M644.2,578.05 L644.2,584.75 M641.3,579.73 L647.1,583.07 M647.1,579.73 L641.3,583.07 " stroke="#231f20" stroke-width="1.2" fill="none"/>
<line x1="650.4" y1="588.5" x2="664.7" y2="588.5" stroke="#3a3a3a" stroke-width="1.5" />
<path d="M652.85,578.05 L652.85,584.75 M649.95,579.73 L655.75,583.07 M655.75,579.73 L649.95,583.07 " stroke="#231f20" stroke-width="1.2" fill="none"/>
<path d="M662.25,578.05 L662.25,584.75 M659.35,579.73 L665.15,583.07 M665.15,579.73 L659.35,583.07 " stroke="#231f20" stroke-width="1.2" fill="none"/>
<path d="M613.9,601.4 L630.8,652.5 L647.9,622.3 L665.4,646.9" fill="none" stroke="#231f20" stroke-width="0.8"/>
<path d="M613.9,603.9 L630.8,655.4 L647.9,627.2 L665.4,658.3" fill="none" stroke="#231f20" stroke-width="0.8"/>
<path d="M613.9,606.5 L630.8,658.3 L647.9,630.1 L665.4,658.3" fill="none" stroke="#231f20" stroke-width="0.8"/>
<path d="M613.9,609.4 L630.8,658.3 L647.9,637.2 L665.4,658.3" fill="none" stroke="#231f20" stroke-width="0.8"/>
<path d="M613.9,613.1 L630.8,655.4 L647.9,627.2 L665.4,658.3" fill="none" stroke="#231f20" stroke-width="0.8"/>
<path d="M613.9,615.3 L630.8,658.3 L647.9,630.1 L665.4,658.3" fill="none" stroke="#231f20" stroke-width="0.8"/>
<path d="M613.9,617.4 L630.8,652.5 L647.9,622.3 L665.4,658.3" fill="none" stroke="#231f20" stroke-width="0.8"/>
<circle cx="613.9" cy="601.4" r="3.4" fill="#f5d2d8" fill-opacity="0.92" stroke="#4a4a4a" stroke-width="0.75"/>
<circle cx="613.9" cy="603.9" r="3.4" fill="#f5d2d8" fill-opacity="0.92" stroke="#4a4a4a" stroke-width="0.75"/>
<circle cx="613.9" cy="606.5" r="3.4" fill="#f5d2d8" fill-opacity="0.92" stroke="#4a4a4a" stroke-width="0.75"/>
<circle cx="613.9" cy="609.4" r="3.4" fill="#f5d2d8" fill-opacity="0.92" stroke="#4a4a4a" stroke-width="0.75"/>
<circle cx="613.9" cy="613.1" r="3.4" fill="#f5d2d8" fill-opacity="0.92" stroke="#4a4a4a" stroke-width="0.75"/>
<circle cx="613.9" cy="615.3" r="3.4" fill="#f5d2d8" fill-opacity="0.92" stroke="#4a4a4a" stroke-width="0.75"/>
<circle cx="613.9" cy="617.4" r="3.4" fill="#f5d2d8" fill-opacity="0.92" stroke="#4a4a4a" stroke-width="0.75"/>
<circle cx="630.8" cy="652.5" r="3.4" fill="#f1bc74" fill-opacity="0.92" stroke="#4a4a4a" stroke-width="0.75"/>
<circle cx="630.8" cy="655.4" r="3.4" fill="#f1bc74" fill-opacity="0.92" stroke="#4a4a4a" stroke-width="0.75"/>
<circle cx="630.8" cy="658.3" r="3.4" fill="#f1bc74" fill-opacity="0.92" stroke="#4a4a4a" stroke-width="0.75"/>
<circle cx="647.9" cy="622.3" r="3.4" fill="#abdca2" fill-opacity="0.92" stroke="#4a4a4a" stroke-width="0.75"/>
<circle cx="647.9" cy="627.2" r="3.4" fill="#abdca2" fill-opacity="0.92" stroke="#4a4a4a" stroke-width="0.75"/>
<circle cx="647.9" cy="630.1" r="3.4" fill="#abdca2" fill-opacity="0.92" stroke="#4a4a4a" stroke-width="0.75"/>
<circle cx="647.9" cy="637.2" r="3.4" fill="#abdca2" fill-opacity="0.92" stroke="#4a4a4a" stroke-width="0.75"/>
<circle cx="647.9" cy="627.2" r="3.4" fill="#abdca2" fill-opacity="0.92" stroke="#4a4a4a" stroke-width="0.75"/>
<circle cx="647.9" cy="630.1" r="3.4" fill="#abdca2" fill-opacity="0.92" stroke="#4a4a4a" stroke-width="0.75"/>
<circle cx="647.9" cy="622.3" r="3.4" fill="#abdca2" fill-opacity="0.92" stroke="#4a4a4a" stroke-width="0.75"/>
<circle cx="665.4" cy="646.9" r="3.4" fill="#a9cff0" fill-opacity="0.92" stroke="#4a4a4a" stroke-width="0.75"/>
<circle cx="665.4" cy="658.3" r="3.4" fill="#a9cff0" fill-opacity="0.92" stroke="#4a4a4a" stroke-width="0.75"/>
<text transform="translate(556.4,621.6) rotate(-90) scale(1.025,1)" font-size="12.3" text-anchor="middle" fill="#231f20">oIPSCs</text>
<text transform="translate(570.9,623.9) rotate(-90) scale(1.0454999999999999,1)" font-size="12.3" text-anchor="middle" fill="#231f20">Amplitude (pA)</text></svg>
</body></html>
